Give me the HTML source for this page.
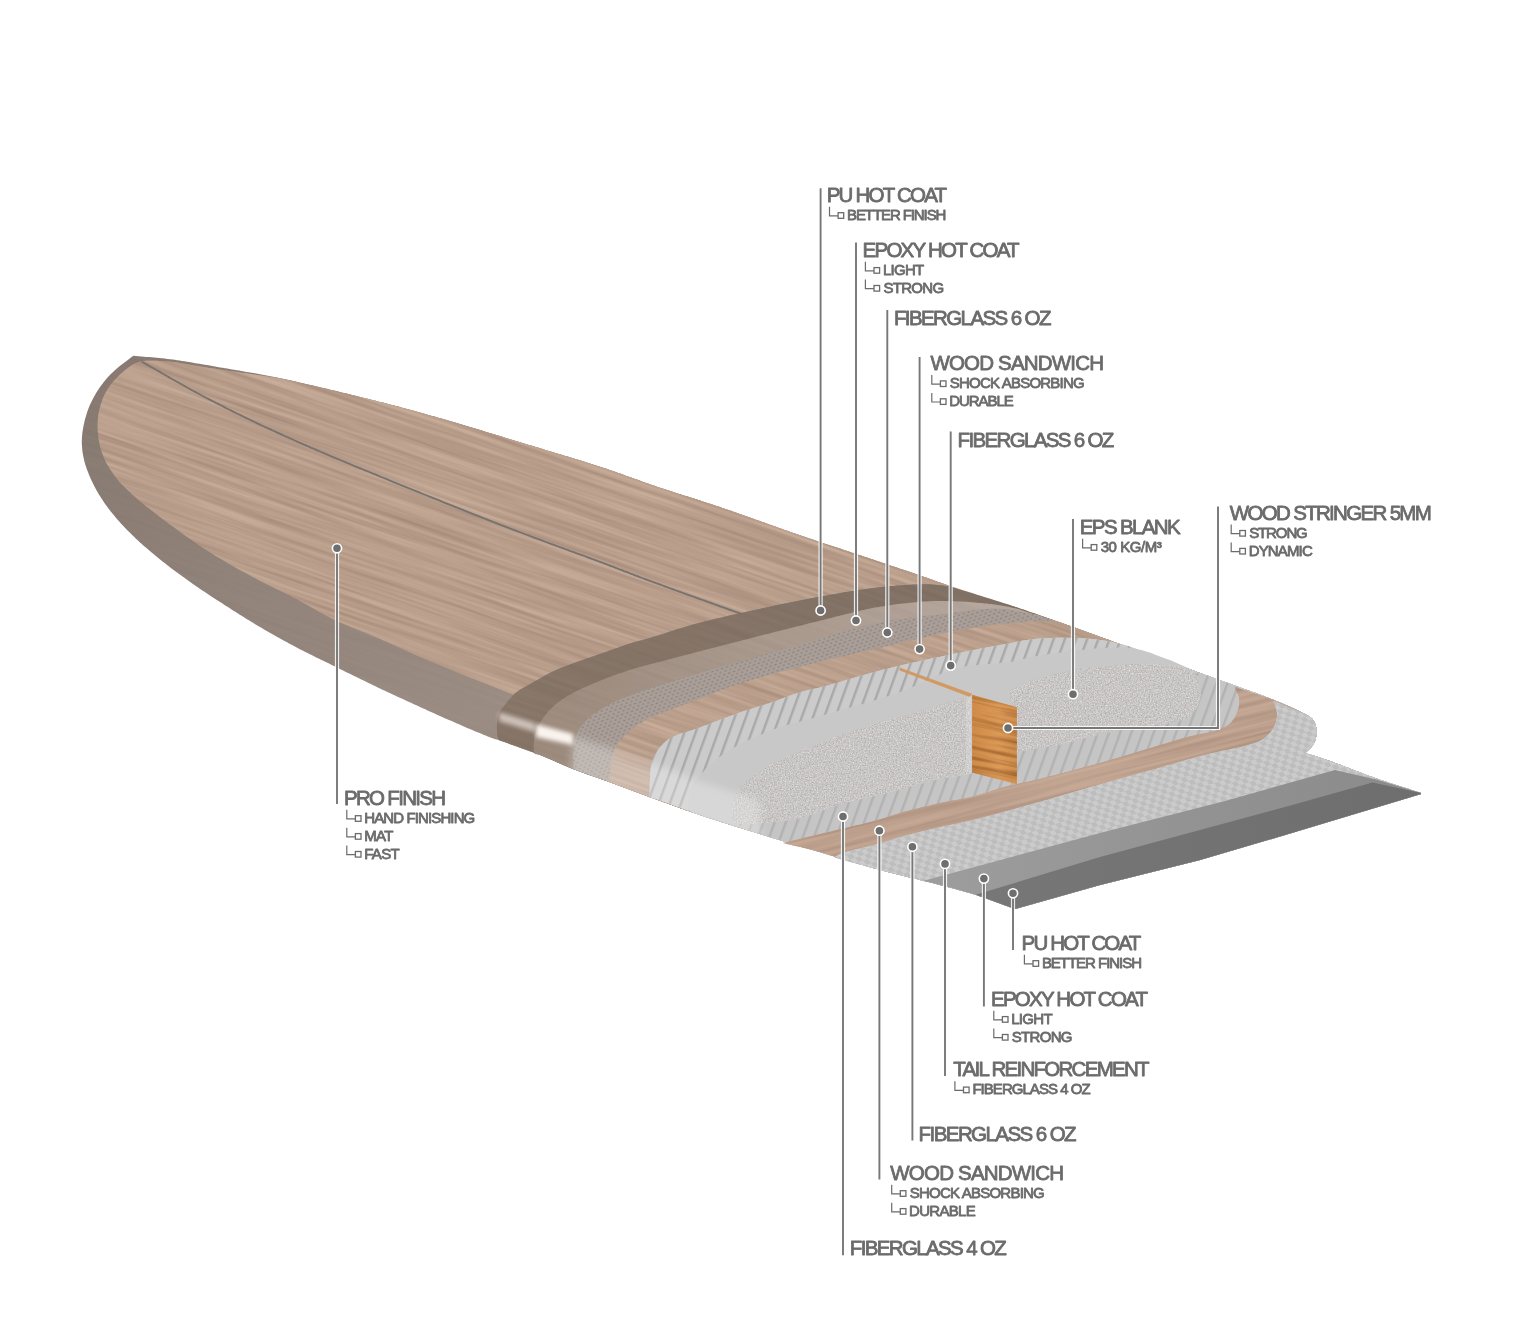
<!DOCTYPE html>
<html><head><meta charset="utf-8">
<style>
html,body{margin:0;padding:0;background:#fff;width:1531px;height:1341px;overflow:hidden}
svg{position:absolute;left:0;top:0;will-change:transform}
text{font-family:"Liberation Sans",sans-serif;fill:#6b6b6b;stroke:#6b6b6b;stroke-width:0.8px;stroke-linejoin:round}
.m{font-size:20.5px;font-weight:400}
.s{font-size:15px;font-weight:400}
.ld line,.ld polyline{stroke:#777777;stroke-width:1.9}
.hl line,.hl polyline{stroke:#ffffff;stroke-width:4.2;opacity:.85}
.dt circle{fill:#6e6e6e;stroke:#fff;stroke-width:1.6}
</style></head><body>
<svg width="1531" height="1341" viewBox="0 0 1531 1341">
<defs>
<clipPath id="c0"><path d="M133.4,355.8 L136.0,356.0 L138.6,356.3 L141.1,356.5 L143.7,356.7 L146.2,356.9 L148.8,357.1 L151.4,357.3 L153.9,357.5 L156.5,357.7 L159.1,358.0 L161.8,358.3 L164.5,358.5 L167.2,358.9 L170.0,359.2 L172.3,359.5 L174.7,359.8 L177.0,360.2 L179.4,360.5 L181.9,360.9 L184.3,361.3 L186.8,361.7 L189.2,362.1 L191.7,362.5 L194.2,362.9 L196.8,363.4 L199.3,363.8 L201.9,364.2 L204.4,364.7 L207.0,365.1 L209.6,365.6 L212.2,366.0 L214.8,366.5 L217.4,366.9 L220.0,367.4 L222.4,367.8 L224.8,368.2 L227.1,368.6 L229.5,369.0 L231.9,369.4 L234.3,369.8 L236.7,370.2 L239.1,370.6 L241.5,371.0 L243.9,371.4 L246.3,371.9 L248.7,372.3 L251.2,372.7 L253.7,373.1 L256.2,373.6 L258.7,374.0 L261.3,374.5 L263.8,375.0 L266.4,375.5 L269.1,376.0 L271.8,376.5 L274.5,377.1 L277.2,377.6 L280.0,378.2 L282.2,378.7 L284.4,379.1 L286.6,379.6 L288.9,380.1 L291.2,380.6 L293.5,381.1 L295.9,381.6 L298.3,382.2 L300.8,382.7 L303.2,383.3 L305.7,383.9 L308.2,384.4 L310.7,385.0 L313.3,385.6 L315.8,386.2 L318.4,386.8 L321.0,387.4 L323.6,388.0 L326.2,388.6 L328.8,389.2 L331.3,389.9 L333.9,390.5 L336.5,391.1 L339.1,391.7 L341.7,392.4 L344.2,393.0 L346.8,393.6 L349.3,394.2 L351.9,394.9 L354.4,395.5 L356.8,396.1 L359.3,396.7 L361.7,397.3 L364.1,397.9 L366.5,398.5 L368.9,399.1 L371.2,399.7 L373.4,400.2 L375.7,400.8 L377.9,401.4 L380.0,401.9 L382.8,402.6 L385.5,403.3 L388.1,404.0 L390.7,404.7 L393.3,405.3 L395.7,406.0 L398.2,406.6 L400.6,407.2 L403.0,407.9 L405.3,408.5 L407.7,409.2 L410.0,409.8 L412.4,410.4 L414.7,411.1 L417.1,411.7 L419.5,412.4 L421.9,413.1 L424.3,413.7 L426.8,414.4 L429.3,415.2 L431.9,415.9 L434.5,416.6 L437.2,417.4 L440.0,418.2 L442.2,418.8 L444.4,419.5 L446.6,420.1 L448.9,420.8 L451.2,421.4 L453.5,422.1 L455.9,422.8 L458.3,423.5 L460.8,424.3 L463.2,425.0 L465.7,425.7 L468.2,426.5 L470.7,427.2 L473.3,428.0 L475.8,428.8 L478.4,429.5 L481.0,430.3 L483.5,431.1 L486.1,431.9 L488.7,432.7 L491.3,433.5 L493.9,434.2 L496.5,435.0 L499.1,435.8 L501.7,436.6 L504.2,437.4 L506.8,438.2 L509.3,438.9 L511.8,439.7 L514.3,440.5 L516.8,441.2 L519.3,442.0 L521.7,442.7 L524.1,443.5 L526.5,444.2 L528.8,444.9 L531.1,445.6 L533.4,446.3 L535.7,447.0 L537.8,447.6 L540.0,448.3 L542.7,449.1 L545.3,449.9 L547.9,450.7 L550.5,451.5 L553.0,452.2 L555.5,453.0 L557.9,453.7 L560.3,454.4 L562.7,455.1 L565.1,455.9 L567.5,456.6 L569.8,457.3 L572.1,458.0 L574.5,458.7 L576.8,459.4 L579.1,460.1 L581.4,460.8 L583.7,461.5 L586.0,462.2 L588.3,462.9 L590.6,463.7 L592.9,464.4 L595.3,465.2 L597.6,465.9 L600.0,466.7 L602.4,467.5 L604.8,468.3 L607.2,469.1 L609.6,469.9 L612.0,470.8 L614.4,471.6 L616.8,472.4 L619.2,473.3 L621.6,474.1 L624.0,475.0 L626.4,475.9 L628.8,476.7 L631.2,477.6 L633.6,478.4 L636.0,479.3 L638.4,480.1 L640.8,481.0 L643.2,481.9 L645.6,482.7 L648.0,483.6 L650.4,484.4 L652.8,485.2 L655.2,486.1 L657.6,486.9 L660.0,487.7 L662.4,488.5 L664.8,489.3 L667.1,490.1 L669.5,490.8 L671.9,491.6 L674.2,492.4 L676.5,493.1 L678.9,493.9 L681.2,494.6 L683.6,495.4 L685.9,496.1 L688.3,496.8 L690.6,497.6 L693.0,498.3 L695.4,499.1 L697.8,499.8 L700.2,500.6 L702.6,501.4 L705.0,502.2 L707.5,503.0 L709.9,503.8 L712.4,504.6 L714.9,505.4 L717.4,506.2 L720.0,507.1 L722.3,507.9 L724.6,508.7 L726.9,509.5 L729.3,510.3 L731.7,511.1 L734.1,511.9 L736.5,512.8 L739.0,513.7 L741.4,514.5 L743.9,515.4 L746.4,516.3 L748.9,517.2 L751.4,518.1 L754.0,519.0 L756.5,519.9 L759.0,520.8 L761.5,521.7 L764.1,522.6 L766.6,523.5 L769.1,524.4 L771.6,525.3 L774.1,526.2 L776.6,527.1 L779.0,527.9 L781.4,528.8 L783.9,529.7 L786.3,530.5 L788.6,531.3 L791.0,532.2 L793.3,533.0 L795.6,533.8 L797.8,534.5 L800.0,535.3 L802.7,536.2 L805.3,537.1 L807.8,538.0 L810.3,538.8 L812.8,539.6 L815.3,540.5 L817.7,541.3 L820.1,542.1 L822.5,542.9 L824.9,543.7 L827.2,544.4 L829.6,545.2 L831.9,546.0 L834.3,546.8 L836.6,547.5 L839.0,548.3 L841.4,549.1 L843.8,549.9 L846.2,550.7 L848.7,551.5 L851.2,552.4 L853.7,553.2 L856.1,554.0 L858.5,554.8 L860.9,555.6 L863.4,556.4 L865.9,557.3 L868.4,558.1 L871.0,559.0 L873.6,559.8 L876.2,560.7 L878.7,561.6 L881.3,562.4 L883.9,563.3 L886.5,564.1 L889.1,565.0 L891.6,565.9 L894.2,566.7 L896.7,567.5 L899.1,568.4 L901.6,569.2 L904.0,570.0 L906.3,570.8 L908.6,571.6 L910.8,572.3 L913.0,573.1 L915.1,573.8 L917.2,574.5 L919.9,575.4 L922.5,576.3 L924.9,577.2 L927.3,578.0 L929.5,578.8 L931.7,579.6 L933.9,580.4 L936.1,581.2 L938.4,582.0 L940.7,582.8 L943.2,583.7 L945.8,584.6 L948.6,585.5 L950.6,586.2 L952.7,586.9 L954.8,587.6 L957.0,588.3 L959.3,589.0 L961.6,589.8 L964.0,590.5 L966.4,591.3 L968.9,592.1 L971.4,592.8 L973.9,593.6 L976.4,594.4 L979.0,595.2 L981.6,596.1 L984.2,596.9 L986.8,597.7 L989.4,598.5 L992.0,599.3 L994.6,600.2 L997.2,601.0 L999.8,601.8 L1002.4,602.7 L1004.9,603.5 L1007.5,604.3 L1010.0,605.1 L1012.4,605.9 L1014.8,606.7 L1017.2,607.5 L1019.8,608.4 L1022.3,609.2 L1024.9,610.1 L1027.5,611.0 L1030.0,611.9 L1032.6,612.7 L1035.1,613.6 L1037.7,614.5 L1040.3,615.4 L1042.8,616.3 L1045.3,617.2 L1047.8,618.1 L1050.3,619.0 L1052.8,619.8 L1055.2,620.7 L1057.7,621.6 L1060.1,622.4 L1062.5,623.3 L1064.8,624.1 L1067.1,624.9 L1069.4,625.7 L1071.6,626.5 L1073.8,627.3 L1076.0,628.1 L1078.6,629.0 L1081.2,630.0 L1083.7,630.8 L1086.1,631.7 L1088.4,632.6 L1090.8,633.4 L1093.1,634.3 L1095.4,635.1 L1097.6,635.9 L1099.9,636.8 L1102.2,637.6 L1104.5,638.4 L1106.8,639.3 L1109.1,640.1 L1111.5,641.0 L1113.9,641.9 L1116.3,642.8 L1118.8,643.7 L1121.3,644.6 L1123.8,645.5 L1126.4,646.4 L1128.9,647.3 L1131.4,648.3 L1133.9,649.2 L1136.4,650.1 L1138.8,650.9 L1141.2,651.8 L1143.5,652.7 L1145.8,653.5 L1147.9,654.3 L1150.0,655.0 L1152.8,656.0 L1155.4,657.0 L1157.9,657.9 L1160.3,658.7 L1162.7,659.6 L1165.0,660.4 L1167.5,661.3 L1170.0,662.2 L1172.5,663.1 L1175.1,664.0 L1177.6,664.9 L1180.2,665.9 L1182.8,666.8 L1185.5,667.7 L1188.1,668.7 L1190.8,669.6 L1193.5,670.6 L1195.9,671.5 L1198.4,672.4 L1201.0,673.3 L1203.5,674.2 L1206.1,675.2 L1208.7,676.1 L1211.2,677.0 L1213.7,677.9 L1216.1,678.8 L1218.4,679.6 L1220.5,680.4 L1223.5,681.5 L1226.1,682.4 L1228.7,683.3 L1231.4,684.3 L1234.6,685.5 L1236.5,686.2 L1238.6,686.9 L1240.8,687.7 L1243.1,688.5 L1245.5,689.4 L1248.0,690.3 L1250.6,691.2 L1253.2,692.2 L1255.8,693.1 L1258.4,694.1 L1261.1,695.0 L1263.7,696.0 L1266.2,697.0 L1268.7,697.9 L1271.1,698.9 L1273.4,699.8 L1276.0,700.9 L1278.6,702.0 L1281.1,703.0 L1283.5,704.1 L1286.0,705.2 L1288.4,706.3 L1290.8,707.4 L1293.2,708.5 L1295.6,709.6 L1298.0,710.7 L1300.4,711.8 L1302.8,712.9 L1302.8,712.9 L1305.3,714.3 L1307.8,715.7 L1310.2,717.1 L1312.2,718.8 L1313.8,720.9 L1315.0,723.3 L1315.8,725.8 L1316.4,728.8 L1316.6,732.0 L1316.4,735.2 L1315.8,738.4 L1314.9,741.6 L1313.4,744.6 L1311.7,746.8 L1309.6,748.9 L1307.4,750.9 L1305.2,752.9 L1305.2,752.9 L1307.6,753.7 L1310.0,754.5 L1312.4,755.2 L1314.8,756.0 L1317.2,756.8 L1319.6,757.6 L1322.0,758.4 L1324.6,759.2 L1327.2,760.1 L1330.0,761.1 L1332.1,761.8 L1334.2,762.6 L1336.4,763.4 L1338.6,764.3 L1340.9,765.1 L1343.2,766.0 L1345.6,766.9 L1348.0,767.8 L1350.4,768.8 L1352.9,769.7 L1355.3,770.7 L1357.8,771.6 L1360.3,772.6 L1362.8,773.5 L1365.2,774.5 L1367.7,775.4 L1370.2,776.3 L1372.6,777.1 L1375.0,778.0 L1377.4,778.8 L1379.8,779.7 L1382.2,780.5 L1384.6,781.3 L1387.0,782.1 L1389.5,782.9 L1391.9,783.7 L1394.3,784.5 L1396.7,785.2 L1399.2,786.0 L1401.6,786.8 L1404.0,787.6 L1406.4,788.3 L1408.9,789.1 L1411.3,789.9 L1413.7,790.7 L1416.2,791.4 L1418.6,792.2 L1421.0,793.0 L1421.0,794.0 L1285.0,835.0 L1200.0,860.0 L1100.0,885.0 L1015.0,909.0 L1015.0,909.0 L975.6,894.8 L936.4,884.0 L877.6,869.3 L818.8,851.7 L760.0,834.0 L700.0,815.0 L652.4,798.0 L609.3,782.0 L573.4,769.2 L540.0,755.0 L498.7,740.0 L498.7,740.0 L494.5,739.0 L493.2,738.6 L491.7,738.0 L489.9,737.3 L487.9,736.5 L485.7,735.6 L483.4,734.7 L480.9,733.6 L478.3,732.6 L475.6,731.4 L472.8,730.3 L470.0,729.1 L467.2,727.9 L464.5,726.7 L461.7,725.5 L459.0,724.3 L456.4,723.2 L453.9,722.1 L451.6,721.1 L449.1,720.0 L446.7,718.9 L444.2,717.9 L441.8,716.8 L439.4,715.7 L437.0,714.7 L434.7,713.6 L432.3,712.5 L429.9,711.5 L427.6,710.4 L425.3,709.3 L422.9,708.2 L420.5,707.2 L418.2,706.1 L415.8,705.0 L413.4,703.9 L411.1,702.8 L408.7,701.8 L406.3,700.7 L404.0,699.6 L401.7,698.6 L399.3,697.5 L397.0,696.4 L394.6,695.3 L392.2,694.2 L389.8,693.1 L387.4,692.0 L385.0,690.8 L382.5,689.7 L380.0,688.5 L377.8,687.4 L375.5,686.3 L373.2,685.2 L370.8,684.1 L368.5,683.0 L366.1,681.8 L363.7,680.6 L361.3,679.5 L358.9,678.3 L356.5,677.1 L354.1,675.9 L351.7,674.7 L349.3,673.6 L346.9,672.4 L344.5,671.2 L342.2,670.0 L339.8,668.9 L337.5,667.7 L335.2,666.6 L332.8,665.4 L330.4,664.3 L328.1,663.1 L325.7,661.9 L323.3,660.8 L321.0,659.7 L318.7,658.5 L316.3,657.4 L314.0,656.2 L311.7,655.1 L309.4,654.0 L307.1,652.8 L304.9,651.7 L302.6,650.5 L300.3,649.4 L298.1,648.2 L295.8,647.0 L293.5,645.8 L291.2,644.6 L289.0,643.4 L286.7,642.1 L284.5,640.9 L282.3,639.7 L280.1,638.5 L277.8,637.3 L275.6,636.0 L273.4,634.8 L271.2,633.5 L269.0,632.2 L266.8,631.0 L264.5,629.7 L262.3,628.3 L260.0,627.0 L257.8,625.7 L255.6,624.4 L253.4,623.0 L251.2,621.7 L248.9,620.3 L246.6,618.9 L244.4,617.5 L242.1,616.1 L239.8,614.7 L237.6,613.2 L235.3,611.8 L233.1,610.4 L230.9,609.0 L228.8,607.6 L226.6,606.3 L224.5,604.9 L222.5,603.6 L220.5,602.3 L218.1,600.7 L215.7,599.2 L213.4,597.7 L211.1,596.2 L208.9,594.7 L206.7,593.3 L204.6,591.8 L202.4,590.4 L200.2,588.9 L198.1,587.4 L195.9,585.9 L193.7,584.4 L191.6,582.9 L189.5,581.5 L187.5,580.0 L185.4,578.5 L183.3,577.0 L181.2,575.5 L179.1,574.0 L177.1,572.5 L175.0,571.0 L173.0,569.4 L170.9,567.9 L168.8,566.3 L166.8,564.7 L164.7,563.1 L162.6,561.4 L160.5,559.7 L158.3,558.0 L156.2,556.3 L154.1,554.6 L152.0,552.8 L149.9,551.1 L147.9,549.3 L145.9,547.6 L143.9,545.9 L141.9,544.1 L140.0,542.4 L138.0,540.6 L136.0,538.7 L134.1,536.8 L132.2,535.0 L130.3,533.1 L128.4,531.3 L126.6,529.4 L124.8,527.6 L123.1,525.7 L121.4,523.9 L119.7,522.0 L117.9,519.9 L116.1,517.9 L114.4,515.8 L112.7,513.8 L111.0,511.7 L109.4,509.7 L107.8,507.6 L106.3,505.5 L104.8,503.4 L103.2,501.1 L101.7,498.8 L100.3,496.6 L98.8,494.3 L97.5,491.9 L96.1,489.6 L94.9,487.2 L93.6,484.7 L92.4,482.3 L91.3,479.9 L90.2,477.4 L89.1,474.9 L88.1,472.3 L87.1,469.8 L86.2,467.3 L85.4,464.8 L84.7,462.4 L84.0,459.8 L83.5,457.3 L83.0,454.7 L82.6,452.3 L82.3,449.8 L82.1,447.4 L81.9,445.0 L81.8,442.1 L81.9,439.3 L82.0,436.5 L82.3,433.7 L82.7,430.8 L83.1,428.2 L83.6,425.6 L84.2,422.9 L84.8,420.1 L85.6,417.4 L86.4,414.7 L87.2,412.1 L88.1,409.6 L89.0,407.2 L90.0,404.8 L91.1,402.5 L92.2,400.2 L93.4,397.9 L94.6,395.7 L96.0,393.3 L97.4,391.0 L98.9,388.8 L100.4,386.6 L102.0,384.4 L103.6,382.3 L105.3,380.2 L107.1,378.1 L109.0,376.1 L110.9,374.1 L112.8,372.2 L114.7,370.4 L116.9,368.4 L119.2,366.5 L121.5,364.7 L123.8,363.0 L125.9,361.4 L128.5,359.4 L131.0,357.6 L133.4,355.8 Z"/></clipPath><clipPath id="c1"><path d="M280.0,378.2 L282.4,378.8 L284.9,379.4 L287.4,379.9 L289.9,380.5 L292.4,381.1 L294.9,381.7 L297.4,382.3 L299.9,382.9 L302.4,383.5 L305.0,384.0 L307.5,384.6 L310.0,385.2 L312.6,385.8 L315.1,386.4 L317.7,387.0 L320.2,387.6 L322.8,388.2 L325.3,388.8 L327.8,389.4 L330.3,389.9 L332.9,390.5 L335.4,391.1 L337.9,391.7 L340.4,392.3 L342.8,392.9 L345.3,393.5 L347.8,394.0 L350.2,394.6 L352.6,395.2 L355.0,395.8 L357.4,396.3 L359.8,396.9 L362.1,397.5 L364.4,398.0 L366.7,398.6 L369.0,399.2 L371.3,399.7 L373.5,400.3 L375.7,400.8 L377.9,401.4 L380.0,401.9 L382.8,402.6 L385.5,403.3 L388.1,404.0 L390.7,404.7 L393.3,405.3 L395.7,406.0 L398.2,406.6 L400.6,407.2 L403.0,407.9 L405.3,408.5 L407.7,409.2 L410.0,409.8 L412.4,410.4 L414.7,411.1 L417.1,411.7 L419.5,412.4 L421.9,413.1 L424.3,413.7 L426.8,414.4 L429.3,415.2 L431.9,415.9 L434.5,416.6 L437.2,417.4 L440.0,418.2 L442.2,418.8 L444.4,419.5 L446.6,420.1 L448.9,420.8 L451.2,421.4 L453.5,422.1 L455.9,422.8 L458.3,423.5 L460.8,424.3 L463.2,425.0 L465.7,425.7 L468.2,426.5 L470.7,427.2 L473.3,428.0 L475.8,428.8 L478.4,429.5 L481.0,430.3 L483.5,431.1 L486.1,431.9 L488.7,432.7 L491.3,433.5 L493.9,434.2 L496.5,435.0 L499.1,435.8 L501.7,436.6 L504.2,437.4 L506.8,438.2 L509.3,438.9 L511.8,439.7 L514.3,440.5 L516.8,441.2 L519.3,442.0 L521.7,442.7 L524.1,443.5 L526.5,444.2 L528.8,444.9 L531.1,445.6 L533.4,446.3 L535.7,447.0 L537.8,447.6 L540.0,448.3 L542.7,449.1 L545.3,449.9 L547.9,450.7 L550.5,451.5 L553.0,452.2 L555.5,453.0 L557.9,453.7 L560.3,454.4 L562.7,455.1 L565.1,455.9 L567.5,456.6 L569.8,457.3 L572.1,458.0 L574.5,458.7 L576.8,459.4 L579.1,460.1 L581.4,460.8 L583.7,461.5 L586.0,462.2 L588.3,462.9 L590.6,463.7 L592.9,464.4 L595.3,465.2 L597.6,465.9 L600.0,466.7 L602.4,467.5 L604.8,468.3 L607.2,469.1 L609.6,469.9 L612.0,470.8 L614.4,471.6 L616.8,472.4 L619.2,473.3 L621.6,474.1 L624.0,475.0 L626.4,475.9 L628.8,476.7 L631.2,477.6 L633.6,478.4 L636.0,479.3 L638.4,480.1 L640.8,481.0 L643.2,481.9 L645.6,482.7 L648.0,483.6 L650.4,484.4 L652.8,485.2 L655.2,486.1 L657.6,486.9 L660.0,487.7 L662.4,488.5 L664.8,489.3 L667.1,490.1 L669.5,490.8 L671.9,491.6 L674.2,492.4 L676.5,493.1 L678.9,493.9 L681.2,494.6 L683.6,495.4 L685.9,496.1 L688.3,496.8 L690.6,497.6 L693.0,498.3 L695.4,499.1 L697.8,499.8 L700.2,500.6 L702.6,501.4 L705.0,502.2 L707.5,503.0 L709.9,503.8 L712.4,504.6 L714.9,505.4 L717.4,506.2 L720.0,507.1 L722.3,507.9 L724.6,508.7 L726.9,509.5 L729.3,510.3 L731.7,511.1 L734.1,511.9 L736.5,512.8 L739.0,513.7 L741.4,514.5 L743.9,515.4 L746.4,516.3 L748.9,517.2 L751.4,518.1 L754.0,519.0 L756.5,519.9 L759.0,520.8 L761.5,521.7 L764.1,522.6 L766.6,523.5 L769.1,524.4 L771.6,525.3 L774.1,526.2 L776.6,527.1 L779.0,527.9 L781.4,528.8 L783.9,529.7 L786.3,530.5 L788.6,531.3 L791.0,532.2 L793.3,533.0 L795.6,533.8 L797.8,534.5 L800.0,535.3 L802.7,536.2 L805.3,537.1 L807.8,538.0 L810.3,538.8 L812.8,539.6 L815.3,540.5 L817.7,541.3 L820.1,542.1 L822.5,542.9 L824.9,543.7 L827.2,544.4 L829.6,545.2 L831.9,546.0 L834.3,546.8 L836.6,547.5 L839.0,548.3 L841.4,549.1 L843.8,549.9 L846.2,550.7 L848.7,551.5 L851.2,552.4 L853.7,553.2 L856.1,554.0 L858.5,554.8 L860.9,555.6 L863.4,556.4 L865.9,557.3 L868.4,558.1 L871.0,559.0 L873.6,559.8 L876.2,560.7 L878.7,561.6 L881.3,562.4 L883.9,563.3 L886.5,564.1 L889.1,565.0 L891.6,565.9 L894.2,566.7 L896.7,567.5 L899.1,568.4 L901.6,569.2 L904.0,570.0 L906.3,570.8 L908.6,571.6 L910.8,572.3 L913.0,573.1 L915.1,573.8 L917.2,574.5 L920.0,575.5 L922.6,576.4 L925.2,577.3 L927.7,578.1 L930.1,579.0 L932.4,579.8 L934.7,580.6 L937.0,581.4 L939.3,582.2 L941.6,583.0 L943.9,583.8 L946.2,584.7 L948.6,585.5 L948.6,586.3 L945.9,586.0 L943.3,585.6 L940.7,585.3 L938.0,584.9 L935.2,584.7 L932.3,584.4 L929.0,584.3 L927.0,584.3 L924.8,584.3 L922.6,584.3 L920.3,584.3 L917.9,584.4 L915.4,584.5 L912.9,584.6 L910.3,584.7 L907.6,584.9 L905.0,585.0 L902.2,585.2 L899.5,585.4 L896.7,585.6 L893.9,585.9 L891.1,586.1 L888.3,586.4 L885.5,586.6 L882.8,586.9 L880.0,587.2 L877.7,587.5 L875.3,587.7 L872.9,588.0 L870.5,588.3 L868.1,588.7 L865.6,589.0 L863.1,589.4 L860.6,589.7 L858.1,590.1 L855.6,590.5 L853.1,590.9 L850.6,591.3 L848.0,591.7 L845.5,592.1 L842.9,592.5 L840.4,593.0 L837.8,593.4 L835.3,593.9 L832.7,594.3 L830.2,594.8 L827.6,595.2 L825.1,595.7 L822.5,596.1 L820.0,596.6 L817.5,597.0 L815.0,597.5 L812.5,598.0 L810.0,598.4 L807.5,598.9 L804.9,599.4 L802.4,599.9 L799.9,600.4 L797.3,600.9 L794.8,601.4 L792.3,601.9 L789.7,602.4 L787.2,603.0 L784.7,603.5 L782.1,604.0 L779.6,604.5 L777.1,605.1 L774.6,605.6 L772.1,606.2 L769.6,606.7 L767.1,607.2 L764.6,607.8 L762.2,608.3 L759.7,608.9 L757.3,609.4 L754.8,609.9 L752.4,610.5 L750.0,611.0 L747.4,611.6 L744.8,612.2 L742.2,612.7 L739.6,613.3 L737.0,613.9 L734.4,614.5 L731.8,615.0 L729.3,615.6 L726.7,616.2 L724.2,616.8 L721.7,617.4 L719.1,618.0 L716.6,618.6 L714.1,619.1 L711.7,619.7 L709.2,620.4 L706.7,621.0 L704.3,621.6 L701.9,622.2 L699.5,622.8 L697.1,623.5 L694.7,624.1 L692.1,624.8 L689.4,625.6 L686.7,626.4 L684.1,627.2 L681.4,628.0 L678.8,628.8 L676.1,629.6 L673.5,630.5 L670.9,631.3 L668.4,632.1 L665.9,632.9 L663.4,633.7 L661.0,634.5 L658.6,635.2 L656.4,636.0 L654.2,636.6 L652.0,637.3 L650.0,637.9 L647.1,638.7 L644.4,639.5 L641.8,640.2 L639.3,640.8 L636.9,641.4 L634.6,642.1 L632.3,642.7 L630.0,643.4 L627.4,644.2 L625.0,645.1 L622.7,645.9 L620.3,646.8 L617.9,647.7 L615.3,648.6 L612.9,649.5 L610.3,650.3 L607.7,651.2 L605.1,652.2 L602.4,653.1 L599.7,654.0 L597.0,655.0 L594.4,655.9 L591.8,656.8 L589.2,657.7 L586.6,658.6 L583.9,659.5 L581.3,660.4 L578.7,661.3 L576.1,662.2 L573.5,663.2 L571.2,664.1 L568.8,664.9 L566.5,665.8 L564.2,666.7 L561.8,667.6 L559.5,668.6 L557.2,669.5 L554.9,670.5 L552.6,671.6 L550.2,672.8 L547.9,674.0 L545.5,675.2 L543.1,676.6 L540.8,677.9 L538.5,679.2 L536.2,680.5 L534.0,681.8 L531.8,683.1 L529.4,684.5 L527.1,685.8 L524.9,687.2 L522.7,688.5 L520.5,689.8 L518.3,691.2 L516.1,692.5 L513.0,694.6 L510.5,693.6 L508.0,692.6 L505.6,691.5 L503.1,690.5 L500.6,689.5 L498.1,688.5 L495.5,687.4 L492.8,686.3 L490.0,685.2 L487.9,684.3 L485.7,683.5 L483.4,682.6 L481.1,681.7 L478.7,680.7 L476.3,679.8 L473.8,678.9 L471.3,677.9 L468.8,676.9 L466.3,676.0 L463.8,675.0 L461.3,674.0 L458.8,673.0 L456.4,672.0 L454.0,671.1 L451.6,670.1 L449.2,669.1 L446.8,668.1 L444.3,667.1 L441.9,666.1 L439.6,665.1 L437.2,664.1 L434.8,663.1 L432.4,662.1 L430.0,661.1 L427.7,660.0 L425.3,659.0 L422.9,658.0 L420.6,657.0 L418.2,655.9 L415.8,654.9 L413.4,653.9 L411.1,652.8 L408.7,651.7 L406.4,650.7 L404.0,649.6 L401.7,648.6 L399.3,647.5 L397.0,646.4 L394.6,645.3 L392.2,644.2 L389.8,643.2 L387.4,642.1 L385.0,641.0 L382.5,639.9 L380.0,638.8 L377.8,637.8 L375.5,636.9 L373.2,635.9 L370.8,635.0 L368.5,634.0 L366.1,633.1 L363.7,632.1 L361.3,631.2 L358.9,630.2 L356.5,629.3 L354.1,628.3 L351.6,627.3 L349.2,626.3 L346.8,625.3 L344.5,624.3 L342.1,623.3 L339.8,622.2 L337.5,621.2 L335.2,620.1 L332.8,618.9 L330.4,617.7 L328.0,616.5 L325.6,615.2 L323.3,613.9 L321.0,612.7 L318.6,611.4 L316.3,610.1 L314.0,608.7 L311.7,607.4 L309.4,606.1 L307.2,604.8 L304.9,603.6 L302.6,602.3 L300.3,601.0 L298.1,599.8 L295.8,598.6 L293.5,597.4 L291.2,596.3 L289.0,595.1 L286.7,594.0 L284.4,592.8 L282.1,591.7 L279.9,590.6 L277.6,589.5 L275.4,588.4 L273.1,587.3 L270.9,586.2 L268.7,585.1 L266.5,584.0 L264.3,582.9 L262.1,581.8 L260.0,580.7 L257.6,579.4 L255.1,578.1 L252.7,576.9 L250.3,575.6 L248.0,574.3 L245.6,573.0 L243.3,571.8 L240.9,570.5 L238.6,569.2 L236.3,567.9 L234.0,566.6 L231.8,565.3 L229.5,564.0 L227.2,562.7 L224.9,561.3 L222.6,560.0 L220.3,558.6 L218.1,557.2 L215.8,555.9 L213.6,554.5 L211.4,553.1 L209.2,551.7 L207.0,550.3 L204.8,548.9 L202.6,547.5 L200.4,546.1 L198.2,544.6 L196.0,543.1 L193.9,541.6 L191.7,540.0 L189.5,538.5 L187.4,537.0 L185.2,535.5 L183.1,533.9 L181.1,532.4 L179.0,531.0 L177.0,529.5 L174.7,527.8 L172.4,526.1 L170.1,524.5 L167.9,522.8 L165.7,521.2 L163.5,519.6 L161.3,517.9 L159.2,516.3 L157.0,514.6 L154.9,513.0 L152.8,511.3 L150.7,509.7 L148.6,508.1 L146.5,506.4 L144.5,504.8 L142.4,503.1 L140.4,501.4 L138.4,499.7 L136.4,498.0 L134.4,496.2 L132.4,494.4 L130.4,492.6 L128.5,490.9 L126.6,489.1 L124.8,487.3 L123.1,485.6 L121.5,484.0 L119.6,481.9 L118.0,479.9 L116.4,478.0 L115.0,476.0 L113.5,474.0 L111.8,471.5 L110.1,469.1 L108.5,466.6 L107.0,464.0 L105.6,461.3 L104.4,458.6 L103.2,455.8 L102.2,453.0 L101.3,450.3 L100.5,447.6 L99.8,444.8 L99.2,442.0 L98.7,439.1 L98.3,436.1 L98.0,433.1 L97.8,430.0 L97.7,427.2 L97.7,424.4 L97.8,421.5 L98.0,418.7 L98.3,415.8 L98.7,413.3 L99.2,410.8 L99.8,408.3 L100.5,405.8 L101.2,403.3 L102.0,401.0 L103.1,398.0 L104.4,395.1 L105.8,392.4 L107.3,389.7 L108.9,387.2 L110.7,384.7 L112.6,382.4 L114.7,380.0 L116.4,378.2 L118.1,376.4 L120.0,374.6 L121.9,372.9 L123.9,371.2 L125.9,369.6 L127.9,368.1 L130.0,366.6 L132.1,365.1 L134.3,363.8 L136.7,362.7 L139.4,361.8 L141.5,361.3 L143.7,361.0 L146.1,360.8 L148.6,360.7 L151.2,360.7 L153.9,360.7 L156.6,360.8 L159.3,361.0 L162.1,361.2 L164.8,361.4 L167.4,361.6 L170.0,361.8 L172.5,362.0 L174.9,362.3 L177.4,362.6 L179.8,363.0 L182.1,363.4 L184.6,363.8 L187.0,364.2 L189.5,364.7 L192.0,365.1 L194.6,365.6 L197.2,366.1 L200.0,366.5 L202.2,366.8 L204.5,367.2 L206.8,367.5 L209.2,367.9 L211.6,368.3 L214.1,368.6 L216.6,369.0 L219.1,369.4 L221.6,369.8 L224.2,370.1 L226.8,370.5 L229.4,370.9 L232.0,371.3 L234.6,371.7 L237.2,372.1 L239.8,372.5 L242.4,372.9 L244.9,373.2 L247.5,373.6 L250.0,374.0 Z"/></clipPath><clipPath id="c2"><path d="M498.7,740.0 L497.3,735.3 L497.1,733.4 L497.0,730.9 L496.9,728.2 L496.9,725.3 L497.1,722.3 L497.3,719.4 L497.8,716.7 L498.4,714.4 L499.5,712.0 L500.8,709.9 L502.4,707.9 L504.0,706.0 L505.7,704.0 L507.2,702.1 L508.8,700.1 L510.5,698.1 L512.3,696.1 L514.1,694.3 L516.1,692.5 L518.1,691.0 L520.2,689.6 L522.4,688.3 L524.7,687.0 L527.0,685.7 L529.4,684.4 L531.8,683.1 L534.0,681.8 L536.2,680.5 L538.5,679.2 L540.8,677.9 L543.1,676.6 L545.5,675.2 L547.9,674.0 L550.2,672.8 L552.6,671.6 L554.9,670.5 L557.2,669.5 L559.5,668.6 L561.8,667.6 L564.2,666.7 L566.5,665.8 L568.8,664.9 L571.2,664.1 L573.5,663.2 L576.1,662.2 L578.7,661.3 L581.3,660.4 L583.9,659.5 L586.6,658.6 L589.2,657.7 L591.8,656.8 L594.4,655.9 L597.0,655.0 L599.7,654.0 L602.4,653.1 L605.1,652.2 L607.7,651.2 L610.3,650.3 L612.9,649.5 L615.3,648.6 L617.9,647.7 L620.3,646.8 L622.7,645.9 L625.0,645.1 L627.4,644.2 L630.0,643.4 L632.3,642.7 L634.6,642.1 L636.9,641.4 L639.3,640.8 L641.8,640.2 L644.4,639.5 L647.1,638.7 L650.0,637.9 L652.0,637.3 L654.2,636.6 L656.4,636.0 L658.6,635.2 L661.0,634.5 L663.4,633.7 L665.9,632.9 L668.4,632.1 L670.9,631.3 L673.5,630.5 L676.1,629.6 L678.8,628.8 L681.4,628.0 L684.1,627.2 L686.7,626.4 L689.4,625.6 L692.1,624.8 L694.7,624.1 L697.1,623.5 L699.5,622.8 L701.9,622.2 L704.3,621.6 L706.7,621.0 L709.2,620.4 L711.7,619.7 L714.1,619.1 L716.6,618.6 L719.1,618.0 L721.7,617.4 L724.2,616.8 L726.7,616.2 L729.3,615.6 L731.8,615.0 L734.4,614.5 L737.0,613.9 L739.6,613.3 L742.2,612.7 L744.8,612.2 L747.4,611.6 L750.0,611.0 L752.4,610.5 L754.8,609.9 L757.3,609.4 L759.7,608.9 L762.2,608.3 L764.6,607.8 L767.1,607.2 L769.6,606.7 L772.1,606.2 L774.6,605.6 L777.1,605.1 L779.6,604.5 L782.1,604.0 L784.7,603.5 L787.2,603.0 L789.7,602.4 L792.3,601.9 L794.8,601.4 L797.3,600.9 L799.9,600.4 L802.4,599.9 L804.9,599.4 L807.5,598.9 L810.0,598.4 L812.5,598.0 L815.0,597.5 L817.5,597.0 L820.0,596.6 L822.5,596.1 L825.1,595.7 L827.6,595.2 L830.2,594.8 L832.7,594.3 L835.3,593.9 L837.8,593.4 L840.4,593.0 L842.9,592.5 L845.5,592.1 L848.0,591.7 L850.6,591.3 L853.1,590.9 L855.6,590.5 L858.1,590.1 L860.6,589.7 L863.1,589.4 L865.6,589.0 L868.1,588.7 L870.5,588.3 L872.9,588.0 L875.3,587.7 L877.7,587.5 L880.0,587.2 L882.8,586.9 L885.5,586.6 L888.3,586.4 L891.1,586.1 L893.9,585.9 L896.7,585.6 L899.5,585.4 L902.2,585.2 L905.0,585.0 L907.6,584.9 L910.3,584.7 L912.9,584.6 L915.4,584.5 L917.9,584.4 L920.3,584.3 L922.6,584.3 L924.8,584.3 L927.0,584.3 L929.0,584.3 L932.3,584.4 L935.2,584.7 L938.0,584.9 L940.7,585.3 L943.3,585.6 L945.9,586.0 L948.6,586.3 L1017.2,607.5 L1019.7,608.4 L1022.1,609.2 L1024.7,610.1 L1027.2,611.0 L1029.7,611.9 L1032.2,612.8 L1034.8,613.6 L1037.3,614.5 L1039.9,615.4 L1042.5,616.3 L1045.0,617.2 L1047.5,618.1 L1050.0,619.0 L1052.6,619.8 L1055.0,620.7 L1057.5,621.6 L1059.9,622.4 L1062.3,623.3 L1064.7,624.1 L1067.1,624.9 L1069.4,625.7 L1071.6,626.5 L1073.8,627.3 L1076.0,628.1 L1078.6,629.0 L1081.2,630.0 L1083.7,630.8 L1086.1,631.7 L1088.4,632.6 L1090.8,633.4 L1093.1,634.3 L1095.4,635.1 L1097.6,635.9 L1099.9,636.8 L1102.2,637.6 L1104.5,638.4 L1106.8,639.3 L1109.1,640.1 L1111.5,641.0 L1113.9,641.9 L1116.3,642.8 L1118.8,643.7 L1121.3,644.6 L1123.8,645.5 L1126.4,646.4 L1128.9,647.3 L1131.4,648.3 L1133.9,649.2 L1136.4,650.1 L1138.8,650.9 L1141.2,651.8 L1143.5,652.7 L1145.8,653.5 L1147.9,654.3 L1150.0,655.0 L1152.8,656.0 L1155.4,657.0 L1157.9,657.9 L1160.3,658.7 L1162.7,659.6 L1165.0,660.4 L1167.5,661.3 L1170.0,662.2 L1172.5,663.1 L1175.1,664.0 L1177.6,664.9 L1180.2,665.9 L1182.8,666.8 L1185.5,667.7 L1188.1,668.7 L1190.8,669.6 L1193.5,670.6 L1195.9,671.5 L1198.4,672.4 L1201.0,673.3 L1203.5,674.2 L1206.1,675.2 L1208.7,676.1 L1211.2,677.0 L1213.7,677.9 L1216.1,678.8 L1218.4,679.6 L1220.5,680.4 L1223.5,681.5 L1226.1,682.4 L1228.7,683.3 L1231.4,684.3 L1234.6,685.5 L1236.5,686.2 L1238.6,686.9 L1240.8,687.7 L1243.1,688.5 L1245.5,689.4 L1248.0,690.3 L1250.6,691.2 L1253.2,692.2 L1255.8,693.1 L1258.4,694.1 L1261.1,695.0 L1263.7,696.0 L1266.2,697.0 L1268.7,697.9 L1271.1,698.9 L1273.4,699.8 L1276.1,700.9 L1278.8,702.0 L1281.5,703.1 L1284.2,704.3 L1286.8,705.4 L1289.4,706.6 L1292.0,707.7 L1294.4,708.8 L1296.7,709.9 L1298.9,710.9 L1301.0,711.9 L1302.8,712.9 L1305.7,714.4 L1308.2,715.8 L1310.4,717.2 L1312.2,718.8 L1313.8,720.9 L1315.0,723.3 L1315.8,725.8 L1316.4,728.8 L1316.6,732.0 L1316.4,735.2 L1315.8,738.4 L1314.9,741.6 L1313.4,744.6 L1311.7,746.8 L1309.6,748.9 L1307.4,750.9 L1305.2,752.9 L1305.2,752.9 L1307.6,753.7 L1310.0,754.5 L1312.4,755.2 L1314.8,756.0 L1317.2,756.8 L1319.6,757.6 L1322.0,758.4 L1324.6,759.2 L1327.2,760.1 L1330.0,761.1 L1332.1,761.8 L1334.2,762.6 L1336.4,763.4 L1338.6,764.3 L1340.9,765.1 L1343.2,766.0 L1345.6,766.9 L1348.0,767.8 L1350.4,768.8 L1352.9,769.7 L1355.3,770.7 L1357.8,771.6 L1360.3,772.6 L1362.8,773.5 L1365.2,774.5 L1367.7,775.4 L1370.2,776.3 L1372.6,777.1 L1375.0,778.0 L1377.4,778.8 L1379.8,779.7 L1382.2,780.5 L1384.6,781.3 L1387.0,782.1 L1389.5,782.9 L1391.9,783.7 L1394.3,784.5 L1396.7,785.2 L1399.2,786.0 L1401.6,786.8 L1404.0,787.6 L1406.4,788.3 L1408.9,789.1 L1411.3,789.9 L1413.7,790.7 L1416.2,791.4 L1418.6,792.2 L1421.0,793.0 L1421.0,794.0 L1285.0,835.0 L1200.0,860.0 L1100.0,885.0 L1015.0,909.0 L1015.0,909.0 L1012.5,908.1 L1010.1,907.2 L1007.6,906.3 L1005.2,905.4 L1002.7,904.5 L1000.2,903.5 L997.8,902.6 L995.3,901.7 L992.9,900.8 L990.4,899.9 L987.9,899.0 L985.5,898.1 L983.0,897.3 L980.5,896.4 L978.1,895.6 L975.6,894.8 L973.2,894.0 L970.8,893.3 L968.4,892.6 L966.0,891.9 L963.6,891.2 L961.3,890.6 L958.9,889.9 L956.5,889.3 L954.1,888.6 L951.7,888.0 L949.3,887.4 L946.8,886.7 L944.3,886.0 L941.7,885.4 L939.1,884.7 L936.4,884.0 L934.2,883.4 L931.9,882.8 L929.6,882.3 L927.3,881.7 L924.9,881.1 L922.5,880.5 L920.1,879.9 L917.7,879.3 L915.2,878.7 L912.7,878.1 L910.2,877.5 L907.7,876.9 L905.2,876.3 L902.7,875.7 L900.2,875.1 L897.6,874.5 L895.1,873.8 L892.6,873.2 L890.0,872.6 L887.5,871.9 L885.0,871.3 L882.5,870.6 L880.1,870.0 L877.6,869.3 L875.1,868.6 L872.7,867.9 L870.2,867.2 L867.8,866.5 L865.3,865.8 L862.9,865.1 L860.4,864.4 L858.0,863.6 L855.5,862.9 L853.1,862.2 L850.6,861.4 L848.2,860.7 L845.7,859.9 L843.3,859.2 L840.8,858.4 L838.4,857.7 L835.9,856.9 L833.5,856.2 L831.0,855.4 L828.6,854.7 L826.1,853.9 L823.7,853.2 L821.2,852.4 L818.8,851.7 L816.4,851.0 L813.9,850.2 L811.5,849.5 L809.0,848.8 L806.6,848.0 L804.1,847.3 L801.7,846.6 L799.2,845.8 L796.8,845.1 L794.3,844.4 L791.9,843.7 L789.4,842.9 L787.0,842.2 L784.5,841.5 L782.1,840.7 L779.6,840.0 L777.2,839.2 L774.7,838.5 L772.3,837.8 L769.8,837.0 L767.4,836.3 L764.9,835.5 L762.5,834.8 L760.0,834.0 L757.6,833.3 L755.2,832.5 L752.8,831.8 L750.3,831.0 L747.9,830.3 L745.5,829.5 L743.0,828.8 L740.6,828.0 L738.1,827.2 L735.7,826.5 L733.2,825.7 L730.8,824.9 L728.4,824.2 L725.9,823.4 L723.5,822.6 L721.1,821.9 L718.7,821.1 L716.3,820.3 L713.9,819.6 L711.5,818.8 L709.2,818.0 L706.9,817.3 L704.6,816.5 L702.3,815.8 L700.0,815.0 L697.5,814.1 L695.0,813.3 L692.5,812.4 L690.1,811.6 L687.6,810.7 L685.2,809.9 L682.8,809.0 L680.4,808.2 L678.0,807.3 L675.7,806.5 L673.3,805.6 L671.0,804.8 L668.6,803.9 L666.3,803.1 L664.0,802.2 L661.7,801.4 L659.4,800.5 L657.0,799.7 L654.7,798.8 L652.4,798.0 L649.9,797.1 L647.5,796.2 L645.0,795.3 L642.6,794.4 L640.2,793.5 L637.7,792.6 L635.3,791.7 L632.9,790.8 L630.5,789.9 L628.1,789.0 L625.7,788.1 L623.3,787.2 L620.9,786.3 L618.6,785.4 L616.2,784.5 L613.9,783.7 L611.6,782.8 L609.3,782.0 L606.8,781.1 L604.3,780.2 L601.9,779.4 L599.5,778.5 L597.0,777.7 L594.6,776.8 L592.2,776.0 L589.9,775.2 L587.5,774.4 L585.1,773.5 L582.8,772.7 L580.4,771.8 L578.1,771.0 L575.7,770.1 L573.4,769.2 L571.0,768.2 L568.6,767.3 L566.2,766.3 L563.9,765.3 L561.5,764.2 L559.2,763.2 L556.8,762.2 L554.5,761.1 L552.2,760.1 L549.8,759.1 L547.4,758.0 L545.0,757.0 L542.5,756.0 L540.0,755.0 L537.7,754.1 L535.4,753.2 L533.0,752.3 L530.6,751.4 L528.2,750.5 L525.8,749.7 L523.3,748.8 L520.9,747.9 L518.4,747.0 L515.9,746.1 L513.5,745.3 L511.0,744.4 L508.5,743.5 L506.0,742.6 L503.6,741.8 L501.1,740.9 L498.7,740.0 Z"/></clipPath><clipPath id="c3"><path d="M534.6,754.0 L533.8,750.0 L533.7,747.7 L533.7,744.8 L533.9,741.6 L534.3,738.4 L534.9,735.3 L535.7,732.6 L536.7,729.9 L537.9,727.3 L539.3,724.6 L540.7,722.0 L542.2,719.6 L543.7,717.3 L545.3,715.2 L547.0,713.1 L548.7,711.0 L550.6,709.0 L552.6,707.1 L554.6,705.3 L556.6,703.6 L558.7,702.0 L561.0,700.3 L563.3,698.7 L565.7,697.2 L568.3,695.6 L570.4,694.4 L572.5,693.2 L574.7,692.0 L577.0,690.9 L579.4,689.7 L581.8,688.6 L584.2,687.5 L586.7,686.4 L589.3,685.3 L591.8,684.2 L594.4,683.1 L596.6,682.2 L598.8,681.3 L601.1,680.3 L603.4,679.4 L605.8,678.5 L608.1,677.6 L610.5,676.7 L613.0,675.8 L615.4,675.0 L617.8,674.1 L620.3,673.2 L622.7,672.4 L625.2,671.6 L627.6,670.8 L630.0,670.0 L632.4,669.2 L634.8,668.5 L637.3,667.8 L639.7,667.1 L642.2,666.4 L644.6,665.8 L647.1,665.1 L649.5,664.5 L652.0,663.8 L654.4,663.2 L656.9,662.6 L659.4,661.9 L661.8,661.3 L664.3,660.7 L666.8,660.0 L669.3,659.3 L671.7,658.7 L674.1,658.1 L676.4,657.4 L678.7,656.8 L681.1,656.2 L683.4,655.6 L685.8,655.0 L688.3,654.3 L690.8,653.7 L693.4,653.0 L696.1,652.3 L698.9,651.6 L701.9,650.8 L705.0,650.0 L706.8,649.5 L708.8,649.0 L710.7,648.5 L712.8,648.0 L714.9,647.4 L717.0,646.9 L719.2,646.3 L721.5,645.7 L723.8,645.1 L726.2,644.5 L728.6,643.9 L731.0,643.3 L733.5,642.7 L736.0,642.0 L738.5,641.4 L741.1,640.7 L743.7,640.0 L746.3,639.4 L748.9,638.7 L751.6,638.0 L754.2,637.3 L756.9,636.6 L759.6,635.9 L762.3,635.3 L764.9,634.6 L767.6,633.9 L770.3,633.2 L773.0,632.5 L775.7,631.8 L778.3,631.2 L781.0,630.5 L783.6,629.8 L786.2,629.2 L788.8,628.5 L791.4,627.9 L793.9,627.2 L796.4,626.6 L798.9,626.0 L801.3,625.4 L803.7,624.8 L806.1,624.2 L808.4,623.6 L810.6,623.1 L812.8,622.5 L815.0,622.0 L817.8,621.3 L820.6,620.6 L823.3,619.9 L826.0,619.3 L828.6,618.6 L831.2,617.9 L833.8,617.3 L836.3,616.6 L838.8,616.0 L841.3,615.3 L843.8,614.7 L846.3,614.1 L848.7,613.5 L851.1,612.9 L853.5,612.3 L856.0,611.7 L858.3,611.2 L860.7,610.6 L863.1,610.1 L865.5,609.6 L867.9,609.1 L870.3,608.6 L872.7,608.1 L875.1,607.6 L877.6,607.2 L880.0,606.8 L882.6,606.4 L885.2,606.0 L887.8,605.6 L890.4,605.2 L892.9,604.8 L895.5,604.5 L898.1,604.1 L900.6,603.8 L903.2,603.5 L905.7,603.2 L908.3,602.9 L910.8,602.7 L913.4,602.4 L915.9,602.2 L918.4,602.0 L921.0,601.8 L923.5,601.6 L926.1,601.5 L928.6,601.3 L931.1,601.2 L933.7,601.1 L936.2,601.1 L938.8,601.0 L941.4,601.0 L944.0,601.0 L946.7,601.0 L949.4,601.1 L952.2,601.1 L954.9,601.2 L957.7,601.4 L960.5,601.5 L963.3,601.7 L966.1,601.8 L968.8,602.0 L971.5,602.2 L974.2,602.4 L976.9,602.7 L979.5,602.9 L982.0,603.1 L984.5,603.4 L986.9,603.6 L989.3,603.9 L991.5,604.1 L993.6,604.4 L995.7,604.7 L997.6,604.9 L1001.0,605.4 L1004.0,605.9 L1006.8,606.5 L1009.4,607.1 L1011.9,607.7 L1014.5,608.2 L1017.2,608.8 L1076.0,628.1 L1078.4,629.0 L1080.7,629.8 L1083.1,630.7 L1085.4,631.5 L1087.8,632.4 L1090.1,633.2 L1092.5,634.1 L1094.8,634.9 L1097.2,635.8 L1099.6,636.7 L1101.9,637.5 L1104.3,638.4 L1106.7,639.3 L1109.1,640.1 L1111.5,641.0 L1113.9,641.9 L1116.3,642.8 L1118.8,643.7 L1121.3,644.6 L1123.8,645.5 L1126.4,646.4 L1128.9,647.3 L1131.4,648.3 L1133.9,649.2 L1136.4,650.1 L1138.8,650.9 L1141.2,651.8 L1143.5,652.7 L1145.8,653.5 L1147.9,654.3 L1150.0,655.0 L1152.8,656.0 L1155.4,657.0 L1157.9,657.9 L1160.3,658.7 L1162.7,659.6 L1165.0,660.4 L1167.5,661.3 L1170.0,662.2 L1172.5,663.1 L1175.1,664.0 L1177.6,664.9 L1180.2,665.9 L1182.8,666.8 L1185.5,667.7 L1188.1,668.7 L1190.8,669.6 L1193.5,670.6 L1195.9,671.5 L1198.4,672.4 L1201.0,673.3 L1203.5,674.2 L1206.1,675.2 L1208.7,676.1 L1211.2,677.0 L1213.7,677.9 L1216.1,678.8 L1218.4,679.6 L1220.5,680.4 L1223.5,681.5 L1226.1,682.4 L1228.7,683.3 L1231.4,684.3 L1234.6,685.5 L1236.5,686.2 L1238.6,686.9 L1240.8,687.7 L1243.1,688.5 L1245.5,689.4 L1248.0,690.3 L1250.6,691.2 L1253.2,692.2 L1255.8,693.1 L1258.4,694.1 L1261.1,695.0 L1263.7,696.0 L1266.2,697.0 L1268.7,697.9 L1271.1,698.9 L1273.4,699.8 L1276.1,700.9 L1278.8,702.0 L1281.5,703.1 L1284.2,704.3 L1286.8,705.4 L1289.4,706.6 L1292.0,707.7 L1294.4,708.8 L1296.7,709.9 L1298.9,710.9 L1301.0,711.9 L1302.8,712.9 L1305.7,714.4 L1308.2,715.8 L1310.4,717.2 L1312.2,718.8 L1313.8,720.9 L1315.0,723.3 L1315.8,725.8 L1316.4,728.8 L1316.6,732.0 L1316.4,735.2 L1315.8,738.4 L1314.9,741.6 L1313.4,744.6 L1311.7,746.8 L1309.6,748.9 L1307.4,750.9 L1305.2,752.9 L1305.2,752.9 L1307.6,753.7 L1310.0,754.5 L1312.4,755.2 L1314.8,756.0 L1317.2,756.8 L1319.6,757.6 L1322.0,758.4 L1324.6,759.2 L1327.2,760.1 L1330.0,761.1 L1332.1,761.8 L1334.2,762.6 L1336.4,763.4 L1338.6,764.3 L1340.9,765.1 L1343.2,766.0 L1345.6,766.9 L1348.0,767.8 L1350.4,768.8 L1352.9,769.7 L1355.3,770.7 L1357.8,771.6 L1360.3,772.6 L1362.8,773.5 L1365.2,774.5 L1367.7,775.4 L1370.2,776.3 L1372.6,777.1 L1375.0,778.0 L1377.4,778.8 L1379.8,779.7 L1382.2,780.5 L1384.6,781.3 L1387.0,782.1 L1389.5,782.9 L1391.9,783.7 L1394.3,784.5 L1396.7,785.2 L1399.2,786.0 L1401.6,786.8 L1404.0,787.6 L1406.4,788.3 L1408.9,789.1 L1411.3,789.9 L1413.7,790.7 L1416.2,791.4 L1418.6,792.2 L1421.0,793.0 L1421.0,794.0 L1285.0,835.0 L1200.0,860.0 L1100.0,885.0 L1015.0,909.0 L1015.0,909.0 L1012.5,908.1 L1010.1,907.2 L1007.6,906.3 L1005.2,905.4 L1002.7,904.5 L1000.2,903.5 L997.8,902.6 L995.3,901.7 L992.9,900.8 L990.4,899.9 L987.9,899.0 L985.5,898.1 L983.0,897.3 L980.5,896.4 L978.1,895.6 L975.6,894.8 L973.2,894.0 L970.8,893.3 L968.4,892.6 L966.0,891.9 L963.6,891.2 L961.3,890.6 L958.9,889.9 L956.5,889.3 L954.1,888.6 L951.7,888.0 L949.3,887.4 L946.8,886.7 L944.3,886.0 L941.7,885.4 L939.1,884.7 L936.4,884.0 L934.2,883.4 L931.9,882.8 L929.6,882.3 L927.3,881.7 L924.9,881.1 L922.5,880.5 L920.1,879.9 L917.7,879.3 L915.2,878.7 L912.7,878.1 L910.2,877.5 L907.7,876.9 L905.2,876.3 L902.7,875.7 L900.2,875.1 L897.6,874.5 L895.1,873.8 L892.6,873.2 L890.0,872.6 L887.5,871.9 L885.0,871.3 L882.5,870.6 L880.1,870.0 L877.6,869.3 L875.1,868.6 L872.7,867.9 L870.2,867.2 L867.8,866.5 L865.3,865.8 L862.9,865.1 L860.4,864.4 L858.0,863.6 L855.5,862.9 L853.1,862.2 L850.6,861.4 L848.2,860.7 L845.7,859.9 L843.3,859.2 L840.8,858.4 L838.4,857.7 L835.9,856.9 L833.5,856.2 L831.0,855.4 L828.6,854.7 L826.1,853.9 L823.7,853.2 L821.2,852.4 L818.8,851.7 L816.4,851.0 L813.9,850.2 L811.5,849.5 L809.0,848.8 L806.6,848.0 L804.1,847.3 L801.7,846.6 L799.2,845.8 L796.8,845.1 L794.3,844.4 L791.9,843.7 L789.4,842.9 L787.0,842.2 L784.5,841.5 L782.1,840.7 L779.6,840.0 L777.2,839.2 L774.7,838.5 L772.3,837.8 L769.8,837.0 L767.4,836.3 L764.9,835.5 L762.5,834.8 L760.0,834.0 L757.6,833.3 L755.2,832.5 L752.8,831.8 L750.3,831.0 L747.9,830.3 L745.5,829.5 L743.0,828.8 L740.6,828.0 L738.1,827.2 L735.7,826.5 L733.2,825.7 L730.8,824.9 L728.4,824.2 L725.9,823.4 L723.5,822.6 L721.1,821.9 L718.7,821.1 L716.3,820.3 L713.9,819.6 L711.5,818.8 L709.2,818.0 L706.9,817.3 L704.6,816.5 L702.3,815.8 L700.0,815.0 L697.5,814.1 L695.0,813.3 L692.5,812.4 L690.1,811.6 L687.6,810.7 L685.2,809.9 L682.8,809.0 L680.4,808.2 L678.0,807.3 L675.7,806.5 L673.3,805.6 L671.0,804.8 L668.6,803.9 L666.3,803.1 L664.0,802.2 L661.7,801.4 L659.4,800.5 L657.0,799.7 L654.7,798.8 L652.4,798.0 L649.9,797.1 L647.5,796.2 L645.0,795.3 L642.6,794.4 L640.2,793.5 L637.7,792.6 L635.3,791.7 L632.9,790.8 L630.5,789.9 L628.1,789.0 L625.7,788.1 L623.3,787.2 L620.9,786.3 L618.6,785.4 L616.2,784.5 L613.9,783.7 L611.6,782.8 L609.3,782.0 L606.8,781.1 L604.3,780.2 L601.9,779.4 L599.5,778.5 L597.0,777.7 L594.6,776.8 L592.2,776.0 L589.9,775.2 L587.5,774.4 L585.1,773.5 L582.8,772.7 L580.4,771.8 L578.1,771.0 L575.7,770.1 L573.4,769.2 L570.9,768.2 L568.3,767.1 L565.6,766.0 L562.9,764.8 L560.2,763.6 L557.5,762.4 L554.8,761.2 L552.3,760.0 L549.8,758.9 L547.4,757.9 L545.3,757.0 L543.3,756.2 L541.5,755.5 L540.0,755.0 L537.0,754.3 L534.6,754.0 Z"/></clipPath><clipPath id="c4"><path d="M573.4,769.2 L573.4,766.4 L573.3,763.6 L573.3,760.8 L573.2,758.0 L573.2,755.3 L573.3,752.6 L573.5,750.0 L573.8,747.4 L574.2,744.9 L574.6,742.4 L575.1,740.0 L575.8,737.6 L576.6,735.3 L577.7,732.6 L578.9,730.1 L580.3,727.6 L582.0,725.1 L584.0,722.7 L585.6,721.1 L587.3,719.4 L589.2,717.8 L591.2,716.2 L593.4,714.5 L595.6,713.0 L597.9,711.4 L600.2,709.9 L602.5,708.5 L604.8,707.1 L606.9,705.9 L609.0,704.7 L611.0,703.7 L613.1,702.6 L615.2,701.7 L617.4,700.7 L619.7,699.7 L622.1,698.7 L624.5,697.7 L627.2,696.7 L630.0,695.6 L631.8,694.9 L633.8,694.2 L635.8,693.4 L637.9,692.7 L640.1,691.9 L642.3,691.1 L644.6,690.4 L646.9,689.6 L649.3,688.8 L651.8,688.0 L654.3,687.1 L656.8,686.3 L659.4,685.5 L662.0,684.7 L664.6,683.9 L667.2,683.0 L669.8,682.2 L672.4,681.4 L675.1,680.6 L677.7,679.8 L680.3,679.0 L682.9,678.2 L685.4,677.4 L688.0,676.6 L690.5,675.9 L692.9,675.1 L695.3,674.4 L697.7,673.7 L700.0,673.0 L702.6,672.2 L705.2,671.4 L707.8,670.7 L710.4,669.9 L712.9,669.2 L715.4,668.5 L717.9,667.8 L720.4,667.1 L722.8,666.4 L725.3,665.7 L727.7,665.1 L730.2,664.4 L732.6,663.7 L735.1,663.1 L737.5,662.4 L740.0,661.7 L742.5,661.0 L744.9,660.3 L747.4,659.6 L749.9,658.9 L752.5,658.2 L755.0,657.5 L757.4,656.8 L759.7,656.1 L762.1,655.5 L764.4,654.8 L766.8,654.1 L769.2,653.4 L771.5,652.7 L773.9,652.0 L776.3,651.3 L778.7,650.6 L781.1,649.9 L783.5,649.1 L785.9,648.4 L788.3,647.7 L790.7,647.0 L793.1,646.3 L795.5,645.6 L797.9,644.9 L800.4,644.2 L802.8,643.5 L805.2,642.8 L807.7,642.1 L810.1,641.4 L812.6,640.7 L815.0,640.0 L817.5,639.3 L819.9,638.6 L822.4,637.9 L824.9,637.2 L827.4,636.5 L829.9,635.7 L832.4,635.0 L834.9,634.3 L837.4,633.5 L839.9,632.8 L842.4,632.1 L845.0,631.3 L847.5,630.6 L850.0,629.9 L852.5,629.2 L855.1,628.5 L857.6,627.8 L860.1,627.2 L862.6,626.5 L865.1,625.9 L867.6,625.3 L870.1,624.7 L872.6,624.1 L875.1,623.5 L877.5,623.0 L880.0,622.5 L882.6,622.0 L885.2,621.5 L887.8,621.1 L890.4,620.6 L892.9,620.2 L895.5,619.8 L898.1,619.4 L900.6,619.1 L903.2,618.8 L905.7,618.4 L908.3,618.1 L910.8,617.8 L913.3,617.5 L915.9,617.2 L918.4,616.9 L921.0,616.7 L923.5,616.4 L926.0,616.1 L928.6,615.8 L931.1,615.6 L933.7,615.3 L936.2,615.0 L938.8,614.7 L941.4,614.4 L944.0,614.1 L946.6,613.7 L949.2,613.4 L951.8,613.0 L954.4,612.7 L957.1,612.3 L959.7,611.9 L962.4,611.6 L965.0,611.2 L967.6,610.9 L970.3,610.6 L972.9,610.3 L975.5,610.0 L978.0,609.7 L980.6,609.5 L983.1,609.3 L985.6,609.1 L988.1,608.9 L990.5,608.8 L992.9,608.8 L995.3,608.8 L997.6,608.8 L1000.4,608.9 L1003.2,609.1 L1006.0,609.4 L1008.6,609.7 L1011.3,610.1 L1013.9,610.5 L1016.4,610.9 L1019.0,611.4 L1021.5,611.9 L1024.0,612.4 L1026.6,612.9 L1029.1,613.4 L1031.6,613.8 L1034.2,614.3 L1036.8,614.7 L1076.0,628.1 L1078.4,629.0 L1080.7,629.8 L1083.1,630.7 L1085.4,631.5 L1087.8,632.4 L1090.1,633.2 L1092.5,634.1 L1094.8,634.9 L1097.2,635.8 L1099.6,636.7 L1101.9,637.5 L1104.3,638.4 L1106.7,639.3 L1109.1,640.1 L1111.5,641.0 L1113.9,641.9 L1116.3,642.8 L1118.8,643.7 L1121.3,644.6 L1123.8,645.5 L1126.4,646.4 L1128.9,647.3 L1131.4,648.3 L1133.9,649.2 L1136.4,650.1 L1138.8,650.9 L1141.2,651.8 L1143.5,652.7 L1145.8,653.5 L1147.9,654.3 L1150.0,655.0 L1152.8,656.0 L1155.4,657.0 L1157.9,657.9 L1160.3,658.7 L1162.7,659.6 L1165.0,660.4 L1167.5,661.3 L1170.0,662.2 L1172.5,663.1 L1175.1,664.0 L1177.6,664.9 L1180.2,665.9 L1182.8,666.8 L1185.5,667.7 L1188.1,668.7 L1190.8,669.6 L1193.5,670.6 L1195.9,671.5 L1198.4,672.4 L1201.0,673.3 L1203.5,674.2 L1206.1,675.2 L1208.7,676.1 L1211.2,677.0 L1213.7,677.9 L1216.1,678.8 L1218.4,679.6 L1220.5,680.4 L1223.5,681.5 L1226.1,682.4 L1228.7,683.3 L1231.4,684.3 L1234.6,685.5 L1236.5,686.2 L1238.6,686.9 L1240.8,687.7 L1243.1,688.5 L1245.5,689.4 L1248.0,690.3 L1250.6,691.2 L1253.2,692.2 L1255.8,693.1 L1258.4,694.1 L1261.1,695.0 L1263.7,696.0 L1266.2,697.0 L1268.7,697.9 L1271.1,698.9 L1273.4,699.8 L1276.1,700.9 L1278.8,702.0 L1281.5,703.1 L1284.2,704.3 L1286.8,705.4 L1289.4,706.6 L1292.0,707.7 L1294.4,708.8 L1296.7,709.9 L1298.9,710.9 L1301.0,711.9 L1302.8,712.9 L1305.7,714.4 L1308.2,715.8 L1310.4,717.2 L1312.2,718.8 L1313.8,720.9 L1315.0,723.3 L1315.8,725.8 L1316.4,728.8 L1316.6,732.0 L1316.4,735.2 L1315.8,738.4 L1314.9,741.6 L1313.4,744.6 L1311.7,746.8 L1309.6,748.9 L1307.4,750.9 L1305.2,752.9 L1305.2,752.9 L1307.6,753.7 L1310.0,754.5 L1312.4,755.2 L1314.8,756.0 L1317.2,756.8 L1319.6,757.6 L1322.0,758.4 L1324.6,759.2 L1327.2,760.1 L1330.0,761.1 L1332.1,761.8 L1334.2,762.6 L1336.4,763.4 L1338.6,764.3 L1340.9,765.1 L1343.2,766.0 L1345.6,766.9 L1348.0,767.8 L1350.4,768.8 L1352.9,769.7 L1355.3,770.7 L1357.8,771.6 L1360.3,772.6 L1362.8,773.5 L1365.2,774.5 L1367.7,775.4 L1370.2,776.3 L1372.6,777.1 L1375.0,778.0 L1377.4,778.8 L1379.8,779.7 L1382.2,780.5 L1384.6,781.3 L1387.0,782.1 L1389.5,782.9 L1391.9,783.7 L1394.3,784.5 L1396.7,785.2 L1399.2,786.0 L1401.6,786.8 L1404.0,787.6 L1406.4,788.3 L1408.9,789.1 L1411.3,789.9 L1413.7,790.7 L1416.2,791.4 L1418.6,792.2 L1421.0,793.0 L1421.0,794.0 L1285.0,835.0 L1200.0,860.0 L1100.0,885.0 L1015.0,909.0 L1015.0,909.0 L1012.5,908.1 L1010.1,907.2 L1007.6,906.3 L1005.2,905.4 L1002.7,904.5 L1000.2,903.5 L997.8,902.6 L995.3,901.7 L992.9,900.8 L990.4,899.9 L987.9,899.0 L985.5,898.1 L983.0,897.3 L980.5,896.4 L978.1,895.6 L975.6,894.8 L973.2,894.0 L970.8,893.3 L968.4,892.6 L966.0,891.9 L963.6,891.2 L961.3,890.6 L958.9,889.9 L956.5,889.3 L954.1,888.6 L951.7,888.0 L949.3,887.4 L946.8,886.7 L944.3,886.0 L941.7,885.4 L939.1,884.7 L936.4,884.0 L934.2,883.4 L931.9,882.8 L929.6,882.3 L927.3,881.7 L924.9,881.1 L922.5,880.5 L920.1,879.9 L917.7,879.3 L915.2,878.7 L912.7,878.1 L910.2,877.5 L907.7,876.9 L905.2,876.3 L902.7,875.7 L900.2,875.1 L897.6,874.5 L895.1,873.8 L892.6,873.2 L890.0,872.6 L887.5,871.9 L885.0,871.3 L882.5,870.6 L880.1,870.0 L877.6,869.3 L875.1,868.6 L872.7,867.9 L870.2,867.2 L867.8,866.5 L865.3,865.8 L862.9,865.1 L860.4,864.4 L858.0,863.6 L855.5,862.9 L853.1,862.2 L850.6,861.4 L848.2,860.7 L845.7,859.9 L843.3,859.2 L840.8,858.4 L838.4,857.7 L835.9,856.9 L833.5,856.2 L831.0,855.4 L828.6,854.7 L826.1,853.9 L823.7,853.2 L821.2,852.4 L818.8,851.7 L816.4,851.0 L813.9,850.2 L811.5,849.5 L809.0,848.8 L806.6,848.0 L804.1,847.3 L801.7,846.6 L799.2,845.8 L796.8,845.1 L794.3,844.4 L791.9,843.7 L789.4,842.9 L787.0,842.2 L784.5,841.5 L782.1,840.7 L779.6,840.0 L777.2,839.2 L774.7,838.5 L772.3,837.8 L769.8,837.0 L767.4,836.3 L764.9,835.5 L762.5,834.8 L760.0,834.0 L757.6,833.3 L755.2,832.5 L752.8,831.8 L750.3,831.0 L747.9,830.3 L745.5,829.5 L743.0,828.8 L740.6,828.0 L738.1,827.2 L735.7,826.5 L733.2,825.7 L730.8,824.9 L728.4,824.2 L725.9,823.4 L723.5,822.6 L721.1,821.9 L718.7,821.1 L716.3,820.3 L713.9,819.6 L711.5,818.8 L709.2,818.0 L706.9,817.3 L704.6,816.5 L702.3,815.8 L700.0,815.0 L697.5,814.1 L695.0,813.3 L692.5,812.4 L690.1,811.6 L687.6,810.7 L685.2,809.9 L682.8,809.0 L680.4,808.2 L678.0,807.3 L675.7,806.5 L673.3,805.6 L671.0,804.8 L668.6,803.9 L666.3,803.1 L664.0,802.2 L661.7,801.4 L659.4,800.5 L657.0,799.7 L654.7,798.8 L652.4,798.0 L649.9,797.1 L647.5,796.2 L645.0,795.3 L642.6,794.4 L640.2,793.5 L637.7,792.6 L635.3,791.7 L632.9,790.8 L630.5,789.9 L628.1,789.0 L625.7,788.1 L623.3,787.2 L620.9,786.3 L618.6,785.4 L616.2,784.5 L613.9,783.7 L611.6,782.8 L609.3,782.0 L606.8,781.1 L604.4,780.2 L601.9,779.3 L599.5,778.5 L597.1,777.6 L594.7,776.8 L592.3,775.9 L590.0,775.1 L587.6,774.2 L585.2,773.4 L582.9,772.6 L580.5,771.7 L578.2,770.9 L575.8,770.0 L573.4,769.2 Z"/></clipPath><clipPath id="c5"><path d="M609.3,782.0 L609.5,779.2 L609.7,776.4 L609.9,773.5 L610.2,770.7 L610.5,767.9 L611.0,765.0 L611.5,762.3 L612.0,759.6 L612.5,756.9 L613.2,754.2 L614.1,751.5 L615.1,748.8 L616.5,746.2 L617.7,744.3 L619.0,742.5 L620.4,740.6 L621.9,738.8 L623.5,736.9 L625.2,735.1 L627.1,733.3 L629.0,731.5 L631.1,729.8 L633.3,728.1 L635.6,726.4 L638.0,724.7 L639.8,723.6 L641.6,722.4 L643.6,721.3 L645.7,720.2 L647.9,719.1 L650.2,718.1 L652.6,717.0 L655.0,715.9 L657.5,714.9 L660.0,713.8 L662.6,712.8 L665.2,711.8 L667.8,710.8 L670.4,709.8 L673.1,708.8 L675.7,707.8 L678.4,706.8 L681.0,705.9 L683.6,705.0 L686.1,704.0 L688.6,703.1 L691.0,702.2 L693.4,701.4 L695.7,700.5 L697.9,699.6 L700.0,698.8 L702.6,697.7 L705.2,696.7 L707.6,695.7 L709.9,694.8 L712.2,693.8 L714.4,692.9 L716.6,692.1 L718.8,691.2 L721.0,690.3 L723.3,689.4 L725.6,688.6 L728.0,687.7 L730.5,686.8 L733.1,685.9 L735.8,685.0 L737.8,684.3 L739.9,683.7 L742.1,683.0 L744.3,682.3 L746.5,681.6 L748.8,680.9 L751.1,680.2 L753.5,679.5 L755.8,678.9 L758.3,678.2 L760.7,677.5 L763.2,676.8 L765.7,676.1 L768.2,675.4 L770.7,674.7 L773.3,674.0 L775.8,673.3 L778.4,672.6 L781.0,671.9 L783.5,671.2 L786.1,670.6 L788.7,669.9 L791.3,669.2 L793.8,668.5 L796.4,667.9 L798.9,667.2 L801.4,666.6 L803.9,665.9 L806.4,665.3 L808.8,664.7 L811.3,664.1 L813.7,663.5 L816.2,662.8 L818.7,662.2 L821.1,661.6 L823.6,661.0 L826.1,660.4 L828.6,659.8 L831.1,659.3 L833.6,658.7 L836.1,658.1 L838.6,657.5 L841.1,656.9 L843.6,656.3 L846.1,655.8 L848.6,655.2 L851.1,654.6 L853.5,654.1 L856.0,653.5 L858.5,653.0 L860.9,652.4 L863.4,651.8 L865.8,651.3 L868.2,650.7 L870.6,650.2 L873.0,649.6 L875.3,649.1 L877.7,648.5 L880.0,648.0 L882.6,647.4 L885.1,646.8 L887.7,646.2 L890.2,645.6 L892.7,645.0 L895.2,644.4 L897.6,643.8 L900.1,643.2 L902.5,642.6 L904.9,642.0 L907.4,641.4 L909.8,640.8 L912.2,640.2 L914.6,639.7 L917.0,639.1 L919.4,638.5 L921.8,638.0 L924.2,637.4 L926.6,636.9 L929.1,636.3 L931.5,635.8 L933.9,635.3 L936.3,634.8 L938.8,634.3 L941.3,633.8 L943.9,633.3 L946.4,632.8 L949.0,632.3 L951.6,631.8 L954.1,631.3 L956.7,630.8 L959.2,630.3 L961.8,629.9 L964.3,629.4 L966.9,629.0 L969.4,628.5 L972.0,628.1 L974.5,627.7 L977.1,627.3 L979.7,626.9 L982.2,626.5 L984.8,626.1 L987.3,625.8 L989.9,625.4 L992.5,625.1 L995.0,624.8 L997.6,624.5 L1000.2,624.2 L1002.9,623.9 L1005.6,623.7 L1008.4,623.4 L1011.3,623.1 L1014.2,622.9 L1017.1,622.6 L1020.0,622.4 L1022.9,622.2 L1025.8,622.0 L1028.7,621.8 L1031.5,621.6 L1034.3,621.4 L1037.0,621.3 L1039.7,621.2 L1042.2,621.1 L1044.6,621.1 L1047.0,621.1 L1049.2,621.1 L1051.2,621.1 L1053.1,621.2 L1054.8,621.3 L1056.4,621.5 L1059.4,622.1 L1061.7,622.8 L1063.8,623.7 L1066.0,624.5 L1076.0,628.1 L1078.4,629.0 L1080.7,629.8 L1083.1,630.7 L1085.4,631.5 L1087.8,632.4 L1090.1,633.2 L1092.5,634.1 L1094.8,634.9 L1097.2,635.8 L1099.6,636.7 L1101.9,637.5 L1104.3,638.4 L1106.7,639.3 L1109.1,640.1 L1111.5,641.0 L1113.9,641.9 L1116.3,642.8 L1118.8,643.7 L1121.3,644.6 L1123.8,645.5 L1126.4,646.4 L1128.9,647.3 L1131.4,648.3 L1133.9,649.2 L1136.4,650.1 L1138.8,650.9 L1141.2,651.8 L1143.5,652.7 L1145.8,653.5 L1147.9,654.3 L1150.0,655.0 L1152.8,656.0 L1155.4,657.0 L1157.9,657.9 L1160.3,658.7 L1162.7,659.6 L1165.0,660.4 L1167.5,661.3 L1170.0,662.2 L1172.5,663.1 L1175.1,664.0 L1177.6,664.9 L1180.2,665.9 L1182.8,666.8 L1185.5,667.7 L1188.1,668.7 L1190.8,669.6 L1193.5,670.6 L1195.9,671.5 L1198.4,672.4 L1201.0,673.3 L1203.5,674.2 L1206.1,675.2 L1208.7,676.1 L1211.2,677.0 L1213.7,677.9 L1216.1,678.8 L1218.4,679.6 L1220.5,680.4 L1223.5,681.5 L1226.1,682.4 L1228.7,683.3 L1231.4,684.3 L1234.6,685.5 L1236.5,686.2 L1238.6,686.9 L1240.8,687.7 L1243.1,688.5 L1245.5,689.4 L1248.0,690.3 L1250.6,691.2 L1253.2,692.2 L1255.8,693.1 L1258.4,694.1 L1261.1,695.0 L1263.7,696.0 L1266.2,697.0 L1268.7,697.9 L1271.1,698.9 L1273.4,699.8 L1276.1,700.9 L1278.8,702.0 L1281.5,703.1 L1284.2,704.3 L1286.8,705.4 L1289.4,706.6 L1292.0,707.7 L1294.4,708.8 L1296.7,709.9 L1298.9,710.9 L1301.0,711.9 L1302.8,712.9 L1305.7,714.4 L1308.2,715.8 L1310.4,717.2 L1312.2,718.8 L1313.8,720.9 L1315.0,723.3 L1315.8,725.8 L1316.4,728.8 L1316.6,732.0 L1316.4,735.2 L1315.8,738.4 L1314.9,741.6 L1313.4,744.6 L1311.7,746.8 L1309.6,748.9 L1307.4,750.9 L1305.2,752.9 L1305.2,752.9 L1307.6,753.7 L1310.0,754.5 L1312.4,755.2 L1314.8,756.0 L1317.2,756.8 L1319.6,757.6 L1322.0,758.4 L1324.6,759.2 L1327.2,760.1 L1330.0,761.1 L1332.1,761.8 L1334.2,762.6 L1336.4,763.4 L1338.6,764.3 L1340.9,765.1 L1343.2,766.0 L1345.6,766.9 L1348.0,767.8 L1350.4,768.8 L1352.9,769.7 L1355.3,770.7 L1357.8,771.6 L1360.3,772.6 L1362.8,773.5 L1365.2,774.5 L1367.7,775.4 L1370.2,776.3 L1372.6,777.1 L1375.0,778.0 L1377.4,778.8 L1379.8,779.7 L1382.2,780.5 L1384.6,781.3 L1387.0,782.1 L1389.5,782.9 L1391.9,783.7 L1394.3,784.5 L1396.7,785.2 L1399.2,786.0 L1401.6,786.8 L1404.0,787.6 L1406.4,788.3 L1408.9,789.1 L1411.3,789.9 L1413.7,790.7 L1416.2,791.4 L1418.6,792.2 L1421.0,793.0 L1421.0,794.0 L1285.0,835.0 L1200.0,860.0 L1100.0,885.0 L1015.0,909.0 L1015.0,909.0 L1012.5,908.1 L1010.1,907.2 L1007.6,906.3 L1005.2,905.4 L1002.7,904.5 L1000.2,903.5 L997.8,902.6 L995.3,901.7 L992.9,900.8 L990.4,899.9 L987.9,899.0 L985.5,898.1 L983.0,897.3 L980.5,896.4 L978.1,895.6 L975.6,894.8 L973.2,894.0 L970.8,893.3 L968.4,892.6 L966.0,891.9 L963.6,891.2 L961.3,890.6 L958.9,889.9 L956.5,889.3 L954.1,888.6 L951.7,888.0 L949.3,887.4 L946.8,886.7 L944.3,886.0 L941.7,885.4 L939.1,884.7 L936.4,884.0 L934.2,883.4 L931.9,882.8 L929.6,882.3 L927.3,881.7 L924.9,881.1 L922.5,880.5 L920.1,879.9 L917.7,879.3 L915.2,878.7 L912.7,878.1 L910.2,877.5 L907.7,876.9 L905.2,876.3 L902.7,875.7 L900.2,875.1 L897.6,874.5 L895.1,873.8 L892.6,873.2 L890.0,872.6 L887.5,871.9 L885.0,871.3 L882.5,870.6 L880.1,870.0 L877.6,869.3 L875.1,868.6 L872.7,867.9 L870.2,867.2 L867.8,866.5 L865.3,865.8 L862.9,865.1 L860.4,864.4 L858.0,863.6 L855.5,862.9 L853.1,862.2 L850.6,861.4 L848.2,860.7 L845.7,859.9 L843.3,859.2 L840.8,858.4 L838.4,857.7 L835.9,856.9 L833.5,856.2 L831.0,855.4 L828.6,854.7 L826.1,853.9 L823.7,853.2 L821.2,852.4 L818.8,851.7 L816.4,851.0 L813.9,850.2 L811.5,849.5 L809.0,848.8 L806.6,848.0 L804.1,847.3 L801.7,846.6 L799.2,845.8 L796.8,845.1 L794.3,844.4 L791.9,843.7 L789.4,842.9 L787.0,842.2 L784.5,841.5 L782.1,840.7 L779.6,840.0 L777.2,839.2 L774.7,838.5 L772.3,837.8 L769.8,837.0 L767.4,836.3 L764.9,835.5 L762.5,834.8 L760.0,834.0 L757.6,833.3 L755.2,832.5 L752.8,831.8 L750.3,831.0 L747.9,830.3 L745.5,829.5 L743.0,828.8 L740.6,828.0 L738.1,827.2 L735.7,826.5 L733.2,825.7 L730.8,824.9 L728.4,824.2 L725.9,823.4 L723.5,822.6 L721.1,821.9 L718.7,821.1 L716.3,820.3 L713.9,819.6 L711.5,818.8 L709.2,818.0 L706.9,817.3 L704.6,816.5 L702.3,815.8 L700.0,815.0 L697.5,814.1 L695.0,813.3 L692.5,812.4 L690.1,811.6 L687.6,810.7 L685.2,809.9 L682.8,809.0 L680.4,808.2 L678.0,807.3 L675.7,806.5 L673.3,805.6 L671.0,804.8 L668.6,803.9 L666.3,803.1 L664.0,802.2 L661.7,801.4 L659.4,800.5 L657.0,799.7 L654.7,798.8 L652.4,798.0 L649.9,797.1 L647.5,796.2 L645.1,795.3 L642.7,794.4 L640.3,793.5 L637.9,792.7 L635.5,791.8 L633.1,790.9 L630.7,790.0 L628.3,789.1 L626.0,788.2 L623.6,787.3 L621.2,786.4 L618.8,785.6 L616.5,784.7 L614.1,783.8 L611.7,782.9 L609.3,782.0 Z"/></clipPath><clipPath id="c6"><path d="M649.6,798.0 L649.6,795.4 L649.7,792.9 L649.7,790.3 L649.7,787.8 L649.7,785.2 L649.8,782.6 L650.0,780.0 L650.2,777.3 L650.3,774.5 L650.4,771.7 L650.6,768.8 L650.9,766.1 L651.5,763.3 L652.4,760.6 L653.4,758.2 L654.5,755.8 L655.8,753.5 L657.3,751.1 L658.9,748.8 L660.6,746.5 L662.6,744.4 L664.6,742.4 L666.8,740.5 L668.6,739.2 L670.6,738.0 L672.7,736.9 L674.9,735.9 L677.2,735.0 L679.6,734.1 L682.1,733.3 L684.6,732.5 L687.2,731.7 L689.8,730.9 L692.4,730.1 L694.9,729.3 L697.5,728.4 L700.0,727.5 L702.3,726.6 L704.6,725.7 L706.9,724.9 L709.2,723.9 L711.6,723.0 L714.0,722.1 L716.4,721.2 L718.9,720.3 L721.3,719.3 L723.7,718.4 L726.1,717.5 L728.5,716.7 L730.8,715.8 L733.2,714.9 L735.5,714.1 L737.8,713.3 L740.0,712.5 L742.5,711.6 L745.0,710.8 L747.4,710.0 L749.8,709.3 L752.2,708.5 L754.6,707.8 L757.0,707.1 L759.3,706.3 L761.7,705.6 L764.0,704.9 L766.3,704.1 L768.7,703.4 L771.0,702.6 L773.5,701.7 L776.0,700.9 L778.4,699.9 L780.9,699.0 L783.4,698.1 L785.9,697.1 L788.3,696.2 L790.7,695.3 L793.1,694.5 L795.5,693.7 L797.8,692.9 L800.0,692.2 L802.6,691.5 L804.9,690.9 L807.2,690.3 L809.4,689.8 L811.7,689.3 L814.2,688.8 L816.9,688.2 L820.0,687.4 L821.7,687.0 L823.5,686.5 L825.4,686.0 L827.4,685.4 L829.4,684.9 L831.5,684.3 L833.7,683.7 L835.9,683.0 L838.2,682.4 L840.6,681.7 L843.0,681.0 L845.4,680.3 L847.9,679.6 L850.5,678.8 L853.1,678.1 L855.7,677.3 L858.3,676.6 L861.0,675.8 L863.7,675.1 L866.4,674.3 L869.1,673.5 L871.8,672.8 L874.6,672.0 L877.3,671.3 L880.1,670.6 L882.8,669.8 L885.6,669.1 L888.3,668.4 L891.0,667.7 L893.7,667.1 L896.4,666.4 L898.7,665.9 L901.0,665.3 L903.4,664.7 L905.8,664.2 L908.3,663.6 L910.8,663.1 L913.3,662.5 L915.8,661.9 L918.4,661.4 L921.0,660.8 L923.6,660.2 L926.2,659.7 L928.8,659.1 L931.5,658.5 L934.2,658.0 L936.8,657.4 L939.5,656.9 L942.2,656.3 L944.9,655.8 L947.5,655.2 L950.2,654.7 L952.8,654.1 L955.5,653.6 L958.1,653.1 L960.7,652.5 L963.3,652.0 L965.9,651.5 L968.4,651.0 L970.9,650.5 L973.4,650.0 L975.9,649.6 L978.3,649.1 L980.7,648.6 L983.0,648.2 L985.3,647.8 L987.6,647.3 L989.8,646.9 L991.9,646.5 L994.0,646.1 L996.1,645.7 L998.1,645.4 L1000.0,645.0 L1003.0,644.4 L1005.8,643.9 L1008.5,643.4 L1011.1,642.9 L1013.6,642.4 L1016.0,641.9 L1018.4,641.4 L1020.7,641.0 L1023.0,640.6 L1025.3,640.2 L1027.6,639.9 L1029.9,639.5 L1032.3,639.2 L1034.8,639.0 L1037.3,638.7 L1040.0,638.5 L1042.4,638.3 L1044.8,638.2 L1047.4,638.1 L1049.9,638.0 L1052.6,637.9 L1055.2,637.8 L1057.9,637.8 L1060.6,637.8 L1063.3,637.8 L1066.1,637.8 L1068.8,637.8 L1071.5,637.9 L1074.3,637.9 L1077.0,638.0 L1079.6,638.1 L1082.3,638.3 L1084.9,638.4 L1087.4,638.6 L1089.9,638.8 L1092.3,639.0 L1094.7,639.2 L1097.0,639.5 L1099.9,639.9 L1102.8,640.3 L1105.7,640.8 L1108.5,641.3 L1111.2,641.8 L1113.9,642.4 L1116.5,643.0 L1119.1,643.6 L1121.6,644.3 L1124.1,644.9 L1126.4,645.6 L1128.8,646.3 L1131.0,647.0 L1133.7,647.9 L1136.2,648.9 L1138.6,649.9 L1140.9,650.9 L1143.1,651.9 L1145.4,653.0 L1147.7,654.0 L1150.0,655.0 L1170.0,662.2 L1172.6,663.1 L1175.2,664.1 L1177.8,665.0 L1180.4,665.9 L1182.9,666.8 L1185.5,667.7 L1188.2,668.7 L1190.8,669.6 L1193.5,670.6 L1195.9,671.5 L1198.4,672.4 L1201.0,673.3 L1203.5,674.2 L1206.1,675.2 L1208.7,676.1 L1211.2,677.0 L1213.7,677.9 L1216.1,678.8 L1218.4,679.6 L1220.5,680.4 L1223.5,681.5 L1226.1,682.4 L1228.7,683.3 L1231.4,684.3 L1234.6,685.5 L1236.5,686.2 L1238.6,686.9 L1240.8,687.7 L1243.1,688.5 L1245.5,689.4 L1248.0,690.3 L1250.6,691.2 L1253.2,692.2 L1255.8,693.1 L1258.4,694.1 L1261.1,695.0 L1263.7,696.0 L1266.2,697.0 L1268.7,697.9 L1271.1,698.9 L1273.4,699.8 L1276.1,700.9 L1278.8,702.0 L1281.5,703.1 L1284.2,704.3 L1286.8,705.4 L1289.4,706.6 L1292.0,707.7 L1294.4,708.8 L1296.7,709.9 L1298.9,710.9 L1301.0,711.9 L1302.8,712.9 L1305.7,714.4 L1308.2,715.8 L1310.4,717.2 L1312.2,718.8 L1313.8,720.9 L1315.0,723.3 L1315.8,725.8 L1316.4,728.8 L1316.6,732.0 L1316.4,735.2 L1315.8,738.4 L1314.9,741.6 L1313.4,744.6 L1311.7,746.8 L1309.6,748.9 L1307.4,750.9 L1305.2,752.9 L1305.2,752.9 L1307.6,753.7 L1310.0,754.5 L1312.4,755.2 L1314.8,756.0 L1317.2,756.8 L1319.6,757.6 L1322.0,758.4 L1324.6,759.2 L1327.2,760.1 L1330.0,761.1 L1332.1,761.8 L1334.2,762.6 L1336.4,763.4 L1338.6,764.3 L1340.9,765.1 L1343.2,766.0 L1345.6,766.9 L1348.0,767.8 L1350.4,768.8 L1352.9,769.7 L1355.3,770.7 L1357.8,771.6 L1360.3,772.6 L1362.8,773.5 L1365.2,774.5 L1367.7,775.4 L1370.2,776.3 L1372.6,777.1 L1375.0,778.0 L1377.4,778.8 L1379.8,779.7 L1382.2,780.5 L1384.6,781.3 L1387.0,782.1 L1389.5,782.9 L1391.9,783.7 L1394.3,784.5 L1396.7,785.2 L1399.2,786.0 L1401.6,786.8 L1404.0,787.6 L1406.4,788.3 L1408.9,789.1 L1411.3,789.9 L1413.7,790.7 L1416.2,791.4 L1418.6,792.2 L1421.0,793.0 L1421.0,794.0 L1285.0,835.0 L1200.0,860.0 L1100.0,885.0 L1015.0,909.0 L1015.0,909.0 L1012.5,908.1 L1010.1,907.2 L1007.6,906.3 L1005.2,905.4 L1002.7,904.5 L1000.2,903.5 L997.8,902.6 L995.3,901.7 L992.9,900.8 L990.4,899.9 L987.9,899.0 L985.5,898.1 L983.0,897.3 L980.5,896.4 L978.1,895.6 L975.6,894.8 L973.2,894.0 L970.8,893.3 L968.4,892.6 L966.0,891.9 L963.6,891.2 L961.3,890.6 L958.9,889.9 L956.5,889.3 L954.1,888.6 L951.7,888.0 L949.3,887.4 L946.8,886.7 L944.3,886.0 L941.7,885.4 L939.1,884.7 L936.4,884.0 L934.2,883.4 L931.9,882.8 L929.6,882.3 L927.3,881.7 L924.9,881.1 L922.5,880.5 L920.1,879.9 L917.7,879.3 L915.2,878.7 L912.7,878.1 L910.2,877.5 L907.7,876.9 L905.2,876.3 L902.7,875.7 L900.2,875.1 L897.6,874.5 L895.1,873.8 L892.6,873.2 L890.0,872.6 L887.5,871.9 L885.0,871.3 L882.5,870.6 L880.1,870.0 L877.6,869.3 L875.1,868.6 L872.7,867.9 L870.2,867.2 L867.8,866.5 L865.3,865.8 L862.9,865.1 L860.4,864.4 L858.0,863.6 L855.5,862.9 L853.1,862.2 L850.6,861.4 L848.2,860.7 L845.7,859.9 L843.3,859.2 L840.8,858.4 L838.4,857.7 L835.9,856.9 L833.5,856.2 L831.0,855.4 L828.6,854.7 L826.1,853.9 L823.7,853.2 L821.2,852.4 L818.8,851.7 L816.4,851.0 L813.9,850.2 L811.5,849.5 L809.0,848.8 L806.6,848.0 L804.1,847.3 L801.7,846.6 L799.2,845.8 L796.8,845.1 L794.3,844.4 L791.9,843.7 L789.4,842.9 L787.0,842.2 L784.5,841.5 L782.1,840.7 L779.6,840.0 L777.2,839.2 L774.7,838.5 L772.3,837.8 L769.8,837.0 L767.4,836.3 L764.9,835.5 L762.5,834.8 L760.0,834.0 L757.6,833.3 L755.2,832.5 L752.8,831.8 L750.3,831.0 L747.9,830.3 L745.5,829.5 L743.0,828.8 L740.6,828.0 L738.1,827.2 L735.7,826.5 L733.2,825.7 L730.8,824.9 L728.4,824.2 L725.9,823.4 L723.5,822.6 L721.1,821.9 L718.7,821.1 L716.3,820.3 L713.9,819.6 L711.5,818.8 L709.2,818.0 L706.9,817.3 L704.6,816.5 L702.3,815.8 L700.0,815.0 L697.4,814.1 L694.7,813.2 L692.0,812.2 L689.2,811.2 L686.3,810.1 L683.5,809.0 L680.6,808.0 L677.8,806.9 L675.0,805.8 L672.2,804.8 L669.6,803.8 L667.0,802.8 L664.6,801.9 L662.2,801.1 L660.1,800.3 L658.1,799.6 L656.4,799.1 L654.8,798.6 L653.5,798.2 L652.4,798.0 L649.6,798.0 Z"/></clipPath><clipPath id="c7"><path d="M731.4,822.0 L734.0,822.4 L736.6,822.9 L739.2,823.4 L742.0,823.8 L745.0,824.0 L747.2,824.0 L749.6,824.0 L752.1,823.9 L754.7,823.8 L757.4,823.6 L760.1,823.4 L762.9,823.1 L765.7,822.9 L768.4,822.6 L771.1,822.3 L773.7,822.0 L776.4,821.7 L779.0,821.4 L781.5,821.1 L784.1,820.8 L786.6,820.5 L789.2,820.1 L791.8,819.7 L794.5,819.2 L797.2,818.7 L800.0,818.0 L802.3,817.4 L804.6,816.7 L806.9,816.0 L809.3,815.2 L811.7,814.4 L814.1,813.5 L816.5,812.6 L819.0,811.7 L821.5,810.8 L824.1,809.8 L826.6,808.9 L829.2,807.9 L831.9,807.0 L834.6,806.1 L837.3,805.2 L840.0,804.4 L842.2,803.8 L844.5,803.1 L846.9,802.5 L849.2,801.9 L851.7,801.2 L854.1,800.6 L856.6,800.0 L859.1,799.4 L861.6,798.8 L864.2,798.2 L866.8,797.6 L869.3,797.0 L871.9,796.4 L874.4,795.8 L877.0,795.2 L879.5,794.6 L882.1,794.0 L884.6,793.5 L887.0,792.9 L889.5,792.3 L891.9,791.7 L894.2,791.1 L896.5,790.6 L898.8,790.0 L901.4,789.3 L904.0,788.6 L906.6,787.9 L909.1,787.2 L911.6,786.5 L914.1,785.9 L916.6,785.2 L919.0,784.5 L921.4,783.8 L923.8,783.1 L926.1,782.5 L928.5,781.9 L930.8,781.2 L933.1,780.6 L935.4,780.1 L937.7,779.5 L940.0,779.0 L942.7,778.4 L945.4,778.0 L948.0,777.6 L950.6,777.2 L953.1,776.9 L955.7,776.6 L958.2,776.2 L960.8,775.8 L963.3,775.3 L966.0,774.8 L968.6,774.1 L971.4,773.3 L973.5,772.6 L975.7,771.7 L977.9,770.8 L980.2,769.8 L982.4,768.7 L984.7,767.6 L987.0,766.4 L989.3,765.2 L991.7,763.9 L994.0,762.6 L996.4,761.4 L998.7,760.1 L1001.1,758.9 L1003.4,757.7 L1005.8,756.6 L1008.1,755.5 L1010.4,754.4 L1012.7,753.5 L1015.0,752.6 L1017.2,751.9 L1019.8,751.2 L1022.3,750.5 L1024.9,750.0 L1027.4,749.5 L1029.9,749.1 L1032.4,748.7 L1034.9,748.4 L1037.4,748.1 L1039.9,747.8 L1042.4,747.5 L1044.8,747.2 L1047.3,746.9 L1049.8,746.5 L1052.2,746.1 L1054.7,745.6 L1057.3,745.0 L1059.9,744.5 L1062.4,743.8 L1065.0,743.2 L1067.5,742.6 L1070.0,741.9 L1072.6,741.2 L1075.1,740.5 L1077.6,739.9 L1080.2,739.2 L1082.7,738.5 L1085.3,737.9 L1087.9,737.2 L1090.5,736.6 L1092.9,736.0 L1095.3,735.5 L1097.8,734.9 L1100.2,734.3 L1102.7,733.7 L1105.2,733.1 L1107.7,732.6 L1110.2,732.0 L1112.7,731.4 L1115.1,730.9 L1117.6,730.4 L1120.1,729.8 L1122.6,729.4 L1125.1,728.9 L1127.5,728.4 L1130.0,728.0 L1132.6,727.6 L1135.2,727.2 L1137.8,726.9 L1140.4,726.6 L1143.1,726.3 L1145.8,726.1 L1148.4,725.8 L1151.0,725.6 L1153.6,725.3 L1156.2,725.1 L1158.6,724.8 L1161.0,724.5 L1163.3,724.2 L1165.5,723.9 L1167.6,723.5 L1170.5,723.0 L1173.3,722.5 L1176.0,722.0 L1178.5,721.4 L1180.8,720.8 L1183.1,719.9 L1185.3,718.8 L1187.6,717.3 L1189.9,715.6 L1192.0,713.7 L1193.9,711.6 L1195.6,709.3 L1197.0,707.0 L1198.1,704.8 L1199.0,702.4 L1199.7,699.8 L1200.2,697.2 L1200.6,694.6 L1200.7,691.9 L1200.6,689.4 L1200.2,686.9 L1199.4,684.3 L1198.3,681.8 L1197.1,679.3 L1195.8,676.8 L1194.6,674.3 L1193.5,671.8 L1220.5,680.4 L1223.2,681.4 L1225.8,682.3 L1228.5,683.3 L1231.3,684.3 L1234.6,685.5 L1236.5,686.2 L1238.6,686.9 L1240.8,687.7 L1243.1,688.5 L1245.5,689.4 L1248.0,690.3 L1250.6,691.2 L1253.2,692.2 L1255.8,693.1 L1258.4,694.1 L1261.1,695.0 L1263.7,696.0 L1266.2,697.0 L1268.7,697.9 L1271.1,698.9 L1273.4,699.8 L1276.1,700.9 L1278.8,702.0 L1281.5,703.1 L1284.2,704.3 L1286.8,705.4 L1289.4,706.6 L1292.0,707.7 L1294.4,708.8 L1296.7,709.9 L1298.9,710.9 L1301.0,711.9 L1302.8,712.9 L1305.7,714.4 L1308.2,715.8 L1310.4,717.2 L1312.2,718.8 L1313.8,720.9 L1315.0,723.3 L1315.8,725.8 L1316.4,728.8 L1316.6,732.0 L1316.4,735.2 L1315.8,738.4 L1314.9,741.6 L1313.4,744.6 L1311.7,746.8 L1309.6,748.9 L1307.4,750.9 L1305.2,752.9 L1305.2,752.9 L1307.6,753.7 L1310.0,754.5 L1312.4,755.2 L1314.8,756.0 L1317.2,756.8 L1319.6,757.6 L1322.0,758.4 L1324.6,759.2 L1327.2,760.1 L1330.0,761.1 L1332.1,761.8 L1334.2,762.6 L1336.4,763.4 L1338.6,764.3 L1340.9,765.1 L1343.2,766.0 L1345.6,766.9 L1348.0,767.8 L1350.4,768.8 L1352.9,769.7 L1355.3,770.7 L1357.8,771.6 L1360.3,772.6 L1362.8,773.5 L1365.2,774.5 L1367.7,775.4 L1370.2,776.3 L1372.6,777.1 L1375.0,778.0 L1377.4,778.8 L1379.8,779.7 L1382.2,780.5 L1384.6,781.3 L1387.0,782.1 L1389.5,782.9 L1391.9,783.7 L1394.3,784.5 L1396.7,785.2 L1399.2,786.0 L1401.6,786.8 L1404.0,787.6 L1406.4,788.3 L1408.9,789.1 L1411.3,789.9 L1413.7,790.7 L1416.2,791.4 L1418.6,792.2 L1421.0,793.0 L1421.0,794.0 L1285.0,835.0 L1200.0,860.0 L1100.0,885.0 L1015.0,909.0 L1015.0,909.0 L1012.5,908.1 L1010.1,907.2 L1007.6,906.3 L1005.2,905.4 L1002.7,904.5 L1000.2,903.5 L997.8,902.6 L995.3,901.7 L992.9,900.8 L990.4,899.9 L987.9,899.0 L985.5,898.1 L983.0,897.3 L980.5,896.4 L978.1,895.6 L975.6,894.8 L973.2,894.0 L970.8,893.3 L968.4,892.6 L966.0,891.9 L963.6,891.2 L961.3,890.6 L958.9,889.9 L956.5,889.3 L954.1,888.6 L951.7,888.0 L949.3,887.4 L946.8,886.7 L944.3,886.0 L941.7,885.4 L939.1,884.7 L936.4,884.0 L934.2,883.4 L931.9,882.8 L929.6,882.3 L927.3,881.7 L924.9,881.1 L922.5,880.5 L920.1,879.9 L917.7,879.3 L915.2,878.7 L912.7,878.1 L910.2,877.5 L907.7,876.9 L905.2,876.3 L902.7,875.7 L900.2,875.1 L897.6,874.5 L895.1,873.8 L892.6,873.2 L890.0,872.6 L887.5,871.9 L885.0,871.3 L882.5,870.6 L880.1,870.0 L877.6,869.3 L875.1,868.6 L872.7,867.9 L870.2,867.2 L867.8,866.5 L865.3,865.8 L862.9,865.1 L860.4,864.4 L858.0,863.6 L855.5,862.9 L853.1,862.2 L850.6,861.4 L848.2,860.7 L845.7,859.9 L843.3,859.2 L840.8,858.4 L838.4,857.7 L835.9,856.9 L833.5,856.2 L831.0,855.4 L828.6,854.7 L826.1,853.9 L823.7,853.2 L821.2,852.4 L818.8,851.7 L816.3,851.0 L813.8,850.2 L811.3,849.5 L808.7,848.7 L806.2,848.0 L803.6,847.3 L801.0,846.5 L798.4,845.8 L795.8,845.0 L793.2,844.3 L790.6,843.5 L788.0,842.8 L785.5,842.1 L783.0,841.3 L780.5,840.6 L778.0,839.8 L775.6,839.1 L773.2,838.4 L770.8,837.6 L768.5,836.9 L766.3,836.2 L764.1,835.4 L762.0,834.7 L760.0,834.0 L757.2,833.0 L754.6,832.0 L752.1,831.0 L749.7,830.0 L747.3,829.0 L745.0,828.0 L742.8,827.0 L740.5,826.0 L738.3,825.0 L736.0,824.0 L733.7,823.0 L731.4,822.0 Z"/></clipPath><clipPath id="c8"><path d="M731.4,822.0 L731.5,819.2 L731.5,816.3 L731.5,813.5 L731.5,810.6 L731.8,807.8 L732.3,805.0 L733.0,802.4 L733.8,799.8 L734.7,797.2 L735.8,794.6 L737.0,792.1 L738.4,789.7 L740.0,787.4 L741.5,785.5 L743.3,783.7 L745.2,781.9 L747.2,780.3 L749.3,778.6 L751.5,777.0 L753.7,775.5 L755.8,774.0 L757.9,772.5 L760.1,771.0 L762.3,769.5 L764.5,768.2 L766.8,766.8 L769.0,765.5 L771.3,764.2 L773.5,763.0 L775.8,761.8 L778.3,760.5 L780.9,759.2 L783.4,758.0 L786.0,756.8 L788.6,755.6 L791.1,754.5 L793.7,753.4 L796.2,752.4 L798.7,751.4 L801.2,750.4 L803.7,749.5 L806.2,748.5 L808.9,747.6 L811.6,746.5 L813.8,745.6 L816.1,744.7 L818.5,743.7 L821.0,742.7 L823.5,741.7 L826.0,740.6 L828.4,739.6 L830.8,738.7 L833.1,737.7 L835.3,736.9 L837.3,736.1 L840.0,735.1 L842.3,734.2 L844.5,733.4 L847.0,732.6 L850.0,731.6 L851.7,731.0 L853.6,730.4 L855.6,729.8 L857.7,729.1 L860.0,728.4 L862.3,727.7 L864.7,727.0 L867.2,726.2 L869.8,725.4 L872.4,724.7 L875.1,723.8 L877.8,723.0 L880.5,722.2 L883.3,721.4 L886.1,720.5 L888.9,719.7 L891.7,718.9 L894.5,718.0 L897.3,717.2 L900.0,716.4 L902.2,715.7 L904.5,715.1 L906.8,714.4 L909.1,713.7 L911.4,713.0 L913.8,712.3 L916.2,711.6 L918.5,710.9 L921.0,710.2 L923.4,709.5 L925.8,708.8 L928.3,708.1 L930.7,707.4 L933.2,706.6 L935.7,705.9 L938.2,705.2 L940.7,704.5 L943.2,703.7 L945.7,703.0 L948.1,702.3 L950.6,701.6 L953.1,700.8 L955.6,700.1 L958.1,699.4 L960.6,698.7 L963.1,697.9 L965.5,697.2 L968.0,696.5 L970.4,695.8 L971.4,773.3 L968.8,773.8 L966.2,774.2 L963.6,774.6 L961.1,775.1 L958.5,775.5 L955.9,775.9 L953.4,776.4 L950.8,776.8 L948.1,777.3 L945.5,777.8 L942.8,778.4 L940.0,779.0 L937.7,779.5 L935.4,780.1 L933.1,780.6 L930.8,781.2 L928.5,781.9 L926.1,782.5 L923.8,783.1 L921.4,783.8 L919.0,784.5 L916.6,785.2 L914.1,785.9 L911.6,786.5 L909.1,787.2 L906.6,787.9 L904.0,788.6 L901.4,789.3 L898.8,790.0 L896.5,790.6 L894.2,791.1 L891.9,791.7 L889.5,792.3 L887.0,792.9 L884.6,793.5 L882.1,794.0 L879.5,794.6 L877.0,795.2 L874.4,795.8 L871.9,796.4 L869.3,797.0 L866.8,797.6 L864.2,798.2 L861.6,798.8 L859.1,799.4 L856.6,800.0 L854.1,800.6 L851.7,801.2 L849.2,801.9 L846.9,802.5 L844.5,803.1 L842.2,803.8 L840.0,804.4 L837.3,805.2 L834.6,806.1 L831.9,807.0 L829.2,807.9 L826.6,808.9 L824.1,809.8 L821.5,810.8 L819.0,811.7 L816.5,812.6 L814.1,813.5 L811.7,814.4 L809.3,815.2 L806.9,816.0 L804.6,816.7 L802.3,817.4 L800.0,818.0 L797.2,818.7 L794.5,819.2 L791.8,819.7 L789.2,820.1 L786.6,820.5 L784.1,820.8 L781.5,821.1 L779.0,821.4 L776.4,821.7 L773.7,822.0 L771.1,822.3 L768.4,822.6 L765.7,822.9 L762.9,823.1 L760.1,823.4 L757.4,823.6 L754.7,823.8 L752.1,823.9 L749.6,824.0 L747.2,824.0 L745.0,824.0 L742.0,823.8 L739.2,823.4 L736.6,822.9 L734.0,822.4 L731.4,822.0 Z"/></clipPath><clipPath id="c9"><path d="M1010.0,690.1 L1012.5,688.9 L1015.0,687.8 L1017.5,686.6 L1019.9,685.5 L1022.5,684.3 L1025.1,683.2 L1027.9,682.1 L1030.1,681.3 L1032.4,680.5 L1034.8,679.7 L1037.2,678.9 L1039.7,678.2 L1042.2,677.4 L1044.7,676.7 L1047.2,676.0 L1049.7,675.3 L1052.2,674.6 L1054.7,674.0 L1057.4,673.3 L1060.1,672.7 L1062.7,672.1 L1065.4,671.5 L1068.1,671.0 L1070.8,670.4 L1073.5,669.9 L1076.2,669.5 L1078.9,669.0 L1081.6,668.6 L1084.3,668.2 L1087.0,667.9 L1089.7,667.6 L1092.4,667.3 L1095.2,667.1 L1097.9,666.9 L1100.6,666.6 L1103.2,666.4 L1105.8,666.2 L1108.4,666.0 L1111.2,665.7 L1113.9,665.5 L1116.5,665.2 L1119.1,665.0 L1121.7,664.7 L1124.4,664.5 L1127.1,664.3 L1130.0,664.2 L1132.3,664.1 L1134.7,664.0 L1137.1,663.8 L1139.6,663.7 L1142.1,663.6 L1144.6,663.5 L1147.2,663.5 L1149.7,663.5 L1152.3,663.5 L1154.9,663.6 L1157.4,663.8 L1160.0,664.0 L1162.6,664.3 L1165.4,664.6 L1168.2,664.9 L1171.1,665.2 L1174.0,665.6 L1176.9,666.0 L1179.8,666.5 L1182.6,667.1 L1185.2,667.8 L1187.6,668.6 L1189.8,669.5 L1191.8,670.6 L1193.5,671.8 L1195.4,673.8 L1197.0,676.1 L1198.2,678.6 L1199.1,681.3 L1199.8,684.0 L1200.3,686.8 L1200.6,689.4 L1200.7,691.9 L1200.6,694.6 L1200.2,697.2 L1199.7,699.8 L1199.0,702.4 L1198.1,704.8 L1197.0,707.0 L1195.6,709.3 L1193.9,711.6 L1192.0,713.7 L1189.9,715.6 L1187.6,717.3 L1185.3,718.8 L1183.1,719.9 L1180.8,720.8 L1178.5,721.4 L1176.0,722.0 L1173.3,722.5 L1170.5,723.0 L1167.6,723.5 L1165.5,723.9 L1163.3,724.2 L1161.0,724.5 L1158.6,724.8 L1156.2,725.1 L1153.6,725.3 L1151.0,725.6 L1148.4,725.8 L1145.8,726.1 L1143.1,726.3 L1140.4,726.6 L1137.8,726.9 L1135.2,727.2 L1132.6,727.6 L1130.0,728.0 L1127.5,728.4 L1125.1,728.9 L1122.6,729.4 L1120.1,729.8 L1117.6,730.4 L1115.1,730.9 L1112.7,731.4 L1110.2,732.0 L1107.7,732.6 L1105.2,733.1 L1102.7,733.7 L1100.2,734.3 L1097.8,734.9 L1095.3,735.5 L1092.9,736.0 L1090.5,736.6 L1087.9,737.2 L1085.3,737.9 L1082.7,738.5 L1080.2,739.2 L1077.6,739.9 L1075.1,740.5 L1072.6,741.2 L1070.0,741.9 L1067.5,742.6 L1065.0,743.2 L1062.4,743.8 L1059.9,744.5 L1057.3,745.0 L1054.7,745.6 L1052.2,746.1 L1049.5,746.6 L1046.8,747.1 L1044.0,747.6 L1041.2,748.1 L1038.4,748.6 L1035.6,749.0 L1032.8,749.5 L1030.1,749.9 L1027.6,750.3 L1025.1,750.7 L1022.8,751.0 L1020.7,751.3 L1018.9,751.6 L1017.2,751.9 L1013.2,752.5 L1010.0,753.0 Z"/></clipPath><clipPath id="c10"><path d="M972.1,694.7 L1016.9,707.3 L1016.9,784.3 L972.1,772.5 Z"/></clipPath><clipPath id="c11"><path d="M783.0,843.0 L785.5,842.4 L788.0,841.8 L790.6,841.2 L793.1,840.6 L795.7,839.9 L798.3,839.3 L800.9,838.7 L803.4,838.0 L806.0,837.4 L808.6,836.8 L811.2,836.2 L813.8,835.5 L816.3,834.9 L818.8,834.3 L821.3,833.7 L823.8,833.1 L826.3,832.5 L828.7,831.9 L831.0,831.4 L833.3,830.8 L835.6,830.3 L837.8,829.7 L840.0,829.2 L842.8,828.5 L845.5,827.9 L848.2,827.3 L850.7,826.7 L853.2,826.1 L855.7,825.6 L858.1,825.0 L860.6,824.4 L863.0,823.9 L865.4,823.3 L867.8,822.7 L870.2,822.1 L872.7,821.4 L875.2,820.7 L877.7,820.0 L880.2,819.2 L882.7,818.5 L885.2,817.7 L887.7,816.9 L890.2,816.1 L892.7,815.4 L895.2,814.6 L897.7,813.8 L900.2,813.0 L902.8,812.3 L905.3,811.6 L907.7,810.9 L910.2,810.3 L912.7,809.6 L915.1,809.0 L917.6,808.4 L920.1,807.8 L922.6,807.1 L925.1,806.5 L927.6,805.9 L930.1,805.4 L932.6,804.8 L935.1,804.2 L937.5,803.6 L940.0,803.1 L942.5,802.6 L945.1,802.0 L947.6,801.6 L950.1,801.1 L952.7,800.6 L955.2,800.2 L957.7,799.7 L960.2,799.3 L962.7,798.8 L965.2,798.3 L967.7,797.8 L970.2,797.2 L972.7,796.6 L975.2,795.9 L977.7,795.3 L980.2,794.5 L982.7,793.8 L985.2,793.0 L987.7,792.2 L990.2,791.4 L992.7,790.6 L995.2,789.8 L997.7,789.0 L1000.2,788.2 L1002.8,787.5 L1005.3,786.8 L1007.7,786.2 L1010.1,785.6 L1012.5,785.0 L1014.8,784.5 L1017.2,784.0 L1019.6,783.5 L1022.0,782.9 L1024.4,782.4 L1026.9,781.9 L1029.4,781.4 L1031.9,780.8 L1034.5,780.2 L1037.2,779.6 L1040.0,778.9 L1042.2,778.4 L1044.5,777.8 L1046.8,777.2 L1049.1,776.6 L1051.5,776.0 L1054.0,775.4 L1056.5,774.7 L1059.0,774.1 L1061.6,773.4 L1064.1,772.7 L1066.7,772.0 L1069.3,771.4 L1072.0,770.7 L1074.6,770.0 L1077.2,769.3 L1079.8,768.5 L1082.4,767.8 L1085.0,767.1 L1087.6,766.4 L1090.1,765.7 L1092.7,765.0 L1095.1,764.4 L1097.6,763.7 L1100.0,763.0 L1102.6,762.3 L1105.2,761.5 L1107.8,760.8 L1110.4,760.0 L1113.0,759.3 L1115.6,758.5 L1118.2,757.7 L1120.8,757.0 L1123.3,756.2 L1125.8,755.5 L1128.4,754.7 L1130.9,754.0 L1133.3,753.2 L1135.8,752.5 L1138.2,751.7 L1140.6,751.0 L1143.0,750.3 L1145.4,749.6 L1147.7,748.9 L1150.0,748.2 L1152.7,747.4 L1155.4,746.6 L1158.0,745.8 L1160.5,745.0 L1163.1,744.2 L1165.6,743.4 L1168.1,742.7 L1170.5,741.9 L1173.0,741.2 L1175.4,740.4 L1177.9,739.7 L1180.3,739.0 L1182.8,738.3 L1185.3,737.6 L1187.8,737.0 L1190.4,736.3 L1193.0,735.7 L1195.7,735.2 L1198.3,734.6 L1201.0,734.1 L1203.6,733.5 L1206.2,733.0 L1208.7,732.4 L1211.1,731.8 L1213.4,731.3 L1215.6,730.7 L1217.6,730.1 L1219.4,729.4 L1222.6,728.1 L1225.4,726.8 L1227.8,725.3 L1230.0,723.5 L1231.7,721.7 L1233.3,719.7 L1234.7,717.5 L1236.0,715.3 L1237.0,712.9 L1237.9,710.2 L1238.7,707.4 L1239.2,704.5 L1239.4,701.6 L1239.3,698.8 L1238.8,696.3 L1237.9,694.0 L1236.8,691.7 L1235.6,689.3 L1234.6,687.0 L1273.4,699.8 L1275.9,700.9 L1278.5,702.0 L1281.1,703.2 L1283.8,704.3 L1286.5,705.5 L1289.2,706.6 L1291.7,707.7 L1294.2,708.8 L1296.6,709.9 L1298.9,710.9 L1300.9,711.9 L1302.8,712.9 L1305.7,714.4 L1308.2,715.8 L1310.4,717.2 L1312.2,718.8 L1313.8,720.9 L1315.0,723.3 L1315.8,725.8 L1316.4,728.8 L1316.6,732.0 L1316.4,735.2 L1315.8,738.4 L1314.9,741.6 L1313.4,744.6 L1311.7,746.8 L1309.6,748.9 L1307.4,750.9 L1305.2,752.9 L1305.2,752.9 L1307.6,753.7 L1310.0,754.5 L1312.4,755.2 L1314.8,756.0 L1317.2,756.8 L1319.6,757.6 L1322.0,758.4 L1324.6,759.2 L1327.2,760.1 L1330.0,761.1 L1332.1,761.8 L1334.2,762.6 L1336.4,763.4 L1338.6,764.3 L1340.9,765.1 L1343.2,766.0 L1345.6,766.9 L1348.0,767.8 L1350.4,768.8 L1352.9,769.7 L1355.3,770.7 L1357.8,771.6 L1360.3,772.6 L1362.8,773.5 L1365.2,774.5 L1367.7,775.4 L1370.2,776.3 L1372.6,777.1 L1375.0,778.0 L1377.4,778.8 L1379.8,779.7 L1382.2,780.5 L1384.6,781.3 L1387.0,782.1 L1389.5,782.9 L1391.9,783.7 L1394.3,784.5 L1396.7,785.2 L1399.2,786.0 L1401.6,786.8 L1404.0,787.6 L1406.4,788.3 L1408.9,789.1 L1411.3,789.9 L1413.7,790.7 L1416.2,791.4 L1418.6,792.2 L1421.0,793.0 L1421.0,794.0 L1285.0,835.0 L1200.0,860.0 L1100.0,885.0 L1015.0,909.0 L1015.0,909.0 L1012.5,908.1 L1010.1,907.2 L1007.6,906.3 L1005.2,905.4 L1002.7,904.5 L1000.2,903.5 L997.8,902.6 L995.3,901.7 L992.9,900.8 L990.4,899.9 L987.9,899.0 L985.5,898.1 L983.0,897.3 L980.5,896.4 L978.1,895.6 L975.6,894.8 L973.2,894.0 L970.8,893.3 L968.4,892.6 L966.0,891.9 L963.6,891.2 L961.3,890.6 L958.9,889.9 L956.5,889.3 L954.1,888.6 L951.7,888.0 L949.3,887.4 L946.8,886.7 L944.3,886.0 L941.7,885.4 L939.1,884.7 L936.4,884.0 L934.2,883.4 L931.9,882.8 L929.6,882.3 L927.3,881.7 L924.9,881.1 L922.5,880.5 L920.1,879.9 L917.7,879.3 L915.2,878.7 L912.7,878.1 L910.2,877.5 L907.7,876.9 L905.2,876.3 L902.7,875.7 L900.2,875.1 L897.6,874.5 L895.1,873.8 L892.6,873.2 L890.0,872.6 L887.5,871.9 L885.0,871.3 L882.5,870.6 L880.1,870.0 L877.6,869.3 L875.1,868.6 L872.6,867.9 L870.1,867.2 L867.6,866.4 L865.1,865.7 L862.5,864.9 L860.0,864.2 L857.4,863.4 L854.9,862.6 L852.4,861.8 L849.8,861.0 L847.3,860.2 L844.8,859.4 L842.3,858.7 L839.8,857.9 L837.3,857.1 L834.9,856.4 L832.5,855.7 L830.1,854.9 L827.8,854.3 L825.5,853.6 L823.2,852.9 L821.0,852.3 L818.8,851.7 L816.0,850.9 L813.2,850.2 L810.6,849.6 L808.0,848.9 L805.4,848.3 L802.9,847.7 L800.4,847.1 L797.9,846.5 L795.4,845.9 L793.0,845.4 L790.5,844.8 L788.0,844.2 L785.5,843.6 L783.0,843.0 Z"/></clipPath><clipPath id="c12"><path d="M834.5,857.6 L836.9,855.8 L840.0,854.0 L841.5,853.4 L843.2,852.8 L845.2,852.2 L847.4,851.5 L849.8,850.9 L852.4,850.2 L855.1,849.5 L857.8,848.9 L860.7,848.2 L863.5,847.5 L866.3,846.9 L869.1,846.2 L871.8,845.5 L874.4,844.9 L876.9,844.2 L879.2,843.6 L882.0,842.8 L884.7,842.0 L887.3,841.2 L889.8,840.4 L892.3,839.6 L894.8,838.8 L897.4,838.0 L899.9,837.2 L902.6,836.5 L905.3,835.7 L907.6,835.1 L910.0,834.4 L912.4,833.8 L914.9,833.2 L917.4,832.6 L919.9,832.0 L922.4,831.3 L924.9,830.7 L927.5,830.1 L930.0,829.5 L932.5,828.9 L935.0,828.3 L937.5,827.8 L940.0,827.2 L942.5,826.6 L945.1,826.1 L947.6,825.5 L950.1,825.0 L952.6,824.5 L955.2,823.9 L957.7,823.4 L960.2,822.9 L962.7,822.3 L965.2,821.8 L967.7,821.3 L970.2,820.7 L972.7,820.1 L975.2,819.5 L977.7,818.9 L980.2,818.3 L982.7,817.6 L985.2,817.0 L987.7,816.3 L990.2,815.7 L992.7,815.0 L995.2,814.3 L997.7,813.7 L1000.2,813.0 L1002.8,812.3 L1005.3,811.6 L1007.7,810.9 L1010.1,810.3 L1012.5,809.6 L1014.9,809.0 L1017.2,808.3 L1019.6,807.6 L1022.0,806.9 L1024.4,806.3 L1026.9,805.6 L1029.4,804.8 L1031.9,804.1 L1034.5,803.4 L1037.2,802.6 L1040.0,801.8 L1042.2,801.2 L1044.4,800.5 L1046.8,799.9 L1049.1,799.2 L1051.5,798.5 L1054.0,797.8 L1056.5,797.1 L1059.0,796.3 L1061.5,795.6 L1064.1,794.8 L1066.7,794.1 L1069.3,793.3 L1071.9,792.6 L1074.6,791.8 L1077.2,791.1 L1079.8,790.3 L1082.4,789.5 L1085.0,788.8 L1087.6,788.1 L1090.1,787.3 L1092.6,786.6 L1095.1,785.9 L1097.6,785.2 L1100.0,784.5 L1102.6,783.8 L1105.2,783.0 L1107.7,782.3 L1110.2,781.6 L1112.7,780.9 L1115.2,780.2 L1117.7,779.5 L1120.1,778.8 L1122.6,778.1 L1125.0,777.5 L1127.5,776.8 L1129.9,776.1 L1132.4,775.4 L1134.8,774.7 L1137.3,774.0 L1139.8,773.3 L1142.3,772.6 L1144.9,771.9 L1147.4,771.2 L1150.0,770.5 L1152.4,769.8 L1154.8,769.2 L1157.2,768.5 L1159.6,767.8 L1162.1,767.1 L1164.6,766.3 L1167.1,765.6 L1169.6,764.9 L1172.1,764.2 L1174.7,763.4 L1177.2,762.7 L1179.7,762.0 L1182.3,761.3 L1184.8,760.5 L1187.3,759.8 L1189.8,759.1 L1192.2,758.4 L1194.7,757.8 L1197.1,757.1 L1199.5,756.4 L1201.9,755.8 L1204.2,755.2 L1206.5,754.6 L1208.8,754.0 L1211.6,753.3 L1214.4,752.7 L1217.3,752.0 L1220.1,751.4 L1222.9,750.8 L1225.7,750.3 L1228.4,749.7 L1231.1,749.2 L1233.8,748.6 L1236.4,748.1 L1238.9,747.6 L1241.3,747.0 L1243.7,746.4 L1245.9,745.8 L1248.0,745.2 L1250.0,744.6 L1253.1,743.5 L1255.9,742.5 L1258.5,741.5 L1260.8,740.4 L1263.1,739.1 L1265.2,737.6 L1267.1,735.9 L1269.0,734.1 L1270.6,732.1 L1272.2,730.1 L1273.5,727.9 L1274.6,725.8 L1275.6,723.3 L1276.3,720.7 L1276.8,718.1 L1277.0,715.5 L1277.0,712.9 L1276.5,709.9 L1275.6,707.0 L1274.4,704.0 L1273.4,701.1 L1302.8,712.9 L1305.3,714.3 L1307.8,715.7 L1310.2,717.1 L1312.2,718.8 L1313.8,720.9 L1315.0,723.3 L1315.8,725.8 L1316.4,728.8 L1316.6,732.0 L1316.4,735.2 L1315.8,738.4 L1314.9,741.6 L1313.4,744.6 L1311.7,746.8 L1309.6,748.9 L1307.4,750.9 L1305.2,752.9 L1305.2,752.9 L1307.6,753.7 L1310.0,754.5 L1312.4,755.2 L1314.8,756.0 L1317.2,756.8 L1319.6,757.6 L1322.0,758.4 L1324.6,759.2 L1327.2,760.1 L1330.0,761.1 L1332.1,761.8 L1334.2,762.6 L1336.4,763.4 L1338.6,764.3 L1340.9,765.1 L1343.2,766.0 L1345.6,766.9 L1348.0,767.8 L1350.4,768.8 L1352.9,769.7 L1355.3,770.7 L1357.8,771.6 L1360.3,772.6 L1362.8,773.5 L1365.2,774.5 L1367.7,775.4 L1370.2,776.3 L1372.6,777.1 L1375.0,778.0 L1377.4,778.8 L1379.8,779.7 L1382.2,780.5 L1384.6,781.3 L1387.0,782.1 L1389.5,782.9 L1391.9,783.7 L1394.3,784.5 L1396.7,785.2 L1399.2,786.0 L1401.6,786.8 L1404.0,787.6 L1406.4,788.3 L1408.9,789.1 L1411.3,789.9 L1413.7,790.7 L1416.2,791.4 L1418.6,792.2 L1421.0,793.0 L1421.0,794.0 L1285.0,835.0 L1200.0,860.0 L1100.0,885.0 L1015.0,909.0 L1015.0,909.0 L1012.5,908.1 L1010.1,907.2 L1007.6,906.3 L1005.2,905.4 L1002.7,904.5 L1000.2,903.5 L997.8,902.6 L995.3,901.7 L992.9,900.8 L990.4,899.9 L987.9,899.0 L985.5,898.1 L983.0,897.3 L980.5,896.4 L978.1,895.6 L975.6,894.8 L973.2,894.0 L970.8,893.3 L968.4,892.6 L966.0,891.9 L963.6,891.2 L961.3,890.6 L958.9,889.9 L956.5,889.3 L954.1,888.6 L951.7,888.0 L949.3,887.4 L946.8,886.7 L944.3,886.0 L941.7,885.4 L939.1,884.7 L936.4,884.0 L934.2,883.4 L931.9,882.8 L929.6,882.2 L927.2,881.6 L924.8,881.0 L922.3,880.4 L919.9,879.8 L917.3,879.2 L914.8,878.6 L912.3,877.9 L909.7,877.3 L907.2,876.7 L904.6,876.1 L902.1,875.4 L899.5,874.8 L897.0,874.2 L894.4,873.6 L891.9,872.9 L889.5,872.3 L887.0,871.7 L884.6,871.1 L882.2,870.5 L879.9,869.9 L877.6,869.3 L874.9,868.6 L872.2,867.9 L869.6,867.2 L867.0,866.5 L864.4,865.8 L861.9,865.1 L859.4,864.4 L856.9,863.7 L854.4,863.1 L851.9,862.4 L849.4,861.7 L847.0,861.0 L844.5,860.3 L842.0,859.7 L839.5,859.0 L837.0,858.3 L834.5,857.6 Z"/></clipPath><clipPath id="c13"><path d="M133.4,355.8 L136.0,356.0 L138.6,356.3 L141.1,356.5 L143.7,356.7 L146.2,356.9 L148.8,357.1 L151.4,357.3 L153.9,357.5 L156.5,357.7 L159.1,358.0 L161.8,358.3 L164.5,358.5 L167.2,358.9 L170.0,359.2 L172.3,359.5 L174.7,359.8 L177.0,360.2 L179.4,360.5 L181.9,360.9 L184.3,361.3 L186.8,361.7 L189.2,362.1 L191.7,362.5 L194.2,362.9 L196.8,363.4 L199.3,363.8 L201.9,364.2 L204.4,364.7 L207.0,365.1 L209.6,365.6 L212.2,366.0 L214.8,366.5 L217.4,366.9 L220.0,367.4 L222.4,367.8 L224.8,368.2 L227.1,368.6 L229.5,369.0 L231.9,369.4 L234.3,369.8 L236.7,370.2 L239.1,370.6 L241.5,371.0 L243.9,371.4 L246.3,371.9 L248.7,372.3 L251.2,372.7 L253.7,373.1 L256.2,373.6 L258.7,374.0 L261.3,374.5 L263.8,375.0 L266.4,375.5 L269.1,376.0 L271.8,376.5 L274.5,377.1 L277.2,377.6 L280.0,378.2 L282.2,378.7 L284.4,379.1 L286.6,379.6 L288.9,380.1 L291.2,380.6 L293.5,381.1 L295.9,381.6 L298.3,382.2 L300.8,382.7 L303.2,383.3 L305.7,383.9 L308.2,384.4 L310.7,385.0 L313.3,385.6 L315.8,386.2 L318.4,386.8 L321.0,387.4 L323.6,388.0 L326.2,388.6 L328.8,389.2 L331.3,389.9 L333.9,390.5 L336.5,391.1 L339.1,391.7 L341.7,392.4 L344.2,393.0 L346.8,393.6 L349.3,394.2 L351.9,394.9 L354.4,395.5 L356.8,396.1 L359.3,396.7 L361.7,397.3 L364.1,397.9 L366.5,398.5 L368.9,399.1 L371.2,399.7 L373.4,400.2 L375.7,400.8 L377.9,401.4 L380.0,401.9 L382.8,402.6 L385.5,403.3 L388.1,404.0 L390.7,404.7 L393.3,405.3 L395.7,406.0 L398.2,406.6 L400.6,407.2 L403.0,407.9 L405.3,408.5 L407.7,409.2 L410.0,409.8 L412.4,410.4 L414.7,411.1 L417.1,411.7 L419.5,412.4 L421.9,413.1 L424.3,413.7 L426.8,414.4 L429.3,415.2 L431.9,415.9 L434.5,416.6 L437.2,417.4 L440.0,418.2 L442.2,418.8 L444.4,419.5 L446.6,420.1 L448.9,420.8 L451.2,421.4 L453.5,422.1 L455.9,422.8 L458.3,423.5 L460.8,424.3 L463.2,425.0 L465.7,425.7 L468.2,426.5 L470.7,427.2 L473.3,428.0 L475.8,428.8 L478.4,429.5 L481.0,430.3 L483.5,431.1 L486.1,431.9 L488.7,432.7 L491.3,433.5 L493.9,434.2 L496.5,435.0 L499.1,435.8 L501.7,436.6 L504.2,437.4 L506.8,438.2 L509.3,438.9 L511.8,439.7 L514.3,440.5 L516.8,441.2 L519.3,442.0 L521.7,442.7 L524.1,443.5 L526.5,444.2 L528.8,444.9 L531.1,445.6 L533.4,446.3 L535.7,447.0 L537.8,447.6 L540.0,448.3 L542.7,449.1 L545.3,449.9 L547.9,450.7 L550.5,451.5 L553.0,452.2 L555.5,453.0 L557.9,453.7 L560.3,454.4 L562.7,455.1 L565.1,455.9 L567.5,456.6 L569.8,457.3 L572.1,458.0 L574.5,458.7 L576.8,459.4 L579.1,460.1 L581.4,460.8 L583.7,461.5 L586.0,462.2 L588.3,462.9 L590.6,463.7 L592.9,464.4 L595.3,465.2 L597.6,465.9 L600.0,466.7 L602.4,467.5 L604.8,468.3 L607.2,469.1 L609.6,469.9 L612.0,470.8 L614.4,471.6 L616.8,472.4 L619.2,473.3 L621.6,474.1 L624.0,475.0 L626.4,475.9 L628.8,476.7 L631.2,477.6 L633.6,478.4 L636.0,479.3 L638.4,480.1 L640.8,481.0 L643.2,481.9 L645.6,482.7 L648.0,483.6 L650.4,484.4 L652.8,485.2 L655.2,486.1 L657.6,486.9 L660.0,487.7 L662.4,488.5 L664.8,489.3 L667.1,490.1 L669.5,490.8 L671.9,491.6 L674.2,492.4 L676.5,493.1 L678.9,493.9 L681.2,494.6 L683.6,495.4 L685.9,496.1 L688.3,496.8 L690.6,497.6 L693.0,498.3 L695.4,499.1 L697.8,499.8 L700.2,500.6 L702.6,501.4 L705.0,502.2 L707.5,503.0 L709.9,503.8 L712.4,504.6 L714.9,505.4 L717.4,506.2 L720.0,507.1 L722.3,507.9 L724.6,508.7 L726.9,509.5 L729.3,510.3 L731.7,511.1 L734.1,511.9 L736.5,512.8 L739.0,513.7 L741.4,514.5 L743.9,515.4 L746.4,516.3 L748.9,517.2 L751.4,518.1 L754.0,519.0 L756.5,519.9 L759.0,520.8 L761.5,521.7 L764.1,522.6 L766.6,523.5 L769.1,524.4 L771.6,525.3 L774.1,526.2 L776.6,527.1 L779.0,527.9 L781.4,528.8 L783.9,529.7 L786.3,530.5 L788.6,531.3 L791.0,532.2 L793.3,533.0 L795.6,533.8 L797.8,534.5 L800.0,535.3 L802.7,536.2 L805.3,537.1 L807.8,538.0 L810.3,538.8 L812.8,539.6 L815.3,540.5 L817.7,541.3 L820.1,542.1 L822.5,542.9 L824.9,543.7 L827.2,544.4 L829.6,545.2 L831.9,546.0 L834.3,546.8 L836.6,547.5 L839.0,548.3 L841.4,549.1 L843.8,549.9 L846.2,550.7 L848.7,551.5 L851.2,552.4 L853.7,553.2 L856.1,554.0 L858.5,554.8 L860.9,555.6 L863.4,556.4 L865.9,557.3 L868.4,558.1 L871.0,559.0 L873.6,559.8 L876.2,560.7 L878.7,561.6 L881.3,562.4 L883.9,563.3 L886.5,564.1 L889.1,565.0 L891.6,565.9 L894.2,566.7 L896.7,567.5 L899.1,568.4 L901.6,569.2 L904.0,570.0 L906.3,570.8 L908.6,571.6 L910.8,572.3 L913.0,573.1 L915.1,573.8 L917.2,574.5 L919.9,575.4 L922.5,576.3 L924.9,577.2 L927.3,578.0 L929.5,578.8 L931.7,579.6 L933.9,580.4 L936.1,581.2 L938.4,582.0 L940.7,582.8 L943.2,583.7 L945.8,584.6 L948.6,585.5 L950.6,586.2 L952.7,586.9 L954.8,587.6 L957.0,588.3 L959.3,589.0 L961.6,589.8 L964.0,590.5 L966.4,591.3 L968.9,592.1 L971.4,592.8 L973.9,593.6 L976.4,594.4 L979.0,595.2 L981.6,596.1 L984.2,596.9 L986.8,597.7 L989.4,598.5 L992.0,599.3 L994.6,600.2 L997.2,601.0 L999.8,601.8 L1002.4,602.7 L1004.9,603.5 L1007.5,604.3 L1010.0,605.1 L1012.4,605.9 L1014.8,606.7 L1017.2,607.5 L1019.8,608.4 L1022.3,609.2 L1024.9,610.1 L1027.5,611.0 L1030.0,611.9 L1032.6,612.7 L1035.1,613.6 L1037.7,614.5 L1040.3,615.4 L1042.8,616.3 L1045.3,617.2 L1047.8,618.1 L1050.3,619.0 L1052.8,619.8 L1055.2,620.7 L1057.7,621.6 L1060.1,622.4 L1062.5,623.3 L1064.8,624.1 L1067.1,624.9 L1069.4,625.7 L1071.6,626.5 L1073.8,627.3 L1076.0,628.1 L1078.6,629.0 L1081.2,630.0 L1083.7,630.8 L1086.1,631.7 L1088.4,632.6 L1090.8,633.4 L1093.1,634.3 L1095.4,635.1 L1097.6,635.9 L1099.9,636.8 L1102.2,637.6 L1104.5,638.4 L1106.8,639.3 L1109.1,640.1 L1111.5,641.0 L1113.9,641.9 L1116.3,642.8 L1118.8,643.7 L1121.3,644.6 L1123.8,645.5 L1126.4,646.4 L1128.9,647.3 L1131.4,648.3 L1133.9,649.2 L1136.4,650.1 L1138.8,650.9 L1141.2,651.8 L1143.5,652.7 L1145.8,653.5 L1147.9,654.3 L1150.0,655.0 L1152.8,656.0 L1155.4,657.0 L1157.9,657.9 L1160.3,658.7 L1162.7,659.6 L1165.0,660.4 L1167.5,661.3 L1170.0,662.2 L1172.5,663.1 L1175.1,664.0 L1177.6,664.9 L1180.2,665.9 L1182.8,666.8 L1185.5,667.7 L1188.1,668.7 L1190.8,669.6 L1193.5,670.6 L1195.9,671.5 L1198.4,672.4 L1201.0,673.3 L1203.5,674.2 L1206.1,675.2 L1208.7,676.1 L1211.2,677.0 L1213.7,677.9 L1216.1,678.8 L1218.4,679.6 L1220.5,680.4 L1223.5,681.5 L1226.1,682.4 L1228.7,683.3 L1231.4,684.3 L1234.6,685.5 L1236.5,686.2 L1238.6,686.9 L1240.8,687.7 L1243.1,688.5 L1245.5,689.4 L1248.0,690.3 L1250.6,691.2 L1253.2,692.2 L1255.8,693.1 L1258.4,694.1 L1261.1,695.0 L1263.7,696.0 L1266.2,697.0 L1268.7,697.9 L1271.1,698.9 L1273.4,699.8 L1276.0,700.9 L1278.6,702.0 L1281.1,703.0 L1283.5,704.1 L1286.0,705.2 L1288.4,706.3 L1290.8,707.4 L1293.2,708.5 L1295.6,709.6 L1298.0,710.7 L1300.4,711.8 L1302.8,712.9 L1302.8,712.9 L1305.3,714.3 L1307.8,715.7 L1310.2,717.1 L1312.2,718.8 L1313.8,720.9 L1315.0,723.3 L1315.8,725.8 L1316.4,728.8 L1316.6,732.0 L1316.4,735.2 L1315.8,738.4 L1314.9,741.6 L1313.4,744.6 L1311.7,746.8 L1309.6,748.9 L1307.4,750.9 L1305.2,752.9 L1305.2,752.9 L1307.6,753.7 L1310.0,754.5 L1312.4,755.2 L1314.8,756.0 L1317.2,756.8 L1319.6,757.6 L1322.0,758.4 L1324.6,759.2 L1327.2,760.1 L1330.0,761.1 L1332.1,761.8 L1334.2,762.6 L1336.4,763.4 L1338.6,764.3 L1340.9,765.1 L1343.2,766.0 L1345.6,766.9 L1348.0,767.8 L1350.4,768.8 L1352.9,769.7 L1355.3,770.7 L1357.8,771.6 L1360.3,772.6 L1362.8,773.5 L1365.2,774.5 L1367.7,775.4 L1370.2,776.3 L1372.6,777.1 L1375.0,778.0 L1377.4,778.8 L1379.8,779.7 L1382.2,780.5 L1384.6,781.3 L1387.0,782.1 L1389.5,782.9 L1391.9,783.7 L1394.3,784.5 L1396.7,785.2 L1399.2,786.0 L1401.6,786.8 L1404.0,787.6 L1406.4,788.3 L1408.9,789.1 L1411.3,789.9 L1413.7,790.7 L1416.2,791.4 L1418.6,792.2 L1421.0,793.0 L1421.0,794.0 L1285.0,835.0 L1200.0,860.0 L1100.0,885.0 L1015.0,909.0 L1015.0,909.0 L975.6,894.8 L936.4,884.0 L877.6,869.3 L818.8,851.7 L760.0,834.0 L700.0,815.0 L652.4,798.0 L609.3,782.0 L573.4,769.2 L540.0,755.0 L498.7,740.0 L498.7,740.0 L494.5,739.0 L493.2,738.6 L491.7,738.0 L489.9,737.3 L487.9,736.5 L485.7,735.6 L483.4,734.7 L480.9,733.6 L478.3,732.6 L475.6,731.4 L472.8,730.3 L470.0,729.1 L467.2,727.9 L464.5,726.7 L461.7,725.5 L459.0,724.3 L456.4,723.2 L453.9,722.1 L451.6,721.1 L449.1,720.0 L446.7,718.9 L444.2,717.9 L441.8,716.8 L439.4,715.7 L437.0,714.7 L434.7,713.6 L432.3,712.5 L429.9,711.5 L427.6,710.4 L425.3,709.3 L422.9,708.2 L420.5,707.2 L418.2,706.1 L415.8,705.0 L413.4,703.9 L411.1,702.8 L408.7,701.8 L406.3,700.7 L404.0,699.6 L401.7,698.6 L399.3,697.5 L397.0,696.4 L394.6,695.3 L392.2,694.2 L389.8,693.1 L387.4,692.0 L385.0,690.8 L382.5,689.7 L380.0,688.5 L377.8,687.4 L375.5,686.3 L373.2,685.2 L370.8,684.1 L368.5,683.0 L366.1,681.8 L363.7,680.6 L361.3,679.5 L358.9,678.3 L356.5,677.1 L354.1,675.9 L351.7,674.7 L349.3,673.6 L346.9,672.4 L344.5,671.2 L342.2,670.0 L339.8,668.9 L337.5,667.7 L335.2,666.6 L332.8,665.4 L330.4,664.3 L328.1,663.1 L325.7,661.9 L323.3,660.8 L321.0,659.7 L318.7,658.5 L316.3,657.4 L314.0,656.2 L311.7,655.1 L309.4,654.0 L307.1,652.8 L304.9,651.7 L302.6,650.5 L300.3,649.4 L298.1,648.2 L295.8,647.0 L293.5,645.8 L291.2,644.6 L289.0,643.4 L286.7,642.1 L284.5,640.9 L282.3,639.7 L280.1,638.5 L277.8,637.3 L275.6,636.0 L273.4,634.8 L271.2,633.5 L269.0,632.2 L266.8,631.0 L264.5,629.7 L262.3,628.3 L260.0,627.0 L257.8,625.7 L255.6,624.4 L253.4,623.0 L251.2,621.7 L248.9,620.3 L246.6,618.9 L244.4,617.5 L242.1,616.1 L239.8,614.7 L237.6,613.2 L235.3,611.8 L233.1,610.4 L230.9,609.0 L228.8,607.6 L226.6,606.3 L224.5,604.9 L222.5,603.6 L220.5,602.3 L218.1,600.7 L215.7,599.2 L213.4,597.7 L211.1,596.2 L208.9,594.7 L206.7,593.3 L204.6,591.8 L202.4,590.4 L200.2,588.9 L198.1,587.4 L195.9,585.9 L193.7,584.4 L191.6,582.9 L189.5,581.5 L187.5,580.0 L185.4,578.5 L183.3,577.0 L181.2,575.5 L179.1,574.0 L177.1,572.5 L175.0,571.0 L173.0,569.4 L170.9,567.9 L168.8,566.3 L166.8,564.7 L164.7,563.1 L162.6,561.4 L160.5,559.7 L158.3,558.0 L156.2,556.3 L154.1,554.6 L152.0,552.8 L149.9,551.1 L147.9,549.3 L145.9,547.6 L143.9,545.9 L141.9,544.1 L140.0,542.4 L138.0,540.6 L136.0,538.7 L134.1,536.8 L132.2,535.0 L130.3,533.1 L128.4,531.3 L126.6,529.4 L124.8,527.6 L123.1,525.7 L121.4,523.9 L119.7,522.0 L117.9,519.9 L116.1,517.9 L114.4,515.8 L112.7,513.8 L111.0,511.7 L109.4,509.7 L107.8,507.6 L106.3,505.5 L104.8,503.4 L103.2,501.1 L101.7,498.8 L100.3,496.6 L98.8,494.3 L97.5,491.9 L96.1,489.6 L94.9,487.2 L93.6,484.7 L92.4,482.3 L91.3,479.9 L90.2,477.4 L89.1,474.9 L88.1,472.3 L87.1,469.8 L86.2,467.3 L85.4,464.8 L84.7,462.4 L84.0,459.8 L83.5,457.3 L83.0,454.7 L82.6,452.3 L82.3,449.8 L82.1,447.4 L81.9,445.0 L81.8,442.1 L81.9,439.3 L82.0,436.5 L82.3,433.7 L82.7,430.8 L83.1,428.2 L83.6,425.6 L84.2,422.9 L84.8,420.1 L85.6,417.4 L86.4,414.7 L87.2,412.1 L88.1,409.6 L89.0,407.2 L90.0,404.8 L91.1,402.5 L92.2,400.2 L93.4,397.9 L94.6,395.7 L96.0,393.3 L97.4,391.0 L98.9,388.8 L100.4,386.6 L102.0,384.4 L103.6,382.3 L105.3,380.2 L107.1,378.1 L109.0,376.1 L110.9,374.1 L112.8,372.2 L114.7,370.4 L116.9,368.4 L119.2,366.5 L121.5,364.7 L123.8,363.0 L125.9,361.4 L128.5,359.4 L131.0,357.6 L133.4,355.8 Z"/></clipPath>
<linearGradient id="railg" gradientUnits="userSpaceOnUse" x1="90" y1="380" x2="480" y2="720">
<stop offset="0" stop-color="#7f746d"/><stop offset="1" stop-color="#968a82"/>
</linearGradient>
<linearGradient id="strg" x1="0" y1="0" x2="1" y2="0">
<stop offset="0" stop-color="#cf8a47"/><stop offset="0.6" stop-color="#dc9a57"/><stop offset="1" stop-color="#d18e4c"/>
</linearGradient>
<linearGradient id="pug1" gradientUnits="userSpaceOnUse" x1="520" y1="0" x2="960" y2="0">
<stop offset="0" stop-color="#796a5e"/><stop offset="1" stop-color="#716459"/>
</linearGradient>
<linearGradient id="epg1" gradientUnits="userSpaceOnUse" x1="540" y1="0" x2="1000" y2="0">
<stop offset="0" stop-color="#958679"/><stop offset="0.6" stop-color="#a89a90"/><stop offset="1" stop-color="#b5aaa3"/>
</linearGradient>
<linearGradient id="epg" x1="0" y1="0" x2="1" y2="0">
<stop offset="0" stop-color="#9d9d9d"/><stop offset="1" stop-color="#8a8a8a"/>
</linearGradient>
<linearGradient id="pug" x1="0" y1="0" x2="1" y2="0">
<stop offset="0" stop-color="#777777"/><stop offset="1" stop-color="#6e6e6e"/>
</linearGradient>
<filter id="fwood" x="0" y="0" width="1" height="1" color-interpolation-filters="sRGB">
<feTurbulence type="fractalNoise" baseFrequency="0.006 0.25" numOctaves="3" seed="7"/>
<feColorMatrix type="matrix" values="0.21 0 0 0 0.62  0.21 0 0 0 0.515  0.2 0 0 0 0.45  0 0 0 0 1"/>
</filter>
<filter id="fgrain" x="0" y="0" width="1" height="1" color-interpolation-filters="sRGB">
<feTurbulence type="fractalNoise" baseFrequency="0.01 0.22" numOctaves="3" seed="5"/>
<feColorMatrix type="matrix" values="0 0 0 0 0.45  0 0 0 0 0.25  0 0 0 0 0.08  1.4 0 0 0 -0.58"/>
</filter>
<filter id="blur2"><feGaussianBlur stdDeviation="2.2"/></filter><filter id="blur4" x="-20%" y="-50%" width="140%" height="200%"><feGaussianBlur stdDeviation="4"/></filter>
<filter id="ffoam" x="0" y="0" width="1" height="1" color-interpolation-filters="sRGB">
<feTurbulence type="fractalNoise" baseFrequency="0.75" numOctaves="2" seed="3"/>
<feColorMatrix type="matrix" values="0.3 0 0 0 0.635  0.3 0 0 0 0.625  0.3 0 0 0 0.62  0 0 0 0 1"/>
</filter>
<pattern id="phatch" patternUnits="userSpaceOnUse" width="5.2" height="6.4" patternTransform="rotate(-18)">
<rect width="5.2" height="6.4" fill="#a99f98"/><rect x="0.6" y="0.8" width="2.4" height="1.2" fill="#8c827b"/><rect x="3.2" y="4" width="2.4" height="1.2" fill="#8c827b"/>
</pattern>
<pattern id="pstripe" patternUnits="userSpaceOnUse" width="10.5" height="10" patternTransform="rotate(20)">
<rect width="10.5" height="10" fill="#cbcbcb"/><rect width="2.4" height="10" fill="#a9a9a9"/>
</pattern>
<pattern id="pstripe2" patternUnits="userSpaceOnUse" width="10.5" height="10" patternTransform="rotate(20)">
<rect width="10.5" height="10" fill="#c5c5c5"/><rect width="2.4" height="10" fill="#b2b2b2"/>
</pattern>
<pattern id="pcheck" patternUnits="userSpaceOnUse" width="10" height="10" patternTransform="rotate(-18) skewX(20)">
<rect width="10" height="10" fill="#bdbdbd"/><rect width="5" height="5" fill="#cbcbcb"/><rect x="5" y="5" width="5" height="5" fill="#cbcbcb"/>
</pattern>
</defs>
<path d="M133.4,355.8 L136.0,356.0 L138.6,356.3 L141.1,356.5 L143.7,356.7 L146.2,356.9 L148.8,357.1 L151.4,357.3 L153.9,357.5 L156.5,357.7 L159.1,358.0 L161.8,358.3 L164.5,358.5 L167.2,358.9 L170.0,359.2 L172.3,359.5 L174.7,359.8 L177.0,360.2 L179.4,360.5 L181.9,360.9 L184.3,361.3 L186.8,361.7 L189.2,362.1 L191.7,362.5 L194.2,362.9 L196.8,363.4 L199.3,363.8 L201.9,364.2 L204.4,364.7 L207.0,365.1 L209.6,365.6 L212.2,366.0 L214.8,366.5 L217.4,366.9 L220.0,367.4 L222.4,367.8 L224.8,368.2 L227.1,368.6 L229.5,369.0 L231.9,369.4 L234.3,369.8 L236.7,370.2 L239.1,370.6 L241.5,371.0 L243.9,371.4 L246.3,371.9 L248.7,372.3 L251.2,372.7 L253.7,373.1 L256.2,373.6 L258.7,374.0 L261.3,374.5 L263.8,375.0 L266.4,375.5 L269.1,376.0 L271.8,376.5 L274.5,377.1 L277.2,377.6 L280.0,378.2 L282.2,378.7 L284.4,379.1 L286.6,379.6 L288.9,380.1 L291.2,380.6 L293.5,381.1 L295.9,381.6 L298.3,382.2 L300.8,382.7 L303.2,383.3 L305.7,383.9 L308.2,384.4 L310.7,385.0 L313.3,385.6 L315.8,386.2 L318.4,386.8 L321.0,387.4 L323.6,388.0 L326.2,388.6 L328.8,389.2 L331.3,389.9 L333.9,390.5 L336.5,391.1 L339.1,391.7 L341.7,392.4 L344.2,393.0 L346.8,393.6 L349.3,394.2 L351.9,394.9 L354.4,395.5 L356.8,396.1 L359.3,396.7 L361.7,397.3 L364.1,397.9 L366.5,398.5 L368.9,399.1 L371.2,399.7 L373.4,400.2 L375.7,400.8 L377.9,401.4 L380.0,401.9 L382.8,402.6 L385.5,403.3 L388.1,404.0 L390.7,404.7 L393.3,405.3 L395.7,406.0 L398.2,406.6 L400.6,407.2 L403.0,407.9 L405.3,408.5 L407.7,409.2 L410.0,409.8 L412.4,410.4 L414.7,411.1 L417.1,411.7 L419.5,412.4 L421.9,413.1 L424.3,413.7 L426.8,414.4 L429.3,415.2 L431.9,415.9 L434.5,416.6 L437.2,417.4 L440.0,418.2 L442.2,418.8 L444.4,419.5 L446.6,420.1 L448.9,420.8 L451.2,421.4 L453.5,422.1 L455.9,422.8 L458.3,423.5 L460.8,424.3 L463.2,425.0 L465.7,425.7 L468.2,426.5 L470.7,427.2 L473.3,428.0 L475.8,428.8 L478.4,429.5 L481.0,430.3 L483.5,431.1 L486.1,431.9 L488.7,432.7 L491.3,433.5 L493.9,434.2 L496.5,435.0 L499.1,435.8 L501.7,436.6 L504.2,437.4 L506.8,438.2 L509.3,438.9 L511.8,439.7 L514.3,440.5 L516.8,441.2 L519.3,442.0 L521.7,442.7 L524.1,443.5 L526.5,444.2 L528.8,444.9 L531.1,445.6 L533.4,446.3 L535.7,447.0 L537.8,447.6 L540.0,448.3 L542.7,449.1 L545.3,449.9 L547.9,450.7 L550.5,451.5 L553.0,452.2 L555.5,453.0 L557.9,453.7 L560.3,454.4 L562.7,455.1 L565.1,455.9 L567.5,456.6 L569.8,457.3 L572.1,458.0 L574.5,458.7 L576.8,459.4 L579.1,460.1 L581.4,460.8 L583.7,461.5 L586.0,462.2 L588.3,462.9 L590.6,463.7 L592.9,464.4 L595.3,465.2 L597.6,465.9 L600.0,466.7 L602.4,467.5 L604.8,468.3 L607.2,469.1 L609.6,469.9 L612.0,470.8 L614.4,471.6 L616.8,472.4 L619.2,473.3 L621.6,474.1 L624.0,475.0 L626.4,475.9 L628.8,476.7 L631.2,477.6 L633.6,478.4 L636.0,479.3 L638.4,480.1 L640.8,481.0 L643.2,481.9 L645.6,482.7 L648.0,483.6 L650.4,484.4 L652.8,485.2 L655.2,486.1 L657.6,486.9 L660.0,487.7 L662.4,488.5 L664.8,489.3 L667.1,490.1 L669.5,490.8 L671.9,491.6 L674.2,492.4 L676.5,493.1 L678.9,493.9 L681.2,494.6 L683.6,495.4 L685.9,496.1 L688.3,496.8 L690.6,497.6 L693.0,498.3 L695.4,499.1 L697.8,499.8 L700.2,500.6 L702.6,501.4 L705.0,502.2 L707.5,503.0 L709.9,503.8 L712.4,504.6 L714.9,505.4 L717.4,506.2 L720.0,507.1 L722.3,507.9 L724.6,508.7 L726.9,509.5 L729.3,510.3 L731.7,511.1 L734.1,511.9 L736.5,512.8 L739.0,513.7 L741.4,514.5 L743.9,515.4 L746.4,516.3 L748.9,517.2 L751.4,518.1 L754.0,519.0 L756.5,519.9 L759.0,520.8 L761.5,521.7 L764.1,522.6 L766.6,523.5 L769.1,524.4 L771.6,525.3 L774.1,526.2 L776.6,527.1 L779.0,527.9 L781.4,528.8 L783.9,529.7 L786.3,530.5 L788.6,531.3 L791.0,532.2 L793.3,533.0 L795.6,533.8 L797.8,534.5 L800.0,535.3 L802.7,536.2 L805.3,537.1 L807.8,538.0 L810.3,538.8 L812.8,539.6 L815.3,540.5 L817.7,541.3 L820.1,542.1 L822.5,542.9 L824.9,543.7 L827.2,544.4 L829.6,545.2 L831.9,546.0 L834.3,546.8 L836.6,547.5 L839.0,548.3 L841.4,549.1 L843.8,549.9 L846.2,550.7 L848.7,551.5 L851.2,552.4 L853.7,553.2 L856.1,554.0 L858.5,554.8 L860.9,555.6 L863.4,556.4 L865.9,557.3 L868.4,558.1 L871.0,559.0 L873.6,559.8 L876.2,560.7 L878.7,561.6 L881.3,562.4 L883.9,563.3 L886.5,564.1 L889.1,565.0 L891.6,565.9 L894.2,566.7 L896.7,567.5 L899.1,568.4 L901.6,569.2 L904.0,570.0 L906.3,570.8 L908.6,571.6 L910.8,572.3 L913.0,573.1 L915.1,573.8 L917.2,574.5 L919.9,575.4 L922.5,576.3 L924.9,577.2 L927.3,578.0 L929.5,578.8 L931.7,579.6 L933.9,580.4 L936.1,581.2 L938.4,582.0 L940.7,582.8 L943.2,583.7 L945.8,584.6 L948.6,585.5 L950.6,586.2 L952.7,586.9 L954.8,587.6 L957.0,588.3 L959.3,589.0 L961.6,589.8 L964.0,590.5 L966.4,591.3 L968.9,592.1 L971.4,592.8 L973.9,593.6 L976.4,594.4 L979.0,595.2 L981.6,596.1 L984.2,596.9 L986.8,597.7 L989.4,598.5 L992.0,599.3 L994.6,600.2 L997.2,601.0 L999.8,601.8 L1002.4,602.7 L1004.9,603.5 L1007.5,604.3 L1010.0,605.1 L1012.4,605.9 L1014.8,606.7 L1017.2,607.5 L1019.8,608.4 L1022.3,609.2 L1024.9,610.1 L1027.5,611.0 L1030.0,611.9 L1032.6,612.7 L1035.1,613.6 L1037.7,614.5 L1040.3,615.4 L1042.8,616.3 L1045.3,617.2 L1047.8,618.1 L1050.3,619.0 L1052.8,619.8 L1055.2,620.7 L1057.7,621.6 L1060.1,622.4 L1062.5,623.3 L1064.8,624.1 L1067.1,624.9 L1069.4,625.7 L1071.6,626.5 L1073.8,627.3 L1076.0,628.1 L1078.6,629.0 L1081.2,630.0 L1083.7,630.8 L1086.1,631.7 L1088.4,632.6 L1090.8,633.4 L1093.1,634.3 L1095.4,635.1 L1097.6,635.9 L1099.9,636.8 L1102.2,637.6 L1104.5,638.4 L1106.8,639.3 L1109.1,640.1 L1111.5,641.0 L1113.9,641.9 L1116.3,642.8 L1118.8,643.7 L1121.3,644.6 L1123.8,645.5 L1126.4,646.4 L1128.9,647.3 L1131.4,648.3 L1133.9,649.2 L1136.4,650.1 L1138.8,650.9 L1141.2,651.8 L1143.5,652.7 L1145.8,653.5 L1147.9,654.3 L1150.0,655.0 L1152.8,656.0 L1155.4,657.0 L1157.9,657.9 L1160.3,658.7 L1162.7,659.6 L1165.0,660.4 L1167.5,661.3 L1170.0,662.2 L1172.5,663.1 L1175.1,664.0 L1177.6,664.9 L1180.2,665.9 L1182.8,666.8 L1185.5,667.7 L1188.1,668.7 L1190.8,669.6 L1193.5,670.6 L1195.9,671.5 L1198.4,672.4 L1201.0,673.3 L1203.5,674.2 L1206.1,675.2 L1208.7,676.1 L1211.2,677.0 L1213.7,677.9 L1216.1,678.8 L1218.4,679.6 L1220.5,680.4 L1223.5,681.5 L1226.1,682.4 L1228.7,683.3 L1231.4,684.3 L1234.6,685.5 L1236.5,686.2 L1238.6,686.9 L1240.8,687.7 L1243.1,688.5 L1245.5,689.4 L1248.0,690.3 L1250.6,691.2 L1253.2,692.2 L1255.8,693.1 L1258.4,694.1 L1261.1,695.0 L1263.7,696.0 L1266.2,697.0 L1268.7,697.9 L1271.1,698.9 L1273.4,699.8 L1276.0,700.9 L1278.6,702.0 L1281.1,703.0 L1283.5,704.1 L1286.0,705.2 L1288.4,706.3 L1290.8,707.4 L1293.2,708.5 L1295.6,709.6 L1298.0,710.7 L1300.4,711.8 L1302.8,712.9 L1302.8,712.9 L1305.3,714.3 L1307.8,715.7 L1310.2,717.1 L1312.2,718.8 L1313.8,720.9 L1315.0,723.3 L1315.8,725.8 L1316.4,728.8 L1316.6,732.0 L1316.4,735.2 L1315.8,738.4 L1314.9,741.6 L1313.4,744.6 L1311.7,746.8 L1309.6,748.9 L1307.4,750.9 L1305.2,752.9 L1305.2,752.9 L1307.6,753.7 L1310.0,754.5 L1312.4,755.2 L1314.8,756.0 L1317.2,756.8 L1319.6,757.6 L1322.0,758.4 L1324.6,759.2 L1327.2,760.1 L1330.0,761.1 L1332.1,761.8 L1334.2,762.6 L1336.4,763.4 L1338.6,764.3 L1340.9,765.1 L1343.2,766.0 L1345.6,766.9 L1348.0,767.8 L1350.4,768.8 L1352.9,769.7 L1355.3,770.7 L1357.8,771.6 L1360.3,772.6 L1362.8,773.5 L1365.2,774.5 L1367.7,775.4 L1370.2,776.3 L1372.6,777.1 L1375.0,778.0 L1377.4,778.8 L1379.8,779.7 L1382.2,780.5 L1384.6,781.3 L1387.0,782.1 L1389.5,782.9 L1391.9,783.7 L1394.3,784.5 L1396.7,785.2 L1399.2,786.0 L1401.6,786.8 L1404.0,787.6 L1406.4,788.3 L1408.9,789.1 L1411.3,789.9 L1413.7,790.7 L1416.2,791.4 L1418.6,792.2 L1421.0,793.0 L1421.0,794.0 L1285.0,835.0 L1200.0,860.0 L1100.0,885.0 L1015.0,909.0 L1015.0,909.0 L975.6,894.8 L936.4,884.0 L877.6,869.3 L818.8,851.7 L760.0,834.0 L700.0,815.0 L652.4,798.0 L609.3,782.0 L573.4,769.2 L540.0,755.0 L498.7,740.0 L498.7,740.0 L494.5,739.0 L493.2,738.6 L491.7,738.0 L489.9,737.3 L487.9,736.5 L485.7,735.6 L483.4,734.7 L480.9,733.6 L478.3,732.6 L475.6,731.4 L472.8,730.3 L470.0,729.1 L467.2,727.9 L464.5,726.7 L461.7,725.5 L459.0,724.3 L456.4,723.2 L453.9,722.1 L451.6,721.1 L449.1,720.0 L446.7,718.9 L444.2,717.9 L441.8,716.8 L439.4,715.7 L437.0,714.7 L434.7,713.6 L432.3,712.5 L429.9,711.5 L427.6,710.4 L425.3,709.3 L422.9,708.2 L420.5,707.2 L418.2,706.1 L415.8,705.0 L413.4,703.9 L411.1,702.8 L408.7,701.8 L406.3,700.7 L404.0,699.6 L401.7,698.6 L399.3,697.5 L397.0,696.4 L394.6,695.3 L392.2,694.2 L389.8,693.1 L387.4,692.0 L385.0,690.8 L382.5,689.7 L380.0,688.5 L377.8,687.4 L375.5,686.3 L373.2,685.2 L370.8,684.1 L368.5,683.0 L366.1,681.8 L363.7,680.6 L361.3,679.5 L358.9,678.3 L356.5,677.1 L354.1,675.9 L351.7,674.7 L349.3,673.6 L346.9,672.4 L344.5,671.2 L342.2,670.0 L339.8,668.9 L337.5,667.7 L335.2,666.6 L332.8,665.4 L330.4,664.3 L328.1,663.1 L325.7,661.9 L323.3,660.8 L321.0,659.7 L318.7,658.5 L316.3,657.4 L314.0,656.2 L311.7,655.1 L309.4,654.0 L307.1,652.8 L304.9,651.7 L302.6,650.5 L300.3,649.4 L298.1,648.2 L295.8,647.0 L293.5,645.8 L291.2,644.6 L289.0,643.4 L286.7,642.1 L284.5,640.9 L282.3,639.7 L280.1,638.5 L277.8,637.3 L275.6,636.0 L273.4,634.8 L271.2,633.5 L269.0,632.2 L266.8,631.0 L264.5,629.7 L262.3,628.3 L260.0,627.0 L257.8,625.7 L255.6,624.4 L253.4,623.0 L251.2,621.7 L248.9,620.3 L246.6,618.9 L244.4,617.5 L242.1,616.1 L239.8,614.7 L237.6,613.2 L235.3,611.8 L233.1,610.4 L230.9,609.0 L228.8,607.6 L226.6,606.3 L224.5,604.9 L222.5,603.6 L220.5,602.3 L218.1,600.7 L215.7,599.2 L213.4,597.7 L211.1,596.2 L208.9,594.7 L206.7,593.3 L204.6,591.8 L202.4,590.4 L200.2,588.9 L198.1,587.4 L195.9,585.9 L193.7,584.4 L191.6,582.9 L189.5,581.5 L187.5,580.0 L185.4,578.5 L183.3,577.0 L181.2,575.5 L179.1,574.0 L177.1,572.5 L175.0,571.0 L173.0,569.4 L170.9,567.9 L168.8,566.3 L166.8,564.7 L164.7,563.1 L162.6,561.4 L160.5,559.7 L158.3,558.0 L156.2,556.3 L154.1,554.6 L152.0,552.8 L149.9,551.1 L147.9,549.3 L145.9,547.6 L143.9,545.9 L141.9,544.1 L140.0,542.4 L138.0,540.6 L136.0,538.7 L134.1,536.8 L132.2,535.0 L130.3,533.1 L128.4,531.3 L126.6,529.4 L124.8,527.6 L123.1,525.7 L121.4,523.9 L119.7,522.0 L117.9,519.9 L116.1,517.9 L114.4,515.8 L112.7,513.8 L111.0,511.7 L109.4,509.7 L107.8,507.6 L106.3,505.5 L104.8,503.4 L103.2,501.1 L101.7,498.8 L100.3,496.6 L98.8,494.3 L97.5,491.9 L96.1,489.6 L94.9,487.2 L93.6,484.7 L92.4,482.3 L91.3,479.9 L90.2,477.4 L89.1,474.9 L88.1,472.3 L87.1,469.8 L86.2,467.3 L85.4,464.8 L84.7,462.4 L84.0,459.8 L83.5,457.3 L83.0,454.7 L82.6,452.3 L82.3,449.8 L82.1,447.4 L81.9,445.0 L81.8,442.1 L81.9,439.3 L82.0,436.5 L82.3,433.7 L82.7,430.8 L83.1,428.2 L83.6,425.6 L84.2,422.9 L84.8,420.1 L85.6,417.4 L86.4,414.7 L87.2,412.1 L88.1,409.6 L89.0,407.2 L90.0,404.8 L91.1,402.5 L92.2,400.2 L93.4,397.9 L94.6,395.7 L96.0,393.3 L97.4,391.0 L98.9,388.8 L100.4,386.6 L102.0,384.4 L103.6,382.3 L105.3,380.2 L107.1,378.1 L109.0,376.1 L110.9,374.1 L112.8,372.2 L114.7,370.4 L116.9,368.4 L119.2,366.5 L121.5,364.7 L123.8,363.0 L125.9,361.4 L128.5,359.4 L131.0,357.6 L133.4,355.8 Z" fill="url(#railg)"/>
<g clip-path="url(#c0)" opacity="0.14"><g transform="rotate(19 700 600)"><rect x="-200" y="100" width="1900" height="1000" filter="url(#fwood)"/></g></g>
<path d="M280.0,378.2 L282.4,378.8 L284.9,379.4 L287.4,379.9 L289.9,380.5 L292.4,381.1 L294.9,381.7 L297.4,382.3 L299.9,382.9 L302.4,383.5 L305.0,384.0 L307.5,384.6 L310.0,385.2 L312.6,385.8 L315.1,386.4 L317.7,387.0 L320.2,387.6 L322.8,388.2 L325.3,388.8 L327.8,389.4 L330.3,389.9 L332.9,390.5 L335.4,391.1 L337.9,391.7 L340.4,392.3 L342.8,392.9 L345.3,393.5 L347.8,394.0 L350.2,394.6 L352.6,395.2 L355.0,395.8 L357.4,396.3 L359.8,396.9 L362.1,397.5 L364.4,398.0 L366.7,398.6 L369.0,399.2 L371.3,399.7 L373.5,400.3 L375.7,400.8 L377.9,401.4 L380.0,401.9 L382.8,402.6 L385.5,403.3 L388.1,404.0 L390.7,404.7 L393.3,405.3 L395.7,406.0 L398.2,406.6 L400.6,407.2 L403.0,407.9 L405.3,408.5 L407.7,409.2 L410.0,409.8 L412.4,410.4 L414.7,411.1 L417.1,411.7 L419.5,412.4 L421.9,413.1 L424.3,413.7 L426.8,414.4 L429.3,415.2 L431.9,415.9 L434.5,416.6 L437.2,417.4 L440.0,418.2 L442.2,418.8 L444.4,419.5 L446.6,420.1 L448.9,420.8 L451.2,421.4 L453.5,422.1 L455.9,422.8 L458.3,423.5 L460.8,424.3 L463.2,425.0 L465.7,425.7 L468.2,426.5 L470.7,427.2 L473.3,428.0 L475.8,428.8 L478.4,429.5 L481.0,430.3 L483.5,431.1 L486.1,431.9 L488.7,432.7 L491.3,433.5 L493.9,434.2 L496.5,435.0 L499.1,435.8 L501.7,436.6 L504.2,437.4 L506.8,438.2 L509.3,438.9 L511.8,439.7 L514.3,440.5 L516.8,441.2 L519.3,442.0 L521.7,442.7 L524.1,443.5 L526.5,444.2 L528.8,444.9 L531.1,445.6 L533.4,446.3 L535.7,447.0 L537.8,447.6 L540.0,448.3 L542.7,449.1 L545.3,449.9 L547.9,450.7 L550.5,451.5 L553.0,452.2 L555.5,453.0 L557.9,453.7 L560.3,454.4 L562.7,455.1 L565.1,455.9 L567.5,456.6 L569.8,457.3 L572.1,458.0 L574.5,458.7 L576.8,459.4 L579.1,460.1 L581.4,460.8 L583.7,461.5 L586.0,462.2 L588.3,462.9 L590.6,463.7 L592.9,464.4 L595.3,465.2 L597.6,465.9 L600.0,466.7 L602.4,467.5 L604.8,468.3 L607.2,469.1 L609.6,469.9 L612.0,470.8 L614.4,471.6 L616.8,472.4 L619.2,473.3 L621.6,474.1 L624.0,475.0 L626.4,475.9 L628.8,476.7 L631.2,477.6 L633.6,478.4 L636.0,479.3 L638.4,480.1 L640.8,481.0 L643.2,481.9 L645.6,482.7 L648.0,483.6 L650.4,484.4 L652.8,485.2 L655.2,486.1 L657.6,486.9 L660.0,487.7 L662.4,488.5 L664.8,489.3 L667.1,490.1 L669.5,490.8 L671.9,491.6 L674.2,492.4 L676.5,493.1 L678.9,493.9 L681.2,494.6 L683.6,495.4 L685.9,496.1 L688.3,496.8 L690.6,497.6 L693.0,498.3 L695.4,499.1 L697.8,499.8 L700.2,500.6 L702.6,501.4 L705.0,502.2 L707.5,503.0 L709.9,503.8 L712.4,504.6 L714.9,505.4 L717.4,506.2 L720.0,507.1 L722.3,507.9 L724.6,508.7 L726.9,509.5 L729.3,510.3 L731.7,511.1 L734.1,511.9 L736.5,512.8 L739.0,513.7 L741.4,514.5 L743.9,515.4 L746.4,516.3 L748.9,517.2 L751.4,518.1 L754.0,519.0 L756.5,519.9 L759.0,520.8 L761.5,521.7 L764.1,522.6 L766.6,523.5 L769.1,524.4 L771.6,525.3 L774.1,526.2 L776.6,527.1 L779.0,527.9 L781.4,528.8 L783.9,529.7 L786.3,530.5 L788.6,531.3 L791.0,532.2 L793.3,533.0 L795.6,533.8 L797.8,534.5 L800.0,535.3 L802.7,536.2 L805.3,537.1 L807.8,538.0 L810.3,538.8 L812.8,539.6 L815.3,540.5 L817.7,541.3 L820.1,542.1 L822.5,542.9 L824.9,543.7 L827.2,544.4 L829.6,545.2 L831.9,546.0 L834.3,546.8 L836.6,547.5 L839.0,548.3 L841.4,549.1 L843.8,549.9 L846.2,550.7 L848.7,551.5 L851.2,552.4 L853.7,553.2 L856.1,554.0 L858.5,554.8 L860.9,555.6 L863.4,556.4 L865.9,557.3 L868.4,558.1 L871.0,559.0 L873.6,559.8 L876.2,560.7 L878.7,561.6 L881.3,562.4 L883.9,563.3 L886.5,564.1 L889.1,565.0 L891.6,565.9 L894.2,566.7 L896.7,567.5 L899.1,568.4 L901.6,569.2 L904.0,570.0 L906.3,570.8 L908.6,571.6 L910.8,572.3 L913.0,573.1 L915.1,573.8 L917.2,574.5 L920.0,575.5 L922.6,576.4 L925.2,577.3 L927.7,578.1 L930.1,579.0 L932.4,579.8 L934.7,580.6 L937.0,581.4 L939.3,582.2 L941.6,583.0 L943.9,583.8 L946.2,584.7 L948.6,585.5 L948.6,586.3 L945.9,586.0 L943.3,585.6 L940.7,585.3 L938.0,584.9 L935.2,584.7 L932.3,584.4 L929.0,584.3 L927.0,584.3 L924.8,584.3 L922.6,584.3 L920.3,584.3 L917.9,584.4 L915.4,584.5 L912.9,584.6 L910.3,584.7 L907.6,584.9 L905.0,585.0 L902.2,585.2 L899.5,585.4 L896.7,585.6 L893.9,585.9 L891.1,586.1 L888.3,586.4 L885.5,586.6 L882.8,586.9 L880.0,587.2 L877.7,587.5 L875.3,587.7 L872.9,588.0 L870.5,588.3 L868.1,588.7 L865.6,589.0 L863.1,589.4 L860.6,589.7 L858.1,590.1 L855.6,590.5 L853.1,590.9 L850.6,591.3 L848.0,591.7 L845.5,592.1 L842.9,592.5 L840.4,593.0 L837.8,593.4 L835.3,593.9 L832.7,594.3 L830.2,594.8 L827.6,595.2 L825.1,595.7 L822.5,596.1 L820.0,596.6 L817.5,597.0 L815.0,597.5 L812.5,598.0 L810.0,598.4 L807.5,598.9 L804.9,599.4 L802.4,599.9 L799.9,600.4 L797.3,600.9 L794.8,601.4 L792.3,601.9 L789.7,602.4 L787.2,603.0 L784.7,603.5 L782.1,604.0 L779.6,604.5 L777.1,605.1 L774.6,605.6 L772.1,606.2 L769.6,606.7 L767.1,607.2 L764.6,607.8 L762.2,608.3 L759.7,608.9 L757.3,609.4 L754.8,609.9 L752.4,610.5 L750.0,611.0 L747.4,611.6 L744.8,612.2 L742.2,612.7 L739.6,613.3 L737.0,613.9 L734.4,614.5 L731.8,615.0 L729.3,615.6 L726.7,616.2 L724.2,616.8 L721.7,617.4 L719.1,618.0 L716.6,618.6 L714.1,619.1 L711.7,619.7 L709.2,620.4 L706.7,621.0 L704.3,621.6 L701.9,622.2 L699.5,622.8 L697.1,623.5 L694.7,624.1 L692.1,624.8 L689.4,625.6 L686.7,626.4 L684.1,627.2 L681.4,628.0 L678.8,628.8 L676.1,629.6 L673.5,630.5 L670.9,631.3 L668.4,632.1 L665.9,632.9 L663.4,633.7 L661.0,634.5 L658.6,635.2 L656.4,636.0 L654.2,636.6 L652.0,637.3 L650.0,637.9 L647.1,638.7 L644.4,639.5 L641.8,640.2 L639.3,640.8 L636.9,641.4 L634.6,642.1 L632.3,642.7 L630.0,643.4 L627.4,644.2 L625.0,645.1 L622.7,645.9 L620.3,646.8 L617.9,647.7 L615.3,648.6 L612.9,649.5 L610.3,650.3 L607.7,651.2 L605.1,652.2 L602.4,653.1 L599.7,654.0 L597.0,655.0 L594.4,655.9 L591.8,656.8 L589.2,657.7 L586.6,658.6 L583.9,659.5 L581.3,660.4 L578.7,661.3 L576.1,662.2 L573.5,663.2 L571.2,664.1 L568.8,664.9 L566.5,665.8 L564.2,666.7 L561.8,667.6 L559.5,668.6 L557.2,669.5 L554.9,670.5 L552.6,671.6 L550.2,672.8 L547.9,674.0 L545.5,675.2 L543.1,676.6 L540.8,677.9 L538.5,679.2 L536.2,680.5 L534.0,681.8 L531.8,683.1 L529.4,684.5 L527.1,685.8 L524.9,687.2 L522.7,688.5 L520.5,689.8 L518.3,691.2 L516.1,692.5 L513.0,694.6 L510.5,693.6 L508.0,692.6 L505.6,691.5 L503.1,690.5 L500.6,689.5 L498.1,688.5 L495.5,687.4 L492.8,686.3 L490.0,685.2 L487.9,684.3 L485.7,683.5 L483.4,682.6 L481.1,681.7 L478.7,680.7 L476.3,679.8 L473.8,678.9 L471.3,677.9 L468.8,676.9 L466.3,676.0 L463.8,675.0 L461.3,674.0 L458.8,673.0 L456.4,672.0 L454.0,671.1 L451.6,670.1 L449.2,669.1 L446.8,668.1 L444.3,667.1 L441.9,666.1 L439.6,665.1 L437.2,664.1 L434.8,663.1 L432.4,662.1 L430.0,661.1 L427.7,660.0 L425.3,659.0 L422.9,658.0 L420.6,657.0 L418.2,655.9 L415.8,654.9 L413.4,653.9 L411.1,652.8 L408.7,651.7 L406.4,650.7 L404.0,649.6 L401.7,648.6 L399.3,647.5 L397.0,646.4 L394.6,645.3 L392.2,644.2 L389.8,643.2 L387.4,642.1 L385.0,641.0 L382.5,639.9 L380.0,638.8 L377.8,637.8 L375.5,636.9 L373.2,635.9 L370.8,635.0 L368.5,634.0 L366.1,633.1 L363.7,632.1 L361.3,631.2 L358.9,630.2 L356.5,629.3 L354.1,628.3 L351.6,627.3 L349.2,626.3 L346.8,625.3 L344.5,624.3 L342.1,623.3 L339.8,622.2 L337.5,621.2 L335.2,620.1 L332.8,618.9 L330.4,617.7 L328.0,616.5 L325.6,615.2 L323.3,613.9 L321.0,612.7 L318.6,611.4 L316.3,610.1 L314.0,608.7 L311.7,607.4 L309.4,606.1 L307.2,604.8 L304.9,603.6 L302.6,602.3 L300.3,601.0 L298.1,599.8 L295.8,598.6 L293.5,597.4 L291.2,596.3 L289.0,595.1 L286.7,594.0 L284.4,592.8 L282.1,591.7 L279.9,590.6 L277.6,589.5 L275.4,588.4 L273.1,587.3 L270.9,586.2 L268.7,585.1 L266.5,584.0 L264.3,582.9 L262.1,581.8 L260.0,580.7 L257.6,579.4 L255.1,578.1 L252.7,576.9 L250.3,575.6 L248.0,574.3 L245.6,573.0 L243.3,571.8 L240.9,570.5 L238.6,569.2 L236.3,567.9 L234.0,566.6 L231.8,565.3 L229.5,564.0 L227.2,562.7 L224.9,561.3 L222.6,560.0 L220.3,558.6 L218.1,557.2 L215.8,555.9 L213.6,554.5 L211.4,553.1 L209.2,551.7 L207.0,550.3 L204.8,548.9 L202.6,547.5 L200.4,546.1 L198.2,544.6 L196.0,543.1 L193.9,541.6 L191.7,540.0 L189.5,538.5 L187.4,537.0 L185.2,535.5 L183.1,533.9 L181.1,532.4 L179.0,531.0 L177.0,529.5 L174.7,527.8 L172.4,526.1 L170.1,524.5 L167.9,522.8 L165.7,521.2 L163.5,519.6 L161.3,517.9 L159.2,516.3 L157.0,514.6 L154.9,513.0 L152.8,511.3 L150.7,509.7 L148.6,508.1 L146.5,506.4 L144.5,504.8 L142.4,503.1 L140.4,501.4 L138.4,499.7 L136.4,498.0 L134.4,496.2 L132.4,494.4 L130.4,492.6 L128.5,490.9 L126.6,489.1 L124.8,487.3 L123.1,485.6 L121.5,484.0 L119.6,481.9 L118.0,479.9 L116.4,478.0 L115.0,476.0 L113.5,474.0 L111.8,471.5 L110.1,469.1 L108.5,466.6 L107.0,464.0 L105.6,461.3 L104.4,458.6 L103.2,455.8 L102.2,453.0 L101.3,450.3 L100.5,447.6 L99.8,444.8 L99.2,442.0 L98.7,439.1 L98.3,436.1 L98.0,433.1 L97.8,430.0 L97.7,427.2 L97.7,424.4 L97.8,421.5 L98.0,418.7 L98.3,415.8 L98.7,413.3 L99.2,410.8 L99.8,408.3 L100.5,405.8 L101.2,403.3 L102.0,401.0 L103.1,398.0 L104.4,395.1 L105.8,392.4 L107.3,389.7 L108.9,387.2 L110.7,384.7 L112.6,382.4 L114.7,380.0 L116.4,378.2 L118.1,376.4 L120.0,374.6 L121.9,372.9 L123.9,371.2 L125.9,369.6 L127.9,368.1 L130.0,366.6 L132.1,365.1 L134.3,363.8 L136.7,362.7 L139.4,361.8 L141.5,361.3 L143.7,361.0 L146.1,360.8 L148.6,360.7 L151.2,360.7 L153.9,360.7 L156.6,360.8 L159.3,361.0 L162.1,361.2 L164.8,361.4 L167.4,361.6 L170.0,361.8 L172.5,362.0 L174.9,362.3 L177.4,362.6 L179.8,363.0 L182.1,363.4 L184.6,363.8 L187.0,364.2 L189.5,364.7 L192.0,365.1 L194.6,365.6 L197.2,366.1 L200.0,366.5 L202.2,366.8 L204.5,367.2 L206.8,367.5 L209.2,367.9 L211.6,368.3 L214.1,368.6 L216.6,369.0 L219.1,369.4 L221.6,369.8 L224.2,370.1 L226.8,370.5 L229.4,370.9 L232.0,371.3 L234.6,371.7 L237.2,372.1 L239.8,372.5 L242.4,372.9 L244.9,373.2 L247.5,373.6 L250.0,374.0 Z" fill="#b59c89"/>
<g clip-path="url(#c1)" opacity="0.9"><g transform="rotate(19 700 600)"><rect x="-200" y="100" width="1900" height="1000" filter="url(#fwood)"/></g></g>
<path d="M498.7,740.0 L497.3,735.3 L497.1,733.4 L497.0,730.9 L496.9,728.2 L496.9,725.3 L497.1,722.3 L497.3,719.4 L497.8,716.7 L498.4,714.4 L499.5,712.0 L500.8,709.9 L502.4,707.9 L504.0,706.0 L505.7,704.0 L507.2,702.1 L508.8,700.1 L510.5,698.1 L512.3,696.1 L514.1,694.3 L516.1,692.5 L518.1,691.0 L520.2,689.6 L522.4,688.3 L524.7,687.0 L527.0,685.7 L529.4,684.4 L531.8,683.1 L534.0,681.8 L536.2,680.5 L538.5,679.2 L540.8,677.9 L543.1,676.6 L545.5,675.2 L547.9,674.0 L550.2,672.8 L552.6,671.6 L554.9,670.5 L557.2,669.5 L559.5,668.6 L561.8,667.6 L564.2,666.7 L566.5,665.8 L568.8,664.9 L571.2,664.1 L573.5,663.2 L576.1,662.2 L578.7,661.3 L581.3,660.4 L583.9,659.5 L586.6,658.6 L589.2,657.7 L591.8,656.8 L594.4,655.9 L597.0,655.0 L599.7,654.0 L602.4,653.1 L605.1,652.2 L607.7,651.2 L610.3,650.3 L612.9,649.5 L615.3,648.6 L617.9,647.7 L620.3,646.8 L622.7,645.9 L625.0,645.1 L627.4,644.2 L630.0,643.4 L632.3,642.7 L634.6,642.1 L636.9,641.4 L639.3,640.8 L641.8,640.2 L644.4,639.5 L647.1,638.7 L650.0,637.9 L652.0,637.3 L654.2,636.6 L656.4,636.0 L658.6,635.2 L661.0,634.5 L663.4,633.7 L665.9,632.9 L668.4,632.1 L670.9,631.3 L673.5,630.5 L676.1,629.6 L678.8,628.8 L681.4,628.0 L684.1,627.2 L686.7,626.4 L689.4,625.6 L692.1,624.8 L694.7,624.1 L697.1,623.5 L699.5,622.8 L701.9,622.2 L704.3,621.6 L706.7,621.0 L709.2,620.4 L711.7,619.7 L714.1,619.1 L716.6,618.6 L719.1,618.0 L721.7,617.4 L724.2,616.8 L726.7,616.2 L729.3,615.6 L731.8,615.0 L734.4,614.5 L737.0,613.9 L739.6,613.3 L742.2,612.7 L744.8,612.2 L747.4,611.6 L750.0,611.0 L752.4,610.5 L754.8,609.9 L757.3,609.4 L759.7,608.9 L762.2,608.3 L764.6,607.8 L767.1,607.2 L769.6,606.7 L772.1,606.2 L774.6,605.6 L777.1,605.1 L779.6,604.5 L782.1,604.0 L784.7,603.5 L787.2,603.0 L789.7,602.4 L792.3,601.9 L794.8,601.4 L797.3,600.9 L799.9,600.4 L802.4,599.9 L804.9,599.4 L807.5,598.9 L810.0,598.4 L812.5,598.0 L815.0,597.5 L817.5,597.0 L820.0,596.6 L822.5,596.1 L825.1,595.7 L827.6,595.2 L830.2,594.8 L832.7,594.3 L835.3,593.9 L837.8,593.4 L840.4,593.0 L842.9,592.5 L845.5,592.1 L848.0,591.7 L850.6,591.3 L853.1,590.9 L855.6,590.5 L858.1,590.1 L860.6,589.7 L863.1,589.4 L865.6,589.0 L868.1,588.7 L870.5,588.3 L872.9,588.0 L875.3,587.7 L877.7,587.5 L880.0,587.2 L882.8,586.9 L885.5,586.6 L888.3,586.4 L891.1,586.1 L893.9,585.9 L896.7,585.6 L899.5,585.4 L902.2,585.2 L905.0,585.0 L907.6,584.9 L910.3,584.7 L912.9,584.6 L915.4,584.5 L917.9,584.4 L920.3,584.3 L922.6,584.3 L924.8,584.3 L927.0,584.3 L929.0,584.3 L932.3,584.4 L935.2,584.7 L938.0,584.9 L940.7,585.3 L943.3,585.6 L945.9,586.0 L948.6,586.3 L1017.2,607.5 L1019.7,608.4 L1022.1,609.2 L1024.7,610.1 L1027.2,611.0 L1029.7,611.9 L1032.2,612.8 L1034.8,613.6 L1037.3,614.5 L1039.9,615.4 L1042.5,616.3 L1045.0,617.2 L1047.5,618.1 L1050.0,619.0 L1052.6,619.8 L1055.0,620.7 L1057.5,621.6 L1059.9,622.4 L1062.3,623.3 L1064.7,624.1 L1067.1,624.9 L1069.4,625.7 L1071.6,626.5 L1073.8,627.3 L1076.0,628.1 L1078.6,629.0 L1081.2,630.0 L1083.7,630.8 L1086.1,631.7 L1088.4,632.6 L1090.8,633.4 L1093.1,634.3 L1095.4,635.1 L1097.6,635.9 L1099.9,636.8 L1102.2,637.6 L1104.5,638.4 L1106.8,639.3 L1109.1,640.1 L1111.5,641.0 L1113.9,641.9 L1116.3,642.8 L1118.8,643.7 L1121.3,644.6 L1123.8,645.5 L1126.4,646.4 L1128.9,647.3 L1131.4,648.3 L1133.9,649.2 L1136.4,650.1 L1138.8,650.9 L1141.2,651.8 L1143.5,652.7 L1145.8,653.5 L1147.9,654.3 L1150.0,655.0 L1152.8,656.0 L1155.4,657.0 L1157.9,657.9 L1160.3,658.7 L1162.7,659.6 L1165.0,660.4 L1167.5,661.3 L1170.0,662.2 L1172.5,663.1 L1175.1,664.0 L1177.6,664.9 L1180.2,665.9 L1182.8,666.8 L1185.5,667.7 L1188.1,668.7 L1190.8,669.6 L1193.5,670.6 L1195.9,671.5 L1198.4,672.4 L1201.0,673.3 L1203.5,674.2 L1206.1,675.2 L1208.7,676.1 L1211.2,677.0 L1213.7,677.9 L1216.1,678.8 L1218.4,679.6 L1220.5,680.4 L1223.5,681.5 L1226.1,682.4 L1228.7,683.3 L1231.4,684.3 L1234.6,685.5 L1236.5,686.2 L1238.6,686.9 L1240.8,687.7 L1243.1,688.5 L1245.5,689.4 L1248.0,690.3 L1250.6,691.2 L1253.2,692.2 L1255.8,693.1 L1258.4,694.1 L1261.1,695.0 L1263.7,696.0 L1266.2,697.0 L1268.7,697.9 L1271.1,698.9 L1273.4,699.8 L1276.1,700.9 L1278.8,702.0 L1281.5,703.1 L1284.2,704.3 L1286.8,705.4 L1289.4,706.6 L1292.0,707.7 L1294.4,708.8 L1296.7,709.9 L1298.9,710.9 L1301.0,711.9 L1302.8,712.9 L1305.7,714.4 L1308.2,715.8 L1310.4,717.2 L1312.2,718.8 L1313.8,720.9 L1315.0,723.3 L1315.8,725.8 L1316.4,728.8 L1316.6,732.0 L1316.4,735.2 L1315.8,738.4 L1314.9,741.6 L1313.4,744.6 L1311.7,746.8 L1309.6,748.9 L1307.4,750.9 L1305.2,752.9 L1305.2,752.9 L1307.6,753.7 L1310.0,754.5 L1312.4,755.2 L1314.8,756.0 L1317.2,756.8 L1319.6,757.6 L1322.0,758.4 L1324.6,759.2 L1327.2,760.1 L1330.0,761.1 L1332.1,761.8 L1334.2,762.6 L1336.4,763.4 L1338.6,764.3 L1340.9,765.1 L1343.2,766.0 L1345.6,766.9 L1348.0,767.8 L1350.4,768.8 L1352.9,769.7 L1355.3,770.7 L1357.8,771.6 L1360.3,772.6 L1362.8,773.5 L1365.2,774.5 L1367.7,775.4 L1370.2,776.3 L1372.6,777.1 L1375.0,778.0 L1377.4,778.8 L1379.8,779.7 L1382.2,780.5 L1384.6,781.3 L1387.0,782.1 L1389.5,782.9 L1391.9,783.7 L1394.3,784.5 L1396.7,785.2 L1399.2,786.0 L1401.6,786.8 L1404.0,787.6 L1406.4,788.3 L1408.9,789.1 L1411.3,789.9 L1413.7,790.7 L1416.2,791.4 L1418.6,792.2 L1421.0,793.0 L1421.0,794.0 L1285.0,835.0 L1200.0,860.0 L1100.0,885.0 L1015.0,909.0 L1015.0,909.0 L1012.5,908.1 L1010.1,907.2 L1007.6,906.3 L1005.2,905.4 L1002.7,904.5 L1000.2,903.5 L997.8,902.6 L995.3,901.7 L992.9,900.8 L990.4,899.9 L987.9,899.0 L985.5,898.1 L983.0,897.3 L980.5,896.4 L978.1,895.6 L975.6,894.8 L973.2,894.0 L970.8,893.3 L968.4,892.6 L966.0,891.9 L963.6,891.2 L961.3,890.6 L958.9,889.9 L956.5,889.3 L954.1,888.6 L951.7,888.0 L949.3,887.4 L946.8,886.7 L944.3,886.0 L941.7,885.4 L939.1,884.7 L936.4,884.0 L934.2,883.4 L931.9,882.8 L929.6,882.3 L927.3,881.7 L924.9,881.1 L922.5,880.5 L920.1,879.9 L917.7,879.3 L915.2,878.7 L912.7,878.1 L910.2,877.5 L907.7,876.9 L905.2,876.3 L902.7,875.7 L900.2,875.1 L897.6,874.5 L895.1,873.8 L892.6,873.2 L890.0,872.6 L887.5,871.9 L885.0,871.3 L882.5,870.6 L880.1,870.0 L877.6,869.3 L875.1,868.6 L872.7,867.9 L870.2,867.2 L867.8,866.5 L865.3,865.8 L862.9,865.1 L860.4,864.4 L858.0,863.6 L855.5,862.9 L853.1,862.2 L850.6,861.4 L848.2,860.7 L845.7,859.9 L843.3,859.2 L840.8,858.4 L838.4,857.7 L835.9,856.9 L833.5,856.2 L831.0,855.4 L828.6,854.7 L826.1,853.9 L823.7,853.2 L821.2,852.4 L818.8,851.7 L816.4,851.0 L813.9,850.2 L811.5,849.5 L809.0,848.8 L806.6,848.0 L804.1,847.3 L801.7,846.6 L799.2,845.8 L796.8,845.1 L794.3,844.4 L791.9,843.7 L789.4,842.9 L787.0,842.2 L784.5,841.5 L782.1,840.7 L779.6,840.0 L777.2,839.2 L774.7,838.5 L772.3,837.8 L769.8,837.0 L767.4,836.3 L764.9,835.5 L762.5,834.8 L760.0,834.0 L757.6,833.3 L755.2,832.5 L752.8,831.8 L750.3,831.0 L747.9,830.3 L745.5,829.5 L743.0,828.8 L740.6,828.0 L738.1,827.2 L735.7,826.5 L733.2,825.7 L730.8,824.9 L728.4,824.2 L725.9,823.4 L723.5,822.6 L721.1,821.9 L718.7,821.1 L716.3,820.3 L713.9,819.6 L711.5,818.8 L709.2,818.0 L706.9,817.3 L704.6,816.5 L702.3,815.8 L700.0,815.0 L697.5,814.1 L695.0,813.3 L692.5,812.4 L690.1,811.6 L687.6,810.7 L685.2,809.9 L682.8,809.0 L680.4,808.2 L678.0,807.3 L675.7,806.5 L673.3,805.6 L671.0,804.8 L668.6,803.9 L666.3,803.1 L664.0,802.2 L661.7,801.4 L659.4,800.5 L657.0,799.7 L654.7,798.8 L652.4,798.0 L649.9,797.1 L647.5,796.2 L645.0,795.3 L642.6,794.4 L640.2,793.5 L637.7,792.6 L635.3,791.7 L632.9,790.8 L630.5,789.9 L628.1,789.0 L625.7,788.1 L623.3,787.2 L620.9,786.3 L618.6,785.4 L616.2,784.5 L613.9,783.7 L611.6,782.8 L609.3,782.0 L606.8,781.1 L604.3,780.2 L601.9,779.4 L599.5,778.5 L597.0,777.7 L594.6,776.8 L592.2,776.0 L589.9,775.2 L587.5,774.4 L585.1,773.5 L582.8,772.7 L580.4,771.8 L578.1,771.0 L575.7,770.1 L573.4,769.2 L571.0,768.2 L568.6,767.3 L566.2,766.3 L563.9,765.3 L561.5,764.2 L559.2,763.2 L556.8,762.2 L554.5,761.1 L552.2,760.1 L549.8,759.1 L547.4,758.0 L545.0,757.0 L542.5,756.0 L540.0,755.0 L537.7,754.1 L535.4,753.2 L533.0,752.3 L530.6,751.4 L528.2,750.5 L525.8,749.7 L523.3,748.8 L520.9,747.9 L518.4,747.0 L515.9,746.1 L513.5,745.3 L511.0,744.4 L508.5,743.5 L506.0,742.6 L503.6,741.8 L501.1,740.9 L498.7,740.0 Z" fill="url(#pug1)"/>
<g clip-path="url(#c2)" opacity="0.22"><g transform="rotate(19 700 600)"><rect x="-200" y="100" width="1900" height="1000" filter="url(#fwood)"/></g></g>
<path d="M534.6,754.0 L533.8,750.0 L533.7,747.7 L533.7,744.8 L533.9,741.6 L534.3,738.4 L534.9,735.3 L535.7,732.6 L536.7,729.9 L537.9,727.3 L539.3,724.6 L540.7,722.0 L542.2,719.6 L543.7,717.3 L545.3,715.2 L547.0,713.1 L548.7,711.0 L550.6,709.0 L552.6,707.1 L554.6,705.3 L556.6,703.6 L558.7,702.0 L561.0,700.3 L563.3,698.7 L565.7,697.2 L568.3,695.6 L570.4,694.4 L572.5,693.2 L574.7,692.0 L577.0,690.9 L579.4,689.7 L581.8,688.6 L584.2,687.5 L586.7,686.4 L589.3,685.3 L591.8,684.2 L594.4,683.1 L596.6,682.2 L598.8,681.3 L601.1,680.3 L603.4,679.4 L605.8,678.5 L608.1,677.6 L610.5,676.7 L613.0,675.8 L615.4,675.0 L617.8,674.1 L620.3,673.2 L622.7,672.4 L625.2,671.6 L627.6,670.8 L630.0,670.0 L632.4,669.2 L634.8,668.5 L637.3,667.8 L639.7,667.1 L642.2,666.4 L644.6,665.8 L647.1,665.1 L649.5,664.5 L652.0,663.8 L654.4,663.2 L656.9,662.6 L659.4,661.9 L661.8,661.3 L664.3,660.7 L666.8,660.0 L669.3,659.3 L671.7,658.7 L674.1,658.1 L676.4,657.4 L678.7,656.8 L681.1,656.2 L683.4,655.6 L685.8,655.0 L688.3,654.3 L690.8,653.7 L693.4,653.0 L696.1,652.3 L698.9,651.6 L701.9,650.8 L705.0,650.0 L706.8,649.5 L708.8,649.0 L710.7,648.5 L712.8,648.0 L714.9,647.4 L717.0,646.9 L719.2,646.3 L721.5,645.7 L723.8,645.1 L726.2,644.5 L728.6,643.9 L731.0,643.3 L733.5,642.7 L736.0,642.0 L738.5,641.4 L741.1,640.7 L743.7,640.0 L746.3,639.4 L748.9,638.7 L751.6,638.0 L754.2,637.3 L756.9,636.6 L759.6,635.9 L762.3,635.3 L764.9,634.6 L767.6,633.9 L770.3,633.2 L773.0,632.5 L775.7,631.8 L778.3,631.2 L781.0,630.5 L783.6,629.8 L786.2,629.2 L788.8,628.5 L791.4,627.9 L793.9,627.2 L796.4,626.6 L798.9,626.0 L801.3,625.4 L803.7,624.8 L806.1,624.2 L808.4,623.6 L810.6,623.1 L812.8,622.5 L815.0,622.0 L817.8,621.3 L820.6,620.6 L823.3,619.9 L826.0,619.3 L828.6,618.6 L831.2,617.9 L833.8,617.3 L836.3,616.6 L838.8,616.0 L841.3,615.3 L843.8,614.7 L846.3,614.1 L848.7,613.5 L851.1,612.9 L853.5,612.3 L856.0,611.7 L858.3,611.2 L860.7,610.6 L863.1,610.1 L865.5,609.6 L867.9,609.1 L870.3,608.6 L872.7,608.1 L875.1,607.6 L877.6,607.2 L880.0,606.8 L882.6,606.4 L885.2,606.0 L887.8,605.6 L890.4,605.2 L892.9,604.8 L895.5,604.5 L898.1,604.1 L900.6,603.8 L903.2,603.5 L905.7,603.2 L908.3,602.9 L910.8,602.7 L913.4,602.4 L915.9,602.2 L918.4,602.0 L921.0,601.8 L923.5,601.6 L926.1,601.5 L928.6,601.3 L931.1,601.2 L933.7,601.1 L936.2,601.1 L938.8,601.0 L941.4,601.0 L944.0,601.0 L946.7,601.0 L949.4,601.1 L952.2,601.1 L954.9,601.2 L957.7,601.4 L960.5,601.5 L963.3,601.7 L966.1,601.8 L968.8,602.0 L971.5,602.2 L974.2,602.4 L976.9,602.7 L979.5,602.9 L982.0,603.1 L984.5,603.4 L986.9,603.6 L989.3,603.9 L991.5,604.1 L993.6,604.4 L995.7,604.7 L997.6,604.9 L1001.0,605.4 L1004.0,605.9 L1006.8,606.5 L1009.4,607.1 L1011.9,607.7 L1014.5,608.2 L1017.2,608.8 L1076.0,628.1 L1078.4,629.0 L1080.7,629.8 L1083.1,630.7 L1085.4,631.5 L1087.8,632.4 L1090.1,633.2 L1092.5,634.1 L1094.8,634.9 L1097.2,635.8 L1099.6,636.7 L1101.9,637.5 L1104.3,638.4 L1106.7,639.3 L1109.1,640.1 L1111.5,641.0 L1113.9,641.9 L1116.3,642.8 L1118.8,643.7 L1121.3,644.6 L1123.8,645.5 L1126.4,646.4 L1128.9,647.3 L1131.4,648.3 L1133.9,649.2 L1136.4,650.1 L1138.8,650.9 L1141.2,651.8 L1143.5,652.7 L1145.8,653.5 L1147.9,654.3 L1150.0,655.0 L1152.8,656.0 L1155.4,657.0 L1157.9,657.9 L1160.3,658.7 L1162.7,659.6 L1165.0,660.4 L1167.5,661.3 L1170.0,662.2 L1172.5,663.1 L1175.1,664.0 L1177.6,664.9 L1180.2,665.9 L1182.8,666.8 L1185.5,667.7 L1188.1,668.7 L1190.8,669.6 L1193.5,670.6 L1195.9,671.5 L1198.4,672.4 L1201.0,673.3 L1203.5,674.2 L1206.1,675.2 L1208.7,676.1 L1211.2,677.0 L1213.7,677.9 L1216.1,678.8 L1218.4,679.6 L1220.5,680.4 L1223.5,681.5 L1226.1,682.4 L1228.7,683.3 L1231.4,684.3 L1234.6,685.5 L1236.5,686.2 L1238.6,686.9 L1240.8,687.7 L1243.1,688.5 L1245.5,689.4 L1248.0,690.3 L1250.6,691.2 L1253.2,692.2 L1255.8,693.1 L1258.4,694.1 L1261.1,695.0 L1263.7,696.0 L1266.2,697.0 L1268.7,697.9 L1271.1,698.9 L1273.4,699.8 L1276.1,700.9 L1278.8,702.0 L1281.5,703.1 L1284.2,704.3 L1286.8,705.4 L1289.4,706.6 L1292.0,707.7 L1294.4,708.8 L1296.7,709.9 L1298.9,710.9 L1301.0,711.9 L1302.8,712.9 L1305.7,714.4 L1308.2,715.8 L1310.4,717.2 L1312.2,718.8 L1313.8,720.9 L1315.0,723.3 L1315.8,725.8 L1316.4,728.8 L1316.6,732.0 L1316.4,735.2 L1315.8,738.4 L1314.9,741.6 L1313.4,744.6 L1311.7,746.8 L1309.6,748.9 L1307.4,750.9 L1305.2,752.9 L1305.2,752.9 L1307.6,753.7 L1310.0,754.5 L1312.4,755.2 L1314.8,756.0 L1317.2,756.8 L1319.6,757.6 L1322.0,758.4 L1324.6,759.2 L1327.2,760.1 L1330.0,761.1 L1332.1,761.8 L1334.2,762.6 L1336.4,763.4 L1338.6,764.3 L1340.9,765.1 L1343.2,766.0 L1345.6,766.9 L1348.0,767.8 L1350.4,768.8 L1352.9,769.7 L1355.3,770.7 L1357.8,771.6 L1360.3,772.6 L1362.8,773.5 L1365.2,774.5 L1367.7,775.4 L1370.2,776.3 L1372.6,777.1 L1375.0,778.0 L1377.4,778.8 L1379.8,779.7 L1382.2,780.5 L1384.6,781.3 L1387.0,782.1 L1389.5,782.9 L1391.9,783.7 L1394.3,784.5 L1396.7,785.2 L1399.2,786.0 L1401.6,786.8 L1404.0,787.6 L1406.4,788.3 L1408.9,789.1 L1411.3,789.9 L1413.7,790.7 L1416.2,791.4 L1418.6,792.2 L1421.0,793.0 L1421.0,794.0 L1285.0,835.0 L1200.0,860.0 L1100.0,885.0 L1015.0,909.0 L1015.0,909.0 L1012.5,908.1 L1010.1,907.2 L1007.6,906.3 L1005.2,905.4 L1002.7,904.5 L1000.2,903.5 L997.8,902.6 L995.3,901.7 L992.9,900.8 L990.4,899.9 L987.9,899.0 L985.5,898.1 L983.0,897.3 L980.5,896.4 L978.1,895.6 L975.6,894.8 L973.2,894.0 L970.8,893.3 L968.4,892.6 L966.0,891.9 L963.6,891.2 L961.3,890.6 L958.9,889.9 L956.5,889.3 L954.1,888.6 L951.7,888.0 L949.3,887.4 L946.8,886.7 L944.3,886.0 L941.7,885.4 L939.1,884.7 L936.4,884.0 L934.2,883.4 L931.9,882.8 L929.6,882.3 L927.3,881.7 L924.9,881.1 L922.5,880.5 L920.1,879.9 L917.7,879.3 L915.2,878.7 L912.7,878.1 L910.2,877.5 L907.7,876.9 L905.2,876.3 L902.7,875.7 L900.2,875.1 L897.6,874.5 L895.1,873.8 L892.6,873.2 L890.0,872.6 L887.5,871.9 L885.0,871.3 L882.5,870.6 L880.1,870.0 L877.6,869.3 L875.1,868.6 L872.7,867.9 L870.2,867.2 L867.8,866.5 L865.3,865.8 L862.9,865.1 L860.4,864.4 L858.0,863.6 L855.5,862.9 L853.1,862.2 L850.6,861.4 L848.2,860.7 L845.7,859.9 L843.3,859.2 L840.8,858.4 L838.4,857.7 L835.9,856.9 L833.5,856.2 L831.0,855.4 L828.6,854.7 L826.1,853.9 L823.7,853.2 L821.2,852.4 L818.8,851.7 L816.4,851.0 L813.9,850.2 L811.5,849.5 L809.0,848.8 L806.6,848.0 L804.1,847.3 L801.7,846.6 L799.2,845.8 L796.8,845.1 L794.3,844.4 L791.9,843.7 L789.4,842.9 L787.0,842.2 L784.5,841.5 L782.1,840.7 L779.6,840.0 L777.2,839.2 L774.7,838.5 L772.3,837.8 L769.8,837.0 L767.4,836.3 L764.9,835.5 L762.5,834.8 L760.0,834.0 L757.6,833.3 L755.2,832.5 L752.8,831.8 L750.3,831.0 L747.9,830.3 L745.5,829.5 L743.0,828.8 L740.6,828.0 L738.1,827.2 L735.7,826.5 L733.2,825.7 L730.8,824.9 L728.4,824.2 L725.9,823.4 L723.5,822.6 L721.1,821.9 L718.7,821.1 L716.3,820.3 L713.9,819.6 L711.5,818.8 L709.2,818.0 L706.9,817.3 L704.6,816.5 L702.3,815.8 L700.0,815.0 L697.5,814.1 L695.0,813.3 L692.5,812.4 L690.1,811.6 L687.6,810.7 L685.2,809.9 L682.8,809.0 L680.4,808.2 L678.0,807.3 L675.7,806.5 L673.3,805.6 L671.0,804.8 L668.6,803.9 L666.3,803.1 L664.0,802.2 L661.7,801.4 L659.4,800.5 L657.0,799.7 L654.7,798.8 L652.4,798.0 L649.9,797.1 L647.5,796.2 L645.0,795.3 L642.6,794.4 L640.2,793.5 L637.7,792.6 L635.3,791.7 L632.9,790.8 L630.5,789.9 L628.1,789.0 L625.7,788.1 L623.3,787.2 L620.9,786.3 L618.6,785.4 L616.2,784.5 L613.9,783.7 L611.6,782.8 L609.3,782.0 L606.8,781.1 L604.3,780.2 L601.9,779.4 L599.5,778.5 L597.0,777.7 L594.6,776.8 L592.2,776.0 L589.9,775.2 L587.5,774.4 L585.1,773.5 L582.8,772.7 L580.4,771.8 L578.1,771.0 L575.7,770.1 L573.4,769.2 L570.9,768.2 L568.3,767.1 L565.6,766.0 L562.9,764.8 L560.2,763.6 L557.5,762.4 L554.8,761.2 L552.3,760.0 L549.8,758.9 L547.4,757.9 L545.3,757.0 L543.3,756.2 L541.5,755.5 L540.0,755.0 L537.0,754.3 L534.6,754.0 Z" fill="url(#epg1)"/>
<g clip-path="url(#c3)" opacity="0.2"><g transform="rotate(19 700 600)"><rect x="-200" y="100" width="1900" height="1000" filter="url(#fwood)"/></g></g>
<path d="M573.4,769.2 L573.4,766.4 L573.3,763.6 L573.3,760.8 L573.2,758.0 L573.2,755.3 L573.3,752.6 L573.5,750.0 L573.8,747.4 L574.2,744.9 L574.6,742.4 L575.1,740.0 L575.8,737.6 L576.6,735.3 L577.7,732.6 L578.9,730.1 L580.3,727.6 L582.0,725.1 L584.0,722.7 L585.6,721.1 L587.3,719.4 L589.2,717.8 L591.2,716.2 L593.4,714.5 L595.6,713.0 L597.9,711.4 L600.2,709.9 L602.5,708.5 L604.8,707.1 L606.9,705.9 L609.0,704.7 L611.0,703.7 L613.1,702.6 L615.2,701.7 L617.4,700.7 L619.7,699.7 L622.1,698.7 L624.5,697.7 L627.2,696.7 L630.0,695.6 L631.8,694.9 L633.8,694.2 L635.8,693.4 L637.9,692.7 L640.1,691.9 L642.3,691.1 L644.6,690.4 L646.9,689.6 L649.3,688.8 L651.8,688.0 L654.3,687.1 L656.8,686.3 L659.4,685.5 L662.0,684.7 L664.6,683.9 L667.2,683.0 L669.8,682.2 L672.4,681.4 L675.1,680.6 L677.7,679.8 L680.3,679.0 L682.9,678.2 L685.4,677.4 L688.0,676.6 L690.5,675.9 L692.9,675.1 L695.3,674.4 L697.7,673.7 L700.0,673.0 L702.6,672.2 L705.2,671.4 L707.8,670.7 L710.4,669.9 L712.9,669.2 L715.4,668.5 L717.9,667.8 L720.4,667.1 L722.8,666.4 L725.3,665.7 L727.7,665.1 L730.2,664.4 L732.6,663.7 L735.1,663.1 L737.5,662.4 L740.0,661.7 L742.5,661.0 L744.9,660.3 L747.4,659.6 L749.9,658.9 L752.5,658.2 L755.0,657.5 L757.4,656.8 L759.7,656.1 L762.1,655.5 L764.4,654.8 L766.8,654.1 L769.2,653.4 L771.5,652.7 L773.9,652.0 L776.3,651.3 L778.7,650.6 L781.1,649.9 L783.5,649.1 L785.9,648.4 L788.3,647.7 L790.7,647.0 L793.1,646.3 L795.5,645.6 L797.9,644.9 L800.4,644.2 L802.8,643.5 L805.2,642.8 L807.7,642.1 L810.1,641.4 L812.6,640.7 L815.0,640.0 L817.5,639.3 L819.9,638.6 L822.4,637.9 L824.9,637.2 L827.4,636.5 L829.9,635.7 L832.4,635.0 L834.9,634.3 L837.4,633.5 L839.9,632.8 L842.4,632.1 L845.0,631.3 L847.5,630.6 L850.0,629.9 L852.5,629.2 L855.1,628.5 L857.6,627.8 L860.1,627.2 L862.6,626.5 L865.1,625.9 L867.6,625.3 L870.1,624.7 L872.6,624.1 L875.1,623.5 L877.5,623.0 L880.0,622.5 L882.6,622.0 L885.2,621.5 L887.8,621.1 L890.4,620.6 L892.9,620.2 L895.5,619.8 L898.1,619.4 L900.6,619.1 L903.2,618.8 L905.7,618.4 L908.3,618.1 L910.8,617.8 L913.3,617.5 L915.9,617.2 L918.4,616.9 L921.0,616.7 L923.5,616.4 L926.0,616.1 L928.6,615.8 L931.1,615.6 L933.7,615.3 L936.2,615.0 L938.8,614.7 L941.4,614.4 L944.0,614.1 L946.6,613.7 L949.2,613.4 L951.8,613.0 L954.4,612.7 L957.1,612.3 L959.7,611.9 L962.4,611.6 L965.0,611.2 L967.6,610.9 L970.3,610.6 L972.9,610.3 L975.5,610.0 L978.0,609.7 L980.6,609.5 L983.1,609.3 L985.6,609.1 L988.1,608.9 L990.5,608.8 L992.9,608.8 L995.3,608.8 L997.6,608.8 L1000.4,608.9 L1003.2,609.1 L1006.0,609.4 L1008.6,609.7 L1011.3,610.1 L1013.9,610.5 L1016.4,610.9 L1019.0,611.4 L1021.5,611.9 L1024.0,612.4 L1026.6,612.9 L1029.1,613.4 L1031.6,613.8 L1034.2,614.3 L1036.8,614.7 L1076.0,628.1 L1078.4,629.0 L1080.7,629.8 L1083.1,630.7 L1085.4,631.5 L1087.8,632.4 L1090.1,633.2 L1092.5,634.1 L1094.8,634.9 L1097.2,635.8 L1099.6,636.7 L1101.9,637.5 L1104.3,638.4 L1106.7,639.3 L1109.1,640.1 L1111.5,641.0 L1113.9,641.9 L1116.3,642.8 L1118.8,643.7 L1121.3,644.6 L1123.8,645.5 L1126.4,646.4 L1128.9,647.3 L1131.4,648.3 L1133.9,649.2 L1136.4,650.1 L1138.8,650.9 L1141.2,651.8 L1143.5,652.7 L1145.8,653.5 L1147.9,654.3 L1150.0,655.0 L1152.8,656.0 L1155.4,657.0 L1157.9,657.9 L1160.3,658.7 L1162.7,659.6 L1165.0,660.4 L1167.5,661.3 L1170.0,662.2 L1172.5,663.1 L1175.1,664.0 L1177.6,664.9 L1180.2,665.9 L1182.8,666.8 L1185.5,667.7 L1188.1,668.7 L1190.8,669.6 L1193.5,670.6 L1195.9,671.5 L1198.4,672.4 L1201.0,673.3 L1203.5,674.2 L1206.1,675.2 L1208.7,676.1 L1211.2,677.0 L1213.7,677.9 L1216.1,678.8 L1218.4,679.6 L1220.5,680.4 L1223.5,681.5 L1226.1,682.4 L1228.7,683.3 L1231.4,684.3 L1234.6,685.5 L1236.5,686.2 L1238.6,686.9 L1240.8,687.7 L1243.1,688.5 L1245.5,689.4 L1248.0,690.3 L1250.6,691.2 L1253.2,692.2 L1255.8,693.1 L1258.4,694.1 L1261.1,695.0 L1263.7,696.0 L1266.2,697.0 L1268.7,697.9 L1271.1,698.9 L1273.4,699.8 L1276.1,700.9 L1278.8,702.0 L1281.5,703.1 L1284.2,704.3 L1286.8,705.4 L1289.4,706.6 L1292.0,707.7 L1294.4,708.8 L1296.7,709.9 L1298.9,710.9 L1301.0,711.9 L1302.8,712.9 L1305.7,714.4 L1308.2,715.8 L1310.4,717.2 L1312.2,718.8 L1313.8,720.9 L1315.0,723.3 L1315.8,725.8 L1316.4,728.8 L1316.6,732.0 L1316.4,735.2 L1315.8,738.4 L1314.9,741.6 L1313.4,744.6 L1311.7,746.8 L1309.6,748.9 L1307.4,750.9 L1305.2,752.9 L1305.2,752.9 L1307.6,753.7 L1310.0,754.5 L1312.4,755.2 L1314.8,756.0 L1317.2,756.8 L1319.6,757.6 L1322.0,758.4 L1324.6,759.2 L1327.2,760.1 L1330.0,761.1 L1332.1,761.8 L1334.2,762.6 L1336.4,763.4 L1338.6,764.3 L1340.9,765.1 L1343.2,766.0 L1345.6,766.9 L1348.0,767.8 L1350.4,768.8 L1352.9,769.7 L1355.3,770.7 L1357.8,771.6 L1360.3,772.6 L1362.8,773.5 L1365.2,774.5 L1367.7,775.4 L1370.2,776.3 L1372.6,777.1 L1375.0,778.0 L1377.4,778.8 L1379.8,779.7 L1382.2,780.5 L1384.6,781.3 L1387.0,782.1 L1389.5,782.9 L1391.9,783.7 L1394.3,784.5 L1396.7,785.2 L1399.2,786.0 L1401.6,786.8 L1404.0,787.6 L1406.4,788.3 L1408.9,789.1 L1411.3,789.9 L1413.7,790.7 L1416.2,791.4 L1418.6,792.2 L1421.0,793.0 L1421.0,794.0 L1285.0,835.0 L1200.0,860.0 L1100.0,885.0 L1015.0,909.0 L1015.0,909.0 L1012.5,908.1 L1010.1,907.2 L1007.6,906.3 L1005.2,905.4 L1002.7,904.5 L1000.2,903.5 L997.8,902.6 L995.3,901.7 L992.9,900.8 L990.4,899.9 L987.9,899.0 L985.5,898.1 L983.0,897.3 L980.5,896.4 L978.1,895.6 L975.6,894.8 L973.2,894.0 L970.8,893.3 L968.4,892.6 L966.0,891.9 L963.6,891.2 L961.3,890.6 L958.9,889.9 L956.5,889.3 L954.1,888.6 L951.7,888.0 L949.3,887.4 L946.8,886.7 L944.3,886.0 L941.7,885.4 L939.1,884.7 L936.4,884.0 L934.2,883.4 L931.9,882.8 L929.6,882.3 L927.3,881.7 L924.9,881.1 L922.5,880.5 L920.1,879.9 L917.7,879.3 L915.2,878.7 L912.7,878.1 L910.2,877.5 L907.7,876.9 L905.2,876.3 L902.7,875.7 L900.2,875.1 L897.6,874.5 L895.1,873.8 L892.6,873.2 L890.0,872.6 L887.5,871.9 L885.0,871.3 L882.5,870.6 L880.1,870.0 L877.6,869.3 L875.1,868.6 L872.7,867.9 L870.2,867.2 L867.8,866.5 L865.3,865.8 L862.9,865.1 L860.4,864.4 L858.0,863.6 L855.5,862.9 L853.1,862.2 L850.6,861.4 L848.2,860.7 L845.7,859.9 L843.3,859.2 L840.8,858.4 L838.4,857.7 L835.9,856.9 L833.5,856.2 L831.0,855.4 L828.6,854.7 L826.1,853.9 L823.7,853.2 L821.2,852.4 L818.8,851.7 L816.4,851.0 L813.9,850.2 L811.5,849.5 L809.0,848.8 L806.6,848.0 L804.1,847.3 L801.7,846.6 L799.2,845.8 L796.8,845.1 L794.3,844.4 L791.9,843.7 L789.4,842.9 L787.0,842.2 L784.5,841.5 L782.1,840.7 L779.6,840.0 L777.2,839.2 L774.7,838.5 L772.3,837.8 L769.8,837.0 L767.4,836.3 L764.9,835.5 L762.5,834.8 L760.0,834.0 L757.6,833.3 L755.2,832.5 L752.8,831.8 L750.3,831.0 L747.9,830.3 L745.5,829.5 L743.0,828.8 L740.6,828.0 L738.1,827.2 L735.7,826.5 L733.2,825.7 L730.8,824.9 L728.4,824.2 L725.9,823.4 L723.5,822.6 L721.1,821.9 L718.7,821.1 L716.3,820.3 L713.9,819.6 L711.5,818.8 L709.2,818.0 L706.9,817.3 L704.6,816.5 L702.3,815.8 L700.0,815.0 L697.5,814.1 L695.0,813.3 L692.5,812.4 L690.1,811.6 L687.6,810.7 L685.2,809.9 L682.8,809.0 L680.4,808.2 L678.0,807.3 L675.7,806.5 L673.3,805.6 L671.0,804.8 L668.6,803.9 L666.3,803.1 L664.0,802.2 L661.7,801.4 L659.4,800.5 L657.0,799.7 L654.7,798.8 L652.4,798.0 L649.9,797.1 L647.5,796.2 L645.0,795.3 L642.6,794.4 L640.2,793.5 L637.7,792.6 L635.3,791.7 L632.9,790.8 L630.5,789.9 L628.1,789.0 L625.7,788.1 L623.3,787.2 L620.9,786.3 L618.6,785.4 L616.2,784.5 L613.9,783.7 L611.6,782.8 L609.3,782.0 L606.8,781.1 L604.4,780.2 L601.9,779.3 L599.5,778.5 L597.1,777.6 L594.7,776.8 L592.3,775.9 L590.0,775.1 L587.6,774.2 L585.2,773.4 L582.9,772.6 L580.5,771.7 L578.2,770.9 L575.8,770.0 L573.4,769.2 Z" fill="#a59a93"/>
<g clip-path="url(#c4)" opacity="1.0"><rect x="500" y="550" width="700" height="300" fill="url(#phatch)"/></g>
<path d="M609.3,782.0 L609.5,779.2 L609.7,776.4 L609.9,773.5 L610.2,770.7 L610.5,767.9 L611.0,765.0 L611.5,762.3 L612.0,759.6 L612.5,756.9 L613.2,754.2 L614.1,751.5 L615.1,748.8 L616.5,746.2 L617.7,744.3 L619.0,742.5 L620.4,740.6 L621.9,738.8 L623.5,736.9 L625.2,735.1 L627.1,733.3 L629.0,731.5 L631.1,729.8 L633.3,728.1 L635.6,726.4 L638.0,724.7 L639.8,723.6 L641.6,722.4 L643.6,721.3 L645.7,720.2 L647.9,719.1 L650.2,718.1 L652.6,717.0 L655.0,715.9 L657.5,714.9 L660.0,713.8 L662.6,712.8 L665.2,711.8 L667.8,710.8 L670.4,709.8 L673.1,708.8 L675.7,707.8 L678.4,706.8 L681.0,705.9 L683.6,705.0 L686.1,704.0 L688.6,703.1 L691.0,702.2 L693.4,701.4 L695.7,700.5 L697.9,699.6 L700.0,698.8 L702.6,697.7 L705.2,696.7 L707.6,695.7 L709.9,694.8 L712.2,693.8 L714.4,692.9 L716.6,692.1 L718.8,691.2 L721.0,690.3 L723.3,689.4 L725.6,688.6 L728.0,687.7 L730.5,686.8 L733.1,685.9 L735.8,685.0 L737.8,684.3 L739.9,683.7 L742.1,683.0 L744.3,682.3 L746.5,681.6 L748.8,680.9 L751.1,680.2 L753.5,679.5 L755.8,678.9 L758.3,678.2 L760.7,677.5 L763.2,676.8 L765.7,676.1 L768.2,675.4 L770.7,674.7 L773.3,674.0 L775.8,673.3 L778.4,672.6 L781.0,671.9 L783.5,671.2 L786.1,670.6 L788.7,669.9 L791.3,669.2 L793.8,668.5 L796.4,667.9 L798.9,667.2 L801.4,666.6 L803.9,665.9 L806.4,665.3 L808.8,664.7 L811.3,664.1 L813.7,663.5 L816.2,662.8 L818.7,662.2 L821.1,661.6 L823.6,661.0 L826.1,660.4 L828.6,659.8 L831.1,659.3 L833.6,658.7 L836.1,658.1 L838.6,657.5 L841.1,656.9 L843.6,656.3 L846.1,655.8 L848.6,655.2 L851.1,654.6 L853.5,654.1 L856.0,653.5 L858.5,653.0 L860.9,652.4 L863.4,651.8 L865.8,651.3 L868.2,650.7 L870.6,650.2 L873.0,649.6 L875.3,649.1 L877.7,648.5 L880.0,648.0 L882.6,647.4 L885.1,646.8 L887.7,646.2 L890.2,645.6 L892.7,645.0 L895.2,644.4 L897.6,643.8 L900.1,643.2 L902.5,642.6 L904.9,642.0 L907.4,641.4 L909.8,640.8 L912.2,640.2 L914.6,639.7 L917.0,639.1 L919.4,638.5 L921.8,638.0 L924.2,637.4 L926.6,636.9 L929.1,636.3 L931.5,635.8 L933.9,635.3 L936.3,634.8 L938.8,634.3 L941.3,633.8 L943.9,633.3 L946.4,632.8 L949.0,632.3 L951.6,631.8 L954.1,631.3 L956.7,630.8 L959.2,630.3 L961.8,629.9 L964.3,629.4 L966.9,629.0 L969.4,628.5 L972.0,628.1 L974.5,627.7 L977.1,627.3 L979.7,626.9 L982.2,626.5 L984.8,626.1 L987.3,625.8 L989.9,625.4 L992.5,625.1 L995.0,624.8 L997.6,624.5 L1000.2,624.2 L1002.9,623.9 L1005.6,623.7 L1008.4,623.4 L1011.3,623.1 L1014.2,622.9 L1017.1,622.6 L1020.0,622.4 L1022.9,622.2 L1025.8,622.0 L1028.7,621.8 L1031.5,621.6 L1034.3,621.4 L1037.0,621.3 L1039.7,621.2 L1042.2,621.1 L1044.6,621.1 L1047.0,621.1 L1049.2,621.1 L1051.2,621.1 L1053.1,621.2 L1054.8,621.3 L1056.4,621.5 L1059.4,622.1 L1061.7,622.8 L1063.8,623.7 L1066.0,624.5 L1076.0,628.1 L1078.4,629.0 L1080.7,629.8 L1083.1,630.7 L1085.4,631.5 L1087.8,632.4 L1090.1,633.2 L1092.5,634.1 L1094.8,634.9 L1097.2,635.8 L1099.6,636.7 L1101.9,637.5 L1104.3,638.4 L1106.7,639.3 L1109.1,640.1 L1111.5,641.0 L1113.9,641.9 L1116.3,642.8 L1118.8,643.7 L1121.3,644.6 L1123.8,645.5 L1126.4,646.4 L1128.9,647.3 L1131.4,648.3 L1133.9,649.2 L1136.4,650.1 L1138.8,650.9 L1141.2,651.8 L1143.5,652.7 L1145.8,653.5 L1147.9,654.3 L1150.0,655.0 L1152.8,656.0 L1155.4,657.0 L1157.9,657.9 L1160.3,658.7 L1162.7,659.6 L1165.0,660.4 L1167.5,661.3 L1170.0,662.2 L1172.5,663.1 L1175.1,664.0 L1177.6,664.9 L1180.2,665.9 L1182.8,666.8 L1185.5,667.7 L1188.1,668.7 L1190.8,669.6 L1193.5,670.6 L1195.9,671.5 L1198.4,672.4 L1201.0,673.3 L1203.5,674.2 L1206.1,675.2 L1208.7,676.1 L1211.2,677.0 L1213.7,677.9 L1216.1,678.8 L1218.4,679.6 L1220.5,680.4 L1223.5,681.5 L1226.1,682.4 L1228.7,683.3 L1231.4,684.3 L1234.6,685.5 L1236.5,686.2 L1238.6,686.9 L1240.8,687.7 L1243.1,688.5 L1245.5,689.4 L1248.0,690.3 L1250.6,691.2 L1253.2,692.2 L1255.8,693.1 L1258.4,694.1 L1261.1,695.0 L1263.7,696.0 L1266.2,697.0 L1268.7,697.9 L1271.1,698.9 L1273.4,699.8 L1276.1,700.9 L1278.8,702.0 L1281.5,703.1 L1284.2,704.3 L1286.8,705.4 L1289.4,706.6 L1292.0,707.7 L1294.4,708.8 L1296.7,709.9 L1298.9,710.9 L1301.0,711.9 L1302.8,712.9 L1305.7,714.4 L1308.2,715.8 L1310.4,717.2 L1312.2,718.8 L1313.8,720.9 L1315.0,723.3 L1315.8,725.8 L1316.4,728.8 L1316.6,732.0 L1316.4,735.2 L1315.8,738.4 L1314.9,741.6 L1313.4,744.6 L1311.7,746.8 L1309.6,748.9 L1307.4,750.9 L1305.2,752.9 L1305.2,752.9 L1307.6,753.7 L1310.0,754.5 L1312.4,755.2 L1314.8,756.0 L1317.2,756.8 L1319.6,757.6 L1322.0,758.4 L1324.6,759.2 L1327.2,760.1 L1330.0,761.1 L1332.1,761.8 L1334.2,762.6 L1336.4,763.4 L1338.6,764.3 L1340.9,765.1 L1343.2,766.0 L1345.6,766.9 L1348.0,767.8 L1350.4,768.8 L1352.9,769.7 L1355.3,770.7 L1357.8,771.6 L1360.3,772.6 L1362.8,773.5 L1365.2,774.5 L1367.7,775.4 L1370.2,776.3 L1372.6,777.1 L1375.0,778.0 L1377.4,778.8 L1379.8,779.7 L1382.2,780.5 L1384.6,781.3 L1387.0,782.1 L1389.5,782.9 L1391.9,783.7 L1394.3,784.5 L1396.7,785.2 L1399.2,786.0 L1401.6,786.8 L1404.0,787.6 L1406.4,788.3 L1408.9,789.1 L1411.3,789.9 L1413.7,790.7 L1416.2,791.4 L1418.6,792.2 L1421.0,793.0 L1421.0,794.0 L1285.0,835.0 L1200.0,860.0 L1100.0,885.0 L1015.0,909.0 L1015.0,909.0 L1012.5,908.1 L1010.1,907.2 L1007.6,906.3 L1005.2,905.4 L1002.7,904.5 L1000.2,903.5 L997.8,902.6 L995.3,901.7 L992.9,900.8 L990.4,899.9 L987.9,899.0 L985.5,898.1 L983.0,897.3 L980.5,896.4 L978.1,895.6 L975.6,894.8 L973.2,894.0 L970.8,893.3 L968.4,892.6 L966.0,891.9 L963.6,891.2 L961.3,890.6 L958.9,889.9 L956.5,889.3 L954.1,888.6 L951.7,888.0 L949.3,887.4 L946.8,886.7 L944.3,886.0 L941.7,885.4 L939.1,884.7 L936.4,884.0 L934.2,883.4 L931.9,882.8 L929.6,882.3 L927.3,881.7 L924.9,881.1 L922.5,880.5 L920.1,879.9 L917.7,879.3 L915.2,878.7 L912.7,878.1 L910.2,877.5 L907.7,876.9 L905.2,876.3 L902.7,875.7 L900.2,875.1 L897.6,874.5 L895.1,873.8 L892.6,873.2 L890.0,872.6 L887.5,871.9 L885.0,871.3 L882.5,870.6 L880.1,870.0 L877.6,869.3 L875.1,868.6 L872.7,867.9 L870.2,867.2 L867.8,866.5 L865.3,865.8 L862.9,865.1 L860.4,864.4 L858.0,863.6 L855.5,862.9 L853.1,862.2 L850.6,861.4 L848.2,860.7 L845.7,859.9 L843.3,859.2 L840.8,858.4 L838.4,857.7 L835.9,856.9 L833.5,856.2 L831.0,855.4 L828.6,854.7 L826.1,853.9 L823.7,853.2 L821.2,852.4 L818.8,851.7 L816.4,851.0 L813.9,850.2 L811.5,849.5 L809.0,848.8 L806.6,848.0 L804.1,847.3 L801.7,846.6 L799.2,845.8 L796.8,845.1 L794.3,844.4 L791.9,843.7 L789.4,842.9 L787.0,842.2 L784.5,841.5 L782.1,840.7 L779.6,840.0 L777.2,839.2 L774.7,838.5 L772.3,837.8 L769.8,837.0 L767.4,836.3 L764.9,835.5 L762.5,834.8 L760.0,834.0 L757.6,833.3 L755.2,832.5 L752.8,831.8 L750.3,831.0 L747.9,830.3 L745.5,829.5 L743.0,828.8 L740.6,828.0 L738.1,827.2 L735.7,826.5 L733.2,825.7 L730.8,824.9 L728.4,824.2 L725.9,823.4 L723.5,822.6 L721.1,821.9 L718.7,821.1 L716.3,820.3 L713.9,819.6 L711.5,818.8 L709.2,818.0 L706.9,817.3 L704.6,816.5 L702.3,815.8 L700.0,815.0 L697.5,814.1 L695.0,813.3 L692.5,812.4 L690.1,811.6 L687.6,810.7 L685.2,809.9 L682.8,809.0 L680.4,808.2 L678.0,807.3 L675.7,806.5 L673.3,805.6 L671.0,804.8 L668.6,803.9 L666.3,803.1 L664.0,802.2 L661.7,801.4 L659.4,800.5 L657.0,799.7 L654.7,798.8 L652.4,798.0 L649.9,797.1 L647.5,796.2 L645.1,795.3 L642.7,794.4 L640.3,793.5 L637.9,792.7 L635.5,791.8 L633.1,790.9 L630.7,790.0 L628.3,789.1 L626.0,788.2 L623.6,787.3 L621.2,786.4 L618.8,785.6 L616.5,784.7 L614.1,783.8 L611.7,782.9 L609.3,782.0 Z" fill="#c2a48e"/>
<g clip-path="url(#c5)" opacity="0.8"><g transform="rotate(19 700 600)"><rect x="-200" y="100" width="1900" height="1000" filter="url(#fwood)"/></g></g>
<path d="M649.6,798.0 L649.6,795.4 L649.7,792.9 L649.7,790.3 L649.7,787.8 L649.7,785.2 L649.8,782.6 L650.0,780.0 L650.2,777.3 L650.3,774.5 L650.4,771.7 L650.6,768.8 L650.9,766.1 L651.5,763.3 L652.4,760.6 L653.4,758.2 L654.5,755.8 L655.8,753.5 L657.3,751.1 L658.9,748.8 L660.6,746.5 L662.6,744.4 L664.6,742.4 L666.8,740.5 L668.6,739.2 L670.6,738.0 L672.7,736.9 L674.9,735.9 L677.2,735.0 L679.6,734.1 L682.1,733.3 L684.6,732.5 L687.2,731.7 L689.8,730.9 L692.4,730.1 L694.9,729.3 L697.5,728.4 L700.0,727.5 L702.3,726.6 L704.6,725.7 L706.9,724.9 L709.2,723.9 L711.6,723.0 L714.0,722.1 L716.4,721.2 L718.9,720.3 L721.3,719.3 L723.7,718.4 L726.1,717.5 L728.5,716.7 L730.8,715.8 L733.2,714.9 L735.5,714.1 L737.8,713.3 L740.0,712.5 L742.5,711.6 L745.0,710.8 L747.4,710.0 L749.8,709.3 L752.2,708.5 L754.6,707.8 L757.0,707.1 L759.3,706.3 L761.7,705.6 L764.0,704.9 L766.3,704.1 L768.7,703.4 L771.0,702.6 L773.5,701.7 L776.0,700.9 L778.4,699.9 L780.9,699.0 L783.4,698.1 L785.9,697.1 L788.3,696.2 L790.7,695.3 L793.1,694.5 L795.5,693.7 L797.8,692.9 L800.0,692.2 L802.6,691.5 L804.9,690.9 L807.2,690.3 L809.4,689.8 L811.7,689.3 L814.2,688.8 L816.9,688.2 L820.0,687.4 L821.7,687.0 L823.5,686.5 L825.4,686.0 L827.4,685.4 L829.4,684.9 L831.5,684.3 L833.7,683.7 L835.9,683.0 L838.2,682.4 L840.6,681.7 L843.0,681.0 L845.4,680.3 L847.9,679.6 L850.5,678.8 L853.1,678.1 L855.7,677.3 L858.3,676.6 L861.0,675.8 L863.7,675.1 L866.4,674.3 L869.1,673.5 L871.8,672.8 L874.6,672.0 L877.3,671.3 L880.1,670.6 L882.8,669.8 L885.6,669.1 L888.3,668.4 L891.0,667.7 L893.7,667.1 L896.4,666.4 L898.7,665.9 L901.0,665.3 L903.4,664.7 L905.8,664.2 L908.3,663.6 L910.8,663.1 L913.3,662.5 L915.8,661.9 L918.4,661.4 L921.0,660.8 L923.6,660.2 L926.2,659.7 L928.8,659.1 L931.5,658.5 L934.2,658.0 L936.8,657.4 L939.5,656.9 L942.2,656.3 L944.9,655.8 L947.5,655.2 L950.2,654.7 L952.8,654.1 L955.5,653.6 L958.1,653.1 L960.7,652.5 L963.3,652.0 L965.9,651.5 L968.4,651.0 L970.9,650.5 L973.4,650.0 L975.9,649.6 L978.3,649.1 L980.7,648.6 L983.0,648.2 L985.3,647.8 L987.6,647.3 L989.8,646.9 L991.9,646.5 L994.0,646.1 L996.1,645.7 L998.1,645.4 L1000.0,645.0 L1003.0,644.4 L1005.8,643.9 L1008.5,643.4 L1011.1,642.9 L1013.6,642.4 L1016.0,641.9 L1018.4,641.4 L1020.7,641.0 L1023.0,640.6 L1025.3,640.2 L1027.6,639.9 L1029.9,639.5 L1032.3,639.2 L1034.8,639.0 L1037.3,638.7 L1040.0,638.5 L1042.4,638.3 L1044.8,638.2 L1047.4,638.1 L1049.9,638.0 L1052.6,637.9 L1055.2,637.8 L1057.9,637.8 L1060.6,637.8 L1063.3,637.8 L1066.1,637.8 L1068.8,637.8 L1071.5,637.9 L1074.3,637.9 L1077.0,638.0 L1079.6,638.1 L1082.3,638.3 L1084.9,638.4 L1087.4,638.6 L1089.9,638.8 L1092.3,639.0 L1094.7,639.2 L1097.0,639.5 L1099.9,639.9 L1102.8,640.3 L1105.7,640.8 L1108.5,641.3 L1111.2,641.8 L1113.9,642.4 L1116.5,643.0 L1119.1,643.6 L1121.6,644.3 L1124.1,644.9 L1126.4,645.6 L1128.8,646.3 L1131.0,647.0 L1133.7,647.9 L1136.2,648.9 L1138.6,649.9 L1140.9,650.9 L1143.1,651.9 L1145.4,653.0 L1147.7,654.0 L1150.0,655.0 L1170.0,662.2 L1172.6,663.1 L1175.2,664.1 L1177.8,665.0 L1180.4,665.9 L1182.9,666.8 L1185.5,667.7 L1188.2,668.7 L1190.8,669.6 L1193.5,670.6 L1195.9,671.5 L1198.4,672.4 L1201.0,673.3 L1203.5,674.2 L1206.1,675.2 L1208.7,676.1 L1211.2,677.0 L1213.7,677.9 L1216.1,678.8 L1218.4,679.6 L1220.5,680.4 L1223.5,681.5 L1226.1,682.4 L1228.7,683.3 L1231.4,684.3 L1234.6,685.5 L1236.5,686.2 L1238.6,686.9 L1240.8,687.7 L1243.1,688.5 L1245.5,689.4 L1248.0,690.3 L1250.6,691.2 L1253.2,692.2 L1255.8,693.1 L1258.4,694.1 L1261.1,695.0 L1263.7,696.0 L1266.2,697.0 L1268.7,697.9 L1271.1,698.9 L1273.4,699.8 L1276.1,700.9 L1278.8,702.0 L1281.5,703.1 L1284.2,704.3 L1286.8,705.4 L1289.4,706.6 L1292.0,707.7 L1294.4,708.8 L1296.7,709.9 L1298.9,710.9 L1301.0,711.9 L1302.8,712.9 L1305.7,714.4 L1308.2,715.8 L1310.4,717.2 L1312.2,718.8 L1313.8,720.9 L1315.0,723.3 L1315.8,725.8 L1316.4,728.8 L1316.6,732.0 L1316.4,735.2 L1315.8,738.4 L1314.9,741.6 L1313.4,744.6 L1311.7,746.8 L1309.6,748.9 L1307.4,750.9 L1305.2,752.9 L1305.2,752.9 L1307.6,753.7 L1310.0,754.5 L1312.4,755.2 L1314.8,756.0 L1317.2,756.8 L1319.6,757.6 L1322.0,758.4 L1324.6,759.2 L1327.2,760.1 L1330.0,761.1 L1332.1,761.8 L1334.2,762.6 L1336.4,763.4 L1338.6,764.3 L1340.9,765.1 L1343.2,766.0 L1345.6,766.9 L1348.0,767.8 L1350.4,768.8 L1352.9,769.7 L1355.3,770.7 L1357.8,771.6 L1360.3,772.6 L1362.8,773.5 L1365.2,774.5 L1367.7,775.4 L1370.2,776.3 L1372.6,777.1 L1375.0,778.0 L1377.4,778.8 L1379.8,779.7 L1382.2,780.5 L1384.6,781.3 L1387.0,782.1 L1389.5,782.9 L1391.9,783.7 L1394.3,784.5 L1396.7,785.2 L1399.2,786.0 L1401.6,786.8 L1404.0,787.6 L1406.4,788.3 L1408.9,789.1 L1411.3,789.9 L1413.7,790.7 L1416.2,791.4 L1418.6,792.2 L1421.0,793.0 L1421.0,794.0 L1285.0,835.0 L1200.0,860.0 L1100.0,885.0 L1015.0,909.0 L1015.0,909.0 L1012.5,908.1 L1010.1,907.2 L1007.6,906.3 L1005.2,905.4 L1002.7,904.5 L1000.2,903.5 L997.8,902.6 L995.3,901.7 L992.9,900.8 L990.4,899.9 L987.9,899.0 L985.5,898.1 L983.0,897.3 L980.5,896.4 L978.1,895.6 L975.6,894.8 L973.2,894.0 L970.8,893.3 L968.4,892.6 L966.0,891.9 L963.6,891.2 L961.3,890.6 L958.9,889.9 L956.5,889.3 L954.1,888.6 L951.7,888.0 L949.3,887.4 L946.8,886.7 L944.3,886.0 L941.7,885.4 L939.1,884.7 L936.4,884.0 L934.2,883.4 L931.9,882.8 L929.6,882.3 L927.3,881.7 L924.9,881.1 L922.5,880.5 L920.1,879.9 L917.7,879.3 L915.2,878.7 L912.7,878.1 L910.2,877.5 L907.7,876.9 L905.2,876.3 L902.7,875.7 L900.2,875.1 L897.6,874.5 L895.1,873.8 L892.6,873.2 L890.0,872.6 L887.5,871.9 L885.0,871.3 L882.5,870.6 L880.1,870.0 L877.6,869.3 L875.1,868.6 L872.7,867.9 L870.2,867.2 L867.8,866.5 L865.3,865.8 L862.9,865.1 L860.4,864.4 L858.0,863.6 L855.5,862.9 L853.1,862.2 L850.6,861.4 L848.2,860.7 L845.7,859.9 L843.3,859.2 L840.8,858.4 L838.4,857.7 L835.9,856.9 L833.5,856.2 L831.0,855.4 L828.6,854.7 L826.1,853.9 L823.7,853.2 L821.2,852.4 L818.8,851.7 L816.4,851.0 L813.9,850.2 L811.5,849.5 L809.0,848.8 L806.6,848.0 L804.1,847.3 L801.7,846.6 L799.2,845.8 L796.8,845.1 L794.3,844.4 L791.9,843.7 L789.4,842.9 L787.0,842.2 L784.5,841.5 L782.1,840.7 L779.6,840.0 L777.2,839.2 L774.7,838.5 L772.3,837.8 L769.8,837.0 L767.4,836.3 L764.9,835.5 L762.5,834.8 L760.0,834.0 L757.6,833.3 L755.2,832.5 L752.8,831.8 L750.3,831.0 L747.9,830.3 L745.5,829.5 L743.0,828.8 L740.6,828.0 L738.1,827.2 L735.7,826.5 L733.2,825.7 L730.8,824.9 L728.4,824.2 L725.9,823.4 L723.5,822.6 L721.1,821.9 L718.7,821.1 L716.3,820.3 L713.9,819.6 L711.5,818.8 L709.2,818.0 L706.9,817.3 L704.6,816.5 L702.3,815.8 L700.0,815.0 L697.4,814.1 L694.7,813.2 L692.0,812.2 L689.2,811.2 L686.3,810.1 L683.5,809.0 L680.6,808.0 L677.8,806.9 L675.0,805.8 L672.2,804.8 L669.6,803.8 L667.0,802.8 L664.6,801.9 L662.2,801.1 L660.1,800.3 L658.1,799.6 L656.4,799.1 L654.8,798.6 L653.5,798.2 L652.4,798.0 L649.6,798.0 Z" fill="#cbcbcb"/>
<g clip-path="url(#c6)" opacity="1.0"><rect x="600" y="600" width="700" height="300" fill="url(#pstripe)"/></g>
<path d="M688.2,810.0 L688.4,807.5 L688.4,804.9 L688.5,802.3 L688.5,799.7 L688.6,797.2 L688.9,794.7 L689.3,792.3 L690.0,790.0 L691.0,787.6 L692.2,785.4 L693.5,783.2 L695.0,781.1 L696.7,779.0 L698.5,776.8 L700.5,774.6 L701.9,773.0 L703.5,771.4 L705.1,769.7 L706.8,768.1 L708.5,766.4 L710.4,764.7 L712.3,763.0 L714.2,761.3 L716.2,759.6 L718.3,758.0 L720.4,756.3 L722.6,754.8 L724.8,753.2 L727.0,751.7 L729.0,750.4 L731.0,749.2 L733.1,747.9 L735.3,746.7 L737.5,745.5 L739.7,744.3 L742.0,743.1 L744.3,742.0 L746.6,740.9 L749.0,739.7 L751.4,738.6 L753.8,737.6 L756.2,736.5 L758.7,735.5 L761.1,734.4 L763.6,733.4 L766.1,732.4 L768.5,731.5 L771.0,730.5 L773.3,729.6 L775.5,728.8 L777.8,728.0 L780.1,727.3 L782.4,726.6 L784.7,725.8 L787.1,725.1 L789.4,724.5 L791.8,723.8 L794.1,723.2 L796.5,722.5 L798.9,721.9 L801.3,721.2 L803.8,720.6 L806.2,719.9 L808.7,719.3 L811.2,718.6 L813.7,717.9 L816.2,717.2 L818.8,716.5 L821.4,715.8 L824.0,715.0 L826.3,714.3 L828.5,713.7 L830.9,713.0 L833.2,712.3 L835.6,711.6 L838.0,710.9 L840.5,710.2 L842.9,709.5 L845.4,708.8 L847.9,708.1 L850.4,707.4 L853.0,706.6 L855.5,705.9 L858.0,705.2 L860.6,704.4 L863.1,703.7 L865.7,702.9 L868.2,702.2 L870.8,701.4 L873.3,700.7 L875.8,699.9 L878.4,699.1 L880.9,698.4 L883.3,697.6 L885.8,696.8 L888.2,696.0 L890.7,695.2 L893.0,694.4 L895.4,693.6 L897.7,692.8 L900.0,692.0 L902.5,691.1 L904.9,690.1 L907.4,689.2 L909.8,688.2 L912.2,687.1 L914.6,686.1 L916.9,685.0 L919.3,683.9 L921.6,682.9 L923.9,681.8 L926.2,680.7 L928.5,679.6 L930.8,678.5 L933.0,677.5 L935.3,676.4 L937.6,675.4 L939.8,674.4 L942.1,673.5 L944.4,672.6 L946.6,671.7 L948.9,670.8 L951.1,670.1 L953.4,669.3 L955.7,668.6 L958.0,668.0 L960.6,667.4 L963.3,666.8 L966.0,666.3 L968.7,665.9 L971.5,665.5 L974.2,665.2 L977.0,664.9 L979.7,664.6 L982.4,664.4 L985.1,664.2 L987.8,664.0 L990.5,663.9 L993.1,663.7 L995.7,663.5 L998.2,663.3 L1000.7,663.1 L1003.2,662.9 L1005.5,662.6 L1007.8,662.3 L1010.0,662.0 L1013.0,661.5 L1015.7,660.9 L1018.2,660.3 L1020.6,659.6 L1022.9,659.0 L1025.3,658.4 L1027.8,657.8 L1030.5,657.1 L1033.5,656.6 L1036.8,656.0 L1038.6,655.7 L1040.5,655.4 L1042.5,655.1 L1044.6,654.8 L1046.8,654.5 L1049.1,654.1 L1051.5,653.8 L1053.9,653.4 L1056.4,653.1 L1059.0,652.7 L1061.6,652.4 L1064.2,652.0 L1067.0,651.6 L1069.7,651.3 L1072.5,651.0 L1075.3,650.6 L1078.1,650.3 L1080.9,650.0 L1083.8,649.7 L1086.6,649.4 L1089.5,649.1 L1092.3,648.8 L1095.1,648.6 L1097.9,648.4 L1100.7,648.1 L1103.5,648.0 L1106.2,647.8 L1108.8,647.7 L1111.5,647.6 L1114.0,647.5 L1116.5,647.5 L1119.0,647.5 L1121.3,647.5 L1123.6,647.6 L1125.9,647.7 L1128.0,647.8 L1130.0,648.0 L1133.0,648.4 L1135.9,648.8 L1138.6,649.4 L1141.3,650.0 L1143.8,650.7 L1146.3,651.5 L1148.7,652.3 L1151.1,653.1 L1153.5,654.0 L1155.8,654.9 L1158.1,655.8 L1160.4,656.7 L1162.8,657.6 L1165.1,658.4 L1167.5,659.2 L1170.0,660.0 L1193.5,670.6 L1196.0,671.5 L1198.5,672.4 L1201.1,673.4 L1203.7,674.3 L1206.3,675.2 L1208.8,676.2 L1211.3,677.1 L1213.8,678.0 L1216.1,678.8 L1218.4,679.6 L1220.5,680.4 L1223.5,681.5 L1226.1,682.4 L1228.7,683.3 L1231.4,684.3 L1234.6,685.5 L1236.5,686.2 L1238.6,686.9 L1240.8,687.7 L1243.1,688.5 L1245.5,689.4 L1248.0,690.3 L1250.6,691.2 L1253.2,692.2 L1255.8,693.1 L1258.4,694.1 L1261.1,695.0 L1263.7,696.0 L1266.2,697.0 L1268.7,697.9 L1271.1,698.9 L1273.4,699.8 L1276.1,700.9 L1278.8,702.0 L1281.5,703.1 L1284.2,704.3 L1286.8,705.4 L1289.4,706.6 L1292.0,707.7 L1294.4,708.8 L1296.7,709.9 L1298.9,710.9 L1301.0,711.9 L1302.8,712.9 L1305.7,714.4 L1308.2,715.8 L1310.4,717.2 L1312.2,718.8 L1313.8,720.9 L1315.0,723.3 L1315.8,725.8 L1316.4,728.8 L1316.6,732.0 L1316.4,735.2 L1315.8,738.4 L1314.9,741.6 L1313.4,744.6 L1311.7,746.8 L1309.6,748.9 L1307.4,750.9 L1305.2,752.9 L1305.2,752.9 L1307.6,753.7 L1310.0,754.5 L1312.4,755.2 L1314.8,756.0 L1317.2,756.8 L1319.6,757.6 L1322.0,758.4 L1324.6,759.2 L1327.2,760.1 L1330.0,761.1 L1332.1,761.8 L1334.2,762.6 L1336.4,763.4 L1338.6,764.3 L1340.9,765.1 L1343.2,766.0 L1345.6,766.9 L1348.0,767.8 L1350.4,768.8 L1352.9,769.7 L1355.3,770.7 L1357.8,771.6 L1360.3,772.6 L1362.8,773.5 L1365.2,774.5 L1367.7,775.4 L1370.2,776.3 L1372.6,777.1 L1375.0,778.0 L1377.4,778.8 L1379.8,779.7 L1382.2,780.5 L1384.6,781.3 L1387.0,782.1 L1389.5,782.9 L1391.9,783.7 L1394.3,784.5 L1396.7,785.2 L1399.2,786.0 L1401.6,786.8 L1404.0,787.6 L1406.4,788.3 L1408.9,789.1 L1411.3,789.9 L1413.7,790.7 L1416.2,791.4 L1418.6,792.2 L1421.0,793.0 L1421.0,794.0 L1285.0,835.0 L1200.0,860.0 L1100.0,885.0 L1015.0,909.0 L1015.0,909.0 L1012.5,908.1 L1010.1,907.2 L1007.6,906.3 L1005.2,905.4 L1002.7,904.5 L1000.2,903.5 L997.8,902.6 L995.3,901.7 L992.9,900.8 L990.4,899.9 L987.9,899.0 L985.5,898.1 L983.0,897.3 L980.5,896.4 L978.1,895.6 L975.6,894.8 L973.2,894.0 L970.8,893.3 L968.4,892.6 L966.0,891.9 L963.6,891.2 L961.3,890.6 L958.9,889.9 L956.5,889.3 L954.1,888.6 L951.7,888.0 L949.3,887.4 L946.8,886.7 L944.3,886.0 L941.7,885.4 L939.1,884.7 L936.4,884.0 L934.2,883.4 L931.9,882.8 L929.6,882.3 L927.3,881.7 L924.9,881.1 L922.5,880.5 L920.1,879.9 L917.7,879.3 L915.2,878.7 L912.7,878.1 L910.2,877.5 L907.7,876.9 L905.2,876.3 L902.7,875.7 L900.2,875.1 L897.6,874.5 L895.1,873.8 L892.6,873.2 L890.0,872.6 L887.5,871.9 L885.0,871.3 L882.5,870.6 L880.1,870.0 L877.6,869.3 L875.1,868.6 L872.7,867.9 L870.2,867.2 L867.8,866.5 L865.3,865.8 L862.9,865.1 L860.4,864.4 L858.0,863.6 L855.5,862.9 L853.1,862.2 L850.6,861.4 L848.2,860.7 L845.7,859.9 L843.3,859.2 L840.8,858.4 L838.4,857.7 L835.9,856.9 L833.5,856.2 L831.0,855.4 L828.6,854.7 L826.1,853.9 L823.7,853.2 L821.2,852.4 L818.8,851.7 L816.4,851.0 L813.9,850.2 L811.5,849.5 L809.0,848.8 L806.6,848.0 L804.1,847.3 L801.7,846.6 L799.2,845.8 L796.8,845.1 L794.3,844.4 L791.9,843.7 L789.4,842.9 L787.0,842.2 L784.5,841.5 L782.1,840.7 L779.6,840.0 L777.2,839.2 L774.7,838.5 L772.3,837.8 L769.8,837.0 L767.4,836.3 L764.9,835.5 L762.5,834.8 L760.0,834.0 L757.6,833.3 L755.1,832.5 L752.5,831.7 L749.9,830.9 L747.3,830.1 L744.6,829.3 L741.9,828.5 L739.2,827.6 L736.5,826.8 L733.8,826.0 L731.1,825.1 L728.4,824.3 L725.8,823.5 L723.2,822.7 L720.7,821.9 L718.2,821.1 L715.8,820.3 L713.4,819.6 L711.2,818.8 L709.0,818.1 L707.0,817.4 L705.0,816.8 L703.2,816.2 L701.5,815.6 L700.0,815.0 L697.0,813.9 L694.6,812.8 L692.5,811.9 L690.4,811.0 L688.2,810.0 Z" fill="#c8c8c8"/>
<path d="M731.4,822.0 L734.0,822.4 L736.6,822.9 L739.2,823.4 L742.0,823.8 L745.0,824.0 L747.2,824.0 L749.6,824.0 L752.1,823.9 L754.7,823.8 L757.4,823.6 L760.1,823.4 L762.9,823.1 L765.7,822.9 L768.4,822.6 L771.1,822.3 L773.7,822.0 L776.4,821.7 L779.0,821.4 L781.5,821.1 L784.1,820.8 L786.6,820.5 L789.2,820.1 L791.8,819.7 L794.5,819.2 L797.2,818.7 L800.0,818.0 L802.3,817.4 L804.6,816.7 L806.9,816.0 L809.3,815.2 L811.7,814.4 L814.1,813.5 L816.5,812.6 L819.0,811.7 L821.5,810.8 L824.1,809.8 L826.6,808.9 L829.2,807.9 L831.9,807.0 L834.6,806.1 L837.3,805.2 L840.0,804.4 L842.2,803.8 L844.5,803.1 L846.9,802.5 L849.2,801.9 L851.7,801.2 L854.1,800.6 L856.6,800.0 L859.1,799.4 L861.6,798.8 L864.2,798.2 L866.8,797.6 L869.3,797.0 L871.9,796.4 L874.4,795.8 L877.0,795.2 L879.5,794.6 L882.1,794.0 L884.6,793.5 L887.0,792.9 L889.5,792.3 L891.9,791.7 L894.2,791.1 L896.5,790.6 L898.8,790.0 L901.4,789.3 L904.0,788.6 L906.6,787.9 L909.1,787.2 L911.6,786.5 L914.1,785.9 L916.6,785.2 L919.0,784.5 L921.4,783.8 L923.8,783.1 L926.1,782.5 L928.5,781.9 L930.8,781.2 L933.1,780.6 L935.4,780.1 L937.7,779.5 L940.0,779.0 L942.7,778.4 L945.4,778.0 L948.0,777.6 L950.6,777.2 L953.1,776.9 L955.7,776.6 L958.2,776.2 L960.8,775.8 L963.3,775.3 L966.0,774.8 L968.6,774.1 L971.4,773.3 L973.5,772.6 L975.7,771.7 L977.9,770.8 L980.2,769.8 L982.4,768.7 L984.7,767.6 L987.0,766.4 L989.3,765.2 L991.7,763.9 L994.0,762.6 L996.4,761.4 L998.7,760.1 L1001.1,758.9 L1003.4,757.7 L1005.8,756.6 L1008.1,755.5 L1010.4,754.4 L1012.7,753.5 L1015.0,752.6 L1017.2,751.9 L1019.8,751.2 L1022.3,750.5 L1024.9,750.0 L1027.4,749.5 L1029.9,749.1 L1032.4,748.7 L1034.9,748.4 L1037.4,748.1 L1039.9,747.8 L1042.4,747.5 L1044.8,747.2 L1047.3,746.9 L1049.8,746.5 L1052.2,746.1 L1054.7,745.6 L1057.3,745.0 L1059.9,744.5 L1062.4,743.8 L1065.0,743.2 L1067.5,742.6 L1070.0,741.9 L1072.6,741.2 L1075.1,740.5 L1077.6,739.9 L1080.2,739.2 L1082.7,738.5 L1085.3,737.9 L1087.9,737.2 L1090.5,736.6 L1092.9,736.0 L1095.3,735.5 L1097.8,734.9 L1100.2,734.3 L1102.7,733.7 L1105.2,733.1 L1107.7,732.6 L1110.2,732.0 L1112.7,731.4 L1115.1,730.9 L1117.6,730.4 L1120.1,729.8 L1122.6,729.4 L1125.1,728.9 L1127.5,728.4 L1130.0,728.0 L1132.6,727.6 L1135.2,727.2 L1137.8,726.9 L1140.4,726.6 L1143.1,726.3 L1145.8,726.1 L1148.4,725.8 L1151.0,725.6 L1153.6,725.3 L1156.2,725.1 L1158.6,724.8 L1161.0,724.5 L1163.3,724.2 L1165.5,723.9 L1167.6,723.5 L1170.5,723.0 L1173.3,722.5 L1176.0,722.0 L1178.5,721.4 L1180.8,720.8 L1183.1,719.9 L1185.3,718.8 L1187.6,717.3 L1189.9,715.6 L1192.0,713.7 L1193.9,711.6 L1195.6,709.3 L1197.0,707.0 L1198.1,704.8 L1199.0,702.4 L1199.7,699.8 L1200.2,697.2 L1200.6,694.6 L1200.7,691.9 L1200.6,689.4 L1200.2,686.9 L1199.4,684.3 L1198.3,681.8 L1197.1,679.3 L1195.8,676.8 L1194.6,674.3 L1193.5,671.8 L1220.5,680.4 L1223.2,681.4 L1225.8,682.3 L1228.5,683.3 L1231.3,684.3 L1234.6,685.5 L1236.5,686.2 L1238.6,686.9 L1240.8,687.7 L1243.1,688.5 L1245.5,689.4 L1248.0,690.3 L1250.6,691.2 L1253.2,692.2 L1255.8,693.1 L1258.4,694.1 L1261.1,695.0 L1263.7,696.0 L1266.2,697.0 L1268.7,697.9 L1271.1,698.9 L1273.4,699.8 L1276.1,700.9 L1278.8,702.0 L1281.5,703.1 L1284.2,704.3 L1286.8,705.4 L1289.4,706.6 L1292.0,707.7 L1294.4,708.8 L1296.7,709.9 L1298.9,710.9 L1301.0,711.9 L1302.8,712.9 L1305.7,714.4 L1308.2,715.8 L1310.4,717.2 L1312.2,718.8 L1313.8,720.9 L1315.0,723.3 L1315.8,725.8 L1316.4,728.8 L1316.6,732.0 L1316.4,735.2 L1315.8,738.4 L1314.9,741.6 L1313.4,744.6 L1311.7,746.8 L1309.6,748.9 L1307.4,750.9 L1305.2,752.9 L1305.2,752.9 L1307.6,753.7 L1310.0,754.5 L1312.4,755.2 L1314.8,756.0 L1317.2,756.8 L1319.6,757.6 L1322.0,758.4 L1324.6,759.2 L1327.2,760.1 L1330.0,761.1 L1332.1,761.8 L1334.2,762.6 L1336.4,763.4 L1338.6,764.3 L1340.9,765.1 L1343.2,766.0 L1345.6,766.9 L1348.0,767.8 L1350.4,768.8 L1352.9,769.7 L1355.3,770.7 L1357.8,771.6 L1360.3,772.6 L1362.8,773.5 L1365.2,774.5 L1367.7,775.4 L1370.2,776.3 L1372.6,777.1 L1375.0,778.0 L1377.4,778.8 L1379.8,779.7 L1382.2,780.5 L1384.6,781.3 L1387.0,782.1 L1389.5,782.9 L1391.9,783.7 L1394.3,784.5 L1396.7,785.2 L1399.2,786.0 L1401.6,786.8 L1404.0,787.6 L1406.4,788.3 L1408.9,789.1 L1411.3,789.9 L1413.7,790.7 L1416.2,791.4 L1418.6,792.2 L1421.0,793.0 L1421.0,794.0 L1285.0,835.0 L1200.0,860.0 L1100.0,885.0 L1015.0,909.0 L1015.0,909.0 L1012.5,908.1 L1010.1,907.2 L1007.6,906.3 L1005.2,905.4 L1002.7,904.5 L1000.2,903.5 L997.8,902.6 L995.3,901.7 L992.9,900.8 L990.4,899.9 L987.9,899.0 L985.5,898.1 L983.0,897.3 L980.5,896.4 L978.1,895.6 L975.6,894.8 L973.2,894.0 L970.8,893.3 L968.4,892.6 L966.0,891.9 L963.6,891.2 L961.3,890.6 L958.9,889.9 L956.5,889.3 L954.1,888.6 L951.7,888.0 L949.3,887.4 L946.8,886.7 L944.3,886.0 L941.7,885.4 L939.1,884.7 L936.4,884.0 L934.2,883.4 L931.9,882.8 L929.6,882.3 L927.3,881.7 L924.9,881.1 L922.5,880.5 L920.1,879.9 L917.7,879.3 L915.2,878.7 L912.7,878.1 L910.2,877.5 L907.7,876.9 L905.2,876.3 L902.7,875.7 L900.2,875.1 L897.6,874.5 L895.1,873.8 L892.6,873.2 L890.0,872.6 L887.5,871.9 L885.0,871.3 L882.5,870.6 L880.1,870.0 L877.6,869.3 L875.1,868.6 L872.7,867.9 L870.2,867.2 L867.8,866.5 L865.3,865.8 L862.9,865.1 L860.4,864.4 L858.0,863.6 L855.5,862.9 L853.1,862.2 L850.6,861.4 L848.2,860.7 L845.7,859.9 L843.3,859.2 L840.8,858.4 L838.4,857.7 L835.9,856.9 L833.5,856.2 L831.0,855.4 L828.6,854.7 L826.1,853.9 L823.7,853.2 L821.2,852.4 L818.8,851.7 L816.3,851.0 L813.8,850.2 L811.3,849.5 L808.7,848.7 L806.2,848.0 L803.6,847.3 L801.0,846.5 L798.4,845.8 L795.8,845.0 L793.2,844.3 L790.6,843.5 L788.0,842.8 L785.5,842.1 L783.0,841.3 L780.5,840.6 L778.0,839.8 L775.6,839.1 L773.2,838.4 L770.8,837.6 L768.5,836.9 L766.3,836.2 L764.1,835.4 L762.0,834.7 L760.0,834.0 L757.2,833.0 L754.6,832.0 L752.1,831.0 L749.7,830.0 L747.3,829.0 L745.0,828.0 L742.8,827.0 L740.5,826.0 L738.3,825.0 L736.0,824.0 L733.7,823.0 L731.4,822.0 Z" fill="#c4c4c4"/>
<g clip-path="url(#c7)" opacity="1.0"><rect x="700" y="650" width="650" height="250" fill="url(#pstripe2)"/></g>
<path d="M731.4,822.0 L731.5,819.2 L731.5,816.3 L731.5,813.5 L731.5,810.6 L731.8,807.8 L732.3,805.0 L733.0,802.4 L733.8,799.8 L734.7,797.2 L735.8,794.6 L737.0,792.1 L738.4,789.7 L740.0,787.4 L741.5,785.5 L743.3,783.7 L745.2,781.9 L747.2,780.3 L749.3,778.6 L751.5,777.0 L753.7,775.5 L755.8,774.0 L757.9,772.5 L760.1,771.0 L762.3,769.5 L764.5,768.2 L766.8,766.8 L769.0,765.5 L771.3,764.2 L773.5,763.0 L775.8,761.8 L778.3,760.5 L780.9,759.2 L783.4,758.0 L786.0,756.8 L788.6,755.6 L791.1,754.5 L793.7,753.4 L796.2,752.4 L798.7,751.4 L801.2,750.4 L803.7,749.5 L806.2,748.5 L808.9,747.6 L811.6,746.5 L813.8,745.6 L816.1,744.7 L818.5,743.7 L821.0,742.7 L823.5,741.7 L826.0,740.6 L828.4,739.6 L830.8,738.7 L833.1,737.7 L835.3,736.9 L837.3,736.1 L840.0,735.1 L842.3,734.2 L844.5,733.4 L847.0,732.6 L850.0,731.6 L851.7,731.0 L853.6,730.4 L855.6,729.8 L857.7,729.1 L860.0,728.4 L862.3,727.7 L864.7,727.0 L867.2,726.2 L869.8,725.4 L872.4,724.7 L875.1,723.8 L877.8,723.0 L880.5,722.2 L883.3,721.4 L886.1,720.5 L888.9,719.7 L891.7,718.9 L894.5,718.0 L897.3,717.2 L900.0,716.4 L902.2,715.7 L904.5,715.1 L906.8,714.4 L909.1,713.7 L911.4,713.0 L913.8,712.3 L916.2,711.6 L918.5,710.9 L921.0,710.2 L923.4,709.5 L925.8,708.8 L928.3,708.1 L930.7,707.4 L933.2,706.6 L935.7,705.9 L938.2,705.2 L940.7,704.5 L943.2,703.7 L945.7,703.0 L948.1,702.3 L950.6,701.6 L953.1,700.8 L955.6,700.1 L958.1,699.4 L960.6,698.7 L963.1,697.9 L965.5,697.2 L968.0,696.5 L970.4,695.8 L971.4,773.3 L968.8,773.8 L966.2,774.2 L963.6,774.6 L961.1,775.1 L958.5,775.5 L955.9,775.9 L953.4,776.4 L950.8,776.8 L948.1,777.3 L945.5,777.8 L942.8,778.4 L940.0,779.0 L937.7,779.5 L935.4,780.1 L933.1,780.6 L930.8,781.2 L928.5,781.9 L926.1,782.5 L923.8,783.1 L921.4,783.8 L919.0,784.5 L916.6,785.2 L914.1,785.9 L911.6,786.5 L909.1,787.2 L906.6,787.9 L904.0,788.6 L901.4,789.3 L898.8,790.0 L896.5,790.6 L894.2,791.1 L891.9,791.7 L889.5,792.3 L887.0,792.9 L884.6,793.5 L882.1,794.0 L879.5,794.6 L877.0,795.2 L874.4,795.8 L871.9,796.4 L869.3,797.0 L866.8,797.6 L864.2,798.2 L861.6,798.8 L859.1,799.4 L856.6,800.0 L854.1,800.6 L851.7,801.2 L849.2,801.9 L846.9,802.5 L844.5,803.1 L842.2,803.8 L840.0,804.4 L837.3,805.2 L834.6,806.1 L831.9,807.0 L829.2,807.9 L826.6,808.9 L824.1,809.8 L821.5,810.8 L819.0,811.7 L816.5,812.6 L814.1,813.5 L811.7,814.4 L809.3,815.2 L806.9,816.0 L804.6,816.7 L802.3,817.4 L800.0,818.0 L797.2,818.7 L794.5,819.2 L791.8,819.7 L789.2,820.1 L786.6,820.5 L784.1,820.8 L781.5,821.1 L779.0,821.4 L776.4,821.7 L773.7,822.0 L771.1,822.3 L768.4,822.6 L765.7,822.9 L762.9,823.1 L760.1,823.4 L757.4,823.6 L754.7,823.8 L752.1,823.9 L749.6,824.0 L747.2,824.0 L745.0,824.0 L742.0,823.8 L739.2,823.4 L736.6,822.9 L734.0,822.4 L731.4,822.0 Z" fill="#cbc9c7"/>
<g clip-path="url(#c8)"><rect x="700" y="640" width="520" height="200" filter="url(#ffoam)"/></g>
<path d="M1010.0,690.1 L1012.5,688.9 L1015.0,687.8 L1017.5,686.6 L1019.9,685.5 L1022.5,684.3 L1025.1,683.2 L1027.9,682.1 L1030.1,681.3 L1032.4,680.5 L1034.8,679.7 L1037.2,678.9 L1039.7,678.2 L1042.2,677.4 L1044.7,676.7 L1047.2,676.0 L1049.7,675.3 L1052.2,674.6 L1054.7,674.0 L1057.4,673.3 L1060.1,672.7 L1062.7,672.1 L1065.4,671.5 L1068.1,671.0 L1070.8,670.4 L1073.5,669.9 L1076.2,669.5 L1078.9,669.0 L1081.6,668.6 L1084.3,668.2 L1087.0,667.9 L1089.7,667.6 L1092.4,667.3 L1095.2,667.1 L1097.9,666.9 L1100.6,666.6 L1103.2,666.4 L1105.8,666.2 L1108.4,666.0 L1111.2,665.7 L1113.9,665.5 L1116.5,665.2 L1119.1,665.0 L1121.7,664.7 L1124.4,664.5 L1127.1,664.3 L1130.0,664.2 L1132.3,664.1 L1134.7,664.0 L1137.1,663.8 L1139.6,663.7 L1142.1,663.6 L1144.6,663.5 L1147.2,663.5 L1149.7,663.5 L1152.3,663.5 L1154.9,663.6 L1157.4,663.8 L1160.0,664.0 L1162.6,664.3 L1165.4,664.6 L1168.2,664.9 L1171.1,665.2 L1174.0,665.6 L1176.9,666.0 L1179.8,666.5 L1182.6,667.1 L1185.2,667.8 L1187.6,668.6 L1189.8,669.5 L1191.8,670.6 L1193.5,671.8 L1195.4,673.8 L1197.0,676.1 L1198.2,678.6 L1199.1,681.3 L1199.8,684.0 L1200.3,686.8 L1200.6,689.4 L1200.7,691.9 L1200.6,694.6 L1200.2,697.2 L1199.7,699.8 L1199.0,702.4 L1198.1,704.8 L1197.0,707.0 L1195.6,709.3 L1193.9,711.6 L1192.0,713.7 L1189.9,715.6 L1187.6,717.3 L1185.3,718.8 L1183.1,719.9 L1180.8,720.8 L1178.5,721.4 L1176.0,722.0 L1173.3,722.5 L1170.5,723.0 L1167.6,723.5 L1165.5,723.9 L1163.3,724.2 L1161.0,724.5 L1158.6,724.8 L1156.2,725.1 L1153.6,725.3 L1151.0,725.6 L1148.4,725.8 L1145.8,726.1 L1143.1,726.3 L1140.4,726.6 L1137.8,726.9 L1135.2,727.2 L1132.6,727.6 L1130.0,728.0 L1127.5,728.4 L1125.1,728.9 L1122.6,729.4 L1120.1,729.8 L1117.6,730.4 L1115.1,730.9 L1112.7,731.4 L1110.2,732.0 L1107.7,732.6 L1105.2,733.1 L1102.7,733.7 L1100.2,734.3 L1097.8,734.9 L1095.3,735.5 L1092.9,736.0 L1090.5,736.6 L1087.9,737.2 L1085.3,737.9 L1082.7,738.5 L1080.2,739.2 L1077.6,739.9 L1075.1,740.5 L1072.6,741.2 L1070.0,741.9 L1067.5,742.6 L1065.0,743.2 L1062.4,743.8 L1059.9,744.5 L1057.3,745.0 L1054.7,745.6 L1052.2,746.1 L1049.5,746.6 L1046.8,747.1 L1044.0,747.6 L1041.2,748.1 L1038.4,748.6 L1035.6,749.0 L1032.8,749.5 L1030.1,749.9 L1027.6,750.3 L1025.1,750.7 L1022.8,751.0 L1020.7,751.3 L1018.9,751.6 L1017.2,751.9 L1013.2,752.5 L1010.0,753.0 Z" fill="#cbc9c7"/>
<g clip-path="url(#c9)"><rect x="700" y="640" width="520" height="200" filter="url(#ffoam)"/></g>
<path d="M899.6,667.6 L972,693.8 L970,697 L899.6,670.6 Z" fill="#d39556" opacity="0.9"/>
<path d="M972.1,694.7 L1016.9,707.3 L1016.9,784.3 L972.1,772.5 Z" fill="url(#strg)"/>
<g clip-path="url(#c10)"><g transform="rotate(12 995 740)"><rect x="940" y="670" width="110" height="140" filter="url(#fgrain)"/></g></g>
<path d="M971.4,695.8 L971.4,773.3 L966,774.5 L966,697.5 Z" fill="#ffffff" opacity="0.18"/>
<path d="M783.0,843.0 L785.5,842.4 L788.0,841.8 L790.6,841.2 L793.1,840.6 L795.7,839.9 L798.3,839.3 L800.9,838.7 L803.4,838.0 L806.0,837.4 L808.6,836.8 L811.2,836.2 L813.8,835.5 L816.3,834.9 L818.8,834.3 L821.3,833.7 L823.8,833.1 L826.3,832.5 L828.7,831.9 L831.0,831.4 L833.3,830.8 L835.6,830.3 L837.8,829.7 L840.0,829.2 L842.8,828.5 L845.5,827.9 L848.2,827.3 L850.7,826.7 L853.2,826.1 L855.7,825.6 L858.1,825.0 L860.6,824.4 L863.0,823.9 L865.4,823.3 L867.8,822.7 L870.2,822.1 L872.7,821.4 L875.2,820.7 L877.7,820.0 L880.2,819.2 L882.7,818.5 L885.2,817.7 L887.7,816.9 L890.2,816.1 L892.7,815.4 L895.2,814.6 L897.7,813.8 L900.2,813.0 L902.8,812.3 L905.3,811.6 L907.7,810.9 L910.2,810.3 L912.7,809.6 L915.1,809.0 L917.6,808.4 L920.1,807.8 L922.6,807.1 L925.1,806.5 L927.6,805.9 L930.1,805.4 L932.6,804.8 L935.1,804.2 L937.5,803.6 L940.0,803.1 L942.5,802.6 L945.1,802.0 L947.6,801.6 L950.1,801.1 L952.7,800.6 L955.2,800.2 L957.7,799.7 L960.2,799.3 L962.7,798.8 L965.2,798.3 L967.7,797.8 L970.2,797.2 L972.7,796.6 L975.2,795.9 L977.7,795.3 L980.2,794.5 L982.7,793.8 L985.2,793.0 L987.7,792.2 L990.2,791.4 L992.7,790.6 L995.2,789.8 L997.7,789.0 L1000.2,788.2 L1002.8,787.5 L1005.3,786.8 L1007.7,786.2 L1010.1,785.6 L1012.5,785.0 L1014.8,784.5 L1017.2,784.0 L1019.6,783.5 L1022.0,782.9 L1024.4,782.4 L1026.9,781.9 L1029.4,781.4 L1031.9,780.8 L1034.5,780.2 L1037.2,779.6 L1040.0,778.9 L1042.2,778.4 L1044.5,777.8 L1046.8,777.2 L1049.1,776.6 L1051.5,776.0 L1054.0,775.4 L1056.5,774.7 L1059.0,774.1 L1061.6,773.4 L1064.1,772.7 L1066.7,772.0 L1069.3,771.4 L1072.0,770.7 L1074.6,770.0 L1077.2,769.3 L1079.8,768.5 L1082.4,767.8 L1085.0,767.1 L1087.6,766.4 L1090.1,765.7 L1092.7,765.0 L1095.1,764.4 L1097.6,763.7 L1100.0,763.0 L1102.6,762.3 L1105.2,761.5 L1107.8,760.8 L1110.4,760.0 L1113.0,759.3 L1115.6,758.5 L1118.2,757.7 L1120.8,757.0 L1123.3,756.2 L1125.8,755.5 L1128.4,754.7 L1130.9,754.0 L1133.3,753.2 L1135.8,752.5 L1138.2,751.7 L1140.6,751.0 L1143.0,750.3 L1145.4,749.6 L1147.7,748.9 L1150.0,748.2 L1152.7,747.4 L1155.4,746.6 L1158.0,745.8 L1160.5,745.0 L1163.1,744.2 L1165.6,743.4 L1168.1,742.7 L1170.5,741.9 L1173.0,741.2 L1175.4,740.4 L1177.9,739.7 L1180.3,739.0 L1182.8,738.3 L1185.3,737.6 L1187.8,737.0 L1190.4,736.3 L1193.0,735.7 L1195.7,735.2 L1198.3,734.6 L1201.0,734.1 L1203.6,733.5 L1206.2,733.0 L1208.7,732.4 L1211.1,731.8 L1213.4,731.3 L1215.6,730.7 L1217.6,730.1 L1219.4,729.4 L1222.6,728.1 L1225.4,726.8 L1227.8,725.3 L1230.0,723.5 L1231.7,721.7 L1233.3,719.7 L1234.7,717.5 L1236.0,715.3 L1237.0,712.9 L1237.9,710.2 L1238.7,707.4 L1239.2,704.5 L1239.4,701.6 L1239.3,698.8 L1238.8,696.3 L1237.9,694.0 L1236.8,691.7 L1235.6,689.3 L1234.6,687.0 L1273.4,699.8 L1275.9,700.9 L1278.5,702.0 L1281.1,703.2 L1283.8,704.3 L1286.5,705.5 L1289.2,706.6 L1291.7,707.7 L1294.2,708.8 L1296.6,709.9 L1298.9,710.9 L1300.9,711.9 L1302.8,712.9 L1305.7,714.4 L1308.2,715.8 L1310.4,717.2 L1312.2,718.8 L1313.8,720.9 L1315.0,723.3 L1315.8,725.8 L1316.4,728.8 L1316.6,732.0 L1316.4,735.2 L1315.8,738.4 L1314.9,741.6 L1313.4,744.6 L1311.7,746.8 L1309.6,748.9 L1307.4,750.9 L1305.2,752.9 L1305.2,752.9 L1307.6,753.7 L1310.0,754.5 L1312.4,755.2 L1314.8,756.0 L1317.2,756.8 L1319.6,757.6 L1322.0,758.4 L1324.6,759.2 L1327.2,760.1 L1330.0,761.1 L1332.1,761.8 L1334.2,762.6 L1336.4,763.4 L1338.6,764.3 L1340.9,765.1 L1343.2,766.0 L1345.6,766.9 L1348.0,767.8 L1350.4,768.8 L1352.9,769.7 L1355.3,770.7 L1357.8,771.6 L1360.3,772.6 L1362.8,773.5 L1365.2,774.5 L1367.7,775.4 L1370.2,776.3 L1372.6,777.1 L1375.0,778.0 L1377.4,778.8 L1379.8,779.7 L1382.2,780.5 L1384.6,781.3 L1387.0,782.1 L1389.5,782.9 L1391.9,783.7 L1394.3,784.5 L1396.7,785.2 L1399.2,786.0 L1401.6,786.8 L1404.0,787.6 L1406.4,788.3 L1408.9,789.1 L1411.3,789.9 L1413.7,790.7 L1416.2,791.4 L1418.6,792.2 L1421.0,793.0 L1421.0,794.0 L1285.0,835.0 L1200.0,860.0 L1100.0,885.0 L1015.0,909.0 L1015.0,909.0 L1012.5,908.1 L1010.1,907.2 L1007.6,906.3 L1005.2,905.4 L1002.7,904.5 L1000.2,903.5 L997.8,902.6 L995.3,901.7 L992.9,900.8 L990.4,899.9 L987.9,899.0 L985.5,898.1 L983.0,897.3 L980.5,896.4 L978.1,895.6 L975.6,894.8 L973.2,894.0 L970.8,893.3 L968.4,892.6 L966.0,891.9 L963.6,891.2 L961.3,890.6 L958.9,889.9 L956.5,889.3 L954.1,888.6 L951.7,888.0 L949.3,887.4 L946.8,886.7 L944.3,886.0 L941.7,885.4 L939.1,884.7 L936.4,884.0 L934.2,883.4 L931.9,882.8 L929.6,882.3 L927.3,881.7 L924.9,881.1 L922.5,880.5 L920.1,879.9 L917.7,879.3 L915.2,878.7 L912.7,878.1 L910.2,877.5 L907.7,876.9 L905.2,876.3 L902.7,875.7 L900.2,875.1 L897.6,874.5 L895.1,873.8 L892.6,873.2 L890.0,872.6 L887.5,871.9 L885.0,871.3 L882.5,870.6 L880.1,870.0 L877.6,869.3 L875.1,868.6 L872.6,867.9 L870.1,867.2 L867.6,866.4 L865.1,865.7 L862.5,864.9 L860.0,864.2 L857.4,863.4 L854.9,862.6 L852.4,861.8 L849.8,861.0 L847.3,860.2 L844.8,859.4 L842.3,858.7 L839.8,857.9 L837.3,857.1 L834.9,856.4 L832.5,855.7 L830.1,854.9 L827.8,854.3 L825.5,853.6 L823.2,852.9 L821.0,852.3 L818.8,851.7 L816.0,850.9 L813.2,850.2 L810.6,849.6 L808.0,848.9 L805.4,848.3 L802.9,847.7 L800.4,847.1 L797.9,846.5 L795.4,845.9 L793.0,845.4 L790.5,844.8 L788.0,844.2 L785.5,843.6 L783.0,843.0 Z" fill="#c6a48c"/>
<g clip-path="url(#c11)" opacity="0.8"><g transform="rotate(-14 1000 780)"><rect x="500" y="500" width="900" height="600" filter="url(#fwood)"/></g></g>
<path d="M834.5,857.6 L836.9,855.8 L840.0,854.0 L841.5,853.4 L843.2,852.8 L845.2,852.2 L847.4,851.5 L849.8,850.9 L852.4,850.2 L855.1,849.5 L857.8,848.9 L860.7,848.2 L863.5,847.5 L866.3,846.9 L869.1,846.2 L871.8,845.5 L874.4,844.9 L876.9,844.2 L879.2,843.6 L882.0,842.8 L884.7,842.0 L887.3,841.2 L889.8,840.4 L892.3,839.6 L894.8,838.8 L897.4,838.0 L899.9,837.2 L902.6,836.5 L905.3,835.7 L907.6,835.1 L910.0,834.4 L912.4,833.8 L914.9,833.2 L917.4,832.6 L919.9,832.0 L922.4,831.3 L924.9,830.7 L927.5,830.1 L930.0,829.5 L932.5,828.9 L935.0,828.3 L937.5,827.8 L940.0,827.2 L942.5,826.6 L945.1,826.1 L947.6,825.5 L950.1,825.0 L952.6,824.5 L955.2,823.9 L957.7,823.4 L960.2,822.9 L962.7,822.3 L965.2,821.8 L967.7,821.3 L970.2,820.7 L972.7,820.1 L975.2,819.5 L977.7,818.9 L980.2,818.3 L982.7,817.6 L985.2,817.0 L987.7,816.3 L990.2,815.7 L992.7,815.0 L995.2,814.3 L997.7,813.7 L1000.2,813.0 L1002.8,812.3 L1005.3,811.6 L1007.7,810.9 L1010.1,810.3 L1012.5,809.6 L1014.9,809.0 L1017.2,808.3 L1019.6,807.6 L1022.0,806.9 L1024.4,806.3 L1026.9,805.6 L1029.4,804.8 L1031.9,804.1 L1034.5,803.4 L1037.2,802.6 L1040.0,801.8 L1042.2,801.2 L1044.4,800.5 L1046.8,799.9 L1049.1,799.2 L1051.5,798.5 L1054.0,797.8 L1056.5,797.1 L1059.0,796.3 L1061.5,795.6 L1064.1,794.8 L1066.7,794.1 L1069.3,793.3 L1071.9,792.6 L1074.6,791.8 L1077.2,791.1 L1079.8,790.3 L1082.4,789.5 L1085.0,788.8 L1087.6,788.1 L1090.1,787.3 L1092.6,786.6 L1095.1,785.9 L1097.6,785.2 L1100.0,784.5 L1102.6,783.8 L1105.2,783.0 L1107.7,782.3 L1110.2,781.6 L1112.7,780.9 L1115.2,780.2 L1117.7,779.5 L1120.1,778.8 L1122.6,778.1 L1125.0,777.5 L1127.5,776.8 L1129.9,776.1 L1132.4,775.4 L1134.8,774.7 L1137.3,774.0 L1139.8,773.3 L1142.3,772.6 L1144.9,771.9 L1147.4,771.2 L1150.0,770.5 L1152.4,769.8 L1154.8,769.2 L1157.2,768.5 L1159.6,767.8 L1162.1,767.1 L1164.6,766.3 L1167.1,765.6 L1169.6,764.9 L1172.1,764.2 L1174.7,763.4 L1177.2,762.7 L1179.7,762.0 L1182.3,761.3 L1184.8,760.5 L1187.3,759.8 L1189.8,759.1 L1192.2,758.4 L1194.7,757.8 L1197.1,757.1 L1199.5,756.4 L1201.9,755.8 L1204.2,755.2 L1206.5,754.6 L1208.8,754.0 L1211.6,753.3 L1214.4,752.7 L1217.3,752.0 L1220.1,751.4 L1222.9,750.8 L1225.7,750.3 L1228.4,749.7 L1231.1,749.2 L1233.8,748.6 L1236.4,748.1 L1238.9,747.6 L1241.3,747.0 L1243.7,746.4 L1245.9,745.8 L1248.0,745.2 L1250.0,744.6 L1253.1,743.5 L1255.9,742.5 L1258.5,741.5 L1260.8,740.4 L1263.1,739.1 L1265.2,737.6 L1267.1,735.9 L1269.0,734.1 L1270.6,732.1 L1272.2,730.1 L1273.5,727.9 L1274.6,725.8 L1275.6,723.3 L1276.3,720.7 L1276.8,718.1 L1277.0,715.5 L1277.0,712.9 L1276.5,709.9 L1275.6,707.0 L1274.4,704.0 L1273.4,701.1 L1302.8,712.9 L1305.3,714.3 L1307.8,715.7 L1310.2,717.1 L1312.2,718.8 L1313.8,720.9 L1315.0,723.3 L1315.8,725.8 L1316.4,728.8 L1316.6,732.0 L1316.4,735.2 L1315.8,738.4 L1314.9,741.6 L1313.4,744.6 L1311.7,746.8 L1309.6,748.9 L1307.4,750.9 L1305.2,752.9 L1305.2,752.9 L1307.6,753.7 L1310.0,754.5 L1312.4,755.2 L1314.8,756.0 L1317.2,756.8 L1319.6,757.6 L1322.0,758.4 L1324.6,759.2 L1327.2,760.1 L1330.0,761.1 L1332.1,761.8 L1334.2,762.6 L1336.4,763.4 L1338.6,764.3 L1340.9,765.1 L1343.2,766.0 L1345.6,766.9 L1348.0,767.8 L1350.4,768.8 L1352.9,769.7 L1355.3,770.7 L1357.8,771.6 L1360.3,772.6 L1362.8,773.5 L1365.2,774.5 L1367.7,775.4 L1370.2,776.3 L1372.6,777.1 L1375.0,778.0 L1377.4,778.8 L1379.8,779.7 L1382.2,780.5 L1384.6,781.3 L1387.0,782.1 L1389.5,782.9 L1391.9,783.7 L1394.3,784.5 L1396.7,785.2 L1399.2,786.0 L1401.6,786.8 L1404.0,787.6 L1406.4,788.3 L1408.9,789.1 L1411.3,789.9 L1413.7,790.7 L1416.2,791.4 L1418.6,792.2 L1421.0,793.0 L1421.0,794.0 L1285.0,835.0 L1200.0,860.0 L1100.0,885.0 L1015.0,909.0 L1015.0,909.0 L1012.5,908.1 L1010.1,907.2 L1007.6,906.3 L1005.2,905.4 L1002.7,904.5 L1000.2,903.5 L997.8,902.6 L995.3,901.7 L992.9,900.8 L990.4,899.9 L987.9,899.0 L985.5,898.1 L983.0,897.3 L980.5,896.4 L978.1,895.6 L975.6,894.8 L973.2,894.0 L970.8,893.3 L968.4,892.6 L966.0,891.9 L963.6,891.2 L961.3,890.6 L958.9,889.9 L956.5,889.3 L954.1,888.6 L951.7,888.0 L949.3,887.4 L946.8,886.7 L944.3,886.0 L941.7,885.4 L939.1,884.7 L936.4,884.0 L934.2,883.4 L931.9,882.8 L929.6,882.2 L927.2,881.6 L924.8,881.0 L922.3,880.4 L919.9,879.8 L917.3,879.2 L914.8,878.6 L912.3,877.9 L909.7,877.3 L907.2,876.7 L904.6,876.1 L902.1,875.4 L899.5,874.8 L897.0,874.2 L894.4,873.6 L891.9,872.9 L889.5,872.3 L887.0,871.7 L884.6,871.1 L882.2,870.5 L879.9,869.9 L877.6,869.3 L874.9,868.6 L872.2,867.9 L869.6,867.2 L867.0,866.5 L864.4,865.8 L861.9,865.1 L859.4,864.4 L856.9,863.7 L854.4,863.1 L851.9,862.4 L849.4,861.7 L847.0,861.0 L844.5,860.3 L842.0,859.7 L839.5,859.0 L837.0,858.3 L834.5,857.6 Z" fill="#c8c8c8"/>
<g clip-path="url(#c12)" opacity="1.0"><rect x="800" y="650" width="650" height="280" fill="url(#pcheck)"/></g>
<path d="M922.7,881.0 L1100.0,833.0 L1225.0,801.0 L1335.0,770.0 L1378.0,780.0 L1421.0,793.0 L1421.0,794.0 L1285.0,835.0 L1200.0,860.0 L1100.0,885.0 L1015.0,909.0 L1015.0,909.0 L1012.5,908.1 L1010.1,907.2 L1007.6,906.3 L1005.2,905.4 L1002.7,904.5 L1000.2,903.5 L997.8,902.6 L995.3,901.7 L992.9,900.8 L990.4,899.9 L987.9,899.0 L985.5,898.1 L983.0,897.3 L980.5,896.4 L978.1,895.6 L975.6,894.8 L973.1,894.0 L970.6,893.2 L968.0,892.5 L965.4,891.7 L962.7,891.0 L960.0,890.2 L957.4,889.5 L954.8,888.8 L952.2,888.1 L949.7,887.4 L947.2,886.7 L944.8,886.1 L942.5,885.5 L940.3,885.0 L938.3,884.5 L936.4,884.0 L933.2,883.2 L930.4,882.6 L927.8,882.1 L925.3,881.6 L922.7,881.0 Z" fill="url(#epg)"/>
<path d="M975.6,894.8 L1100.0,857.0 L1285.0,807.0 L1372.5,782.5 L1421.0,793.0 L1421.0,794.0 L1285.0,835.0 L1200.0,860.0 L1100.0,885.0 L1015.0,909.0 L1015.0,909.0 L975.6,894.8 Z" fill="url(#pug)"/>
<path d="M499,712 L535,723 L535,732 L499,721 Z" fill="#e3d9d3" opacity="0.75" filter="url(#blur2)"/>
<path d="M536,724 L573,734 L573,745 L536,737 Z" fill="#fffaf6" opacity="0.95" filter="url(#blur2)"/>
<g clip-path="url(#c13)"><path d="M572,736 L610,748 L650,762 L700,781 L760,801 L762,840 L570,780 Z" fill="#ffffff" opacity="0.28" filter="url(#blur4)"/></g>
<path d="M141.6,361.6 L143.8,362.9 L146.1,364.1 L148.4,365.4 L150.6,366.7 L152.9,368.0 L155.2,369.3 L157.4,370.6 L159.7,371.9 L162.0,373.2 L164.2,374.5 L166.5,375.8 L168.8,377.1 L171.0,378.4 L173.3,379.7 L175.6,381.0 L177.8,382.2 L180.1,383.5 L182.3,384.8 L184.6,386.0 L186.8,387.3 L189.0,388.5 L191.2,389.7 L193.4,391.0 L195.6,392.1 L197.8,393.3 L200.0,394.5 L202.3,395.7 L204.7,397.0 L207.0,398.2 L209.3,399.4 L211.6,400.6 L213.9,401.8 L216.1,403.0 L218.4,404.1 L220.7,405.3 L222.9,406.4 L225.2,407.6 L227.4,408.7 L229.7,409.8 L231.9,410.9 L234.2,412.1 L236.4,413.2 L238.7,414.3 L240.9,415.4 L243.2,416.5 L245.4,417.6 L247.7,418.7 L250.0,419.8 L252.3,420.9 L254.5,422.0 L256.8,423.1 L259.1,424.1 L261.3,425.2 L263.6,426.3 L265.9,427.3 L268.1,428.4 L270.4,429.4 L272.7,430.5 L275.0,431.5 L277.2,432.6 L279.5,433.6 L281.8,434.6 L284.1,435.7 L286.3,436.7 L288.6,437.7 L290.9,438.7 L293.2,439.8 L295.4,440.8 L297.7,441.8 L300.0,442.8 L302.3,443.8 L304.6,444.8 L306.9,445.8 L309.1,446.8 L311.3,447.8 L313.5,448.7 L315.6,449.6 L317.8,450.6 L320.0,451.5 L322.2,452.4 L324.4,453.4 L326.7,454.3 L329.0,455.3 L331.3,456.3 L333.7,457.3 L336.2,458.4 L338.8,459.4 L341.4,460.5 L344.2,461.7 L347.0,462.9 L350.0,464.1 L351.7,464.8 L353.5,465.6 L355.3,466.3 L357.2,467.1 L359.1,467.9 L361.1,468.7 L363.1,469.5 L365.1,470.3 L367.2,471.2 L369.3,472.0 L371.4,472.9 L373.6,473.8 L375.8,474.7 L378.0,475.6 L380.2,476.6 L382.5,477.5 L384.8,478.4 L387.2,479.4 L389.5,480.4 L391.9,481.3 L394.3,482.3 L396.7,483.3 L399.2,484.3 L401.6,485.3 L404.1,486.3 L406.6,487.3 L409.1,488.3 L411.6,489.4 L414.2,490.4 L416.7,491.4 L419.3,492.4 L421.8,493.5 L424.4,494.5 L426.9,495.5 L429.5,496.6 L432.1,497.6 L434.7,498.7 L437.2,499.7 L439.8,500.7 L442.4,501.8 L444.9,502.8 L447.5,503.8 L450.1,504.9 L452.6,505.9 L455.1,506.9 L457.7,507.9 L460.2,508.9 L462.7,509.9 L465.2,510.9 L467.7,511.9 L470.1,512.9 L472.6,513.8 L475.0,514.8 L477.4,515.7 L479.8,516.7 L482.1,517.6 L484.5,518.5 L486.8,519.4 L489.0,520.3 L491.3,521.2 L493.5,522.1 L495.7,522.9 L497.9,523.8 L500.0,524.6 L502.6,525.6 L505.2,526.6 L507.8,527.6 L510.4,528.6 L513.0,529.6 L515.6,530.6 L518.2,531.6 L520.8,532.5 L523.3,533.5 L525.9,534.5 L528.5,535.4 L531.0,536.4 L533.5,537.3 L536.1,538.3 L538.6,539.2 L541.1,540.1 L543.6,541.1 L546.0,542.0 L548.5,542.9 L550.9,543.8 L553.4,544.7 L555.8,545.6 L558.2,546.5 L560.6,547.3 L562.9,548.2 L565.3,549.1 L567.6,549.9 L569.9,550.8 L572.2,551.6 L574.5,552.4 L576.8,553.3 L579.0,554.1 L581.2,554.9 L583.4,555.7 L585.6,556.5 L587.7,557.3 L589.8,558.1 L591.9,558.9 L594.0,559.6 L596.0,560.4 L598.0,561.2 L600.0,561.9 L602.7,562.9 L605.4,563.9 L607.9,564.9 L610.4,565.8 L612.8,566.7 L615.1,567.6 L617.4,568.5 L619.6,569.4 L621.8,570.2 L624.0,571.1 L626.2,571.9 L628.4,572.7 L630.6,573.6 L632.8,574.4 L635.1,575.3 L637.4,576.2 L639.8,577.1 L642.2,578.0 L644.7,578.9 L647.3,579.9 L650.0,580.9 L652.0,581.6 L654.1,582.4 L656.1,583.2 L658.3,583.9 L660.4,584.7 L662.6,585.5 L664.8,586.3 L667.0,587.1 L669.3,588.0 L671.5,588.8 L673.8,589.6 L676.2,590.5 L678.5,591.3 L680.9,592.2 L683.2,593.0 L685.6,593.9 L688.0,594.8 L690.5,595.6 L692.9,596.5 L695.3,597.4 L697.8,598.3 L700.2,599.2 L702.7,600.0 L705.2,600.9 L707.6,601.8 L710.1,602.7 L712.6,603.6 L715.0,604.5 L717.5,605.4 L720.0,606.3 L722.4,607.1 L724.9,608.0 L727.3,608.9 L729.7,609.8 L732.2,610.7 L734.6,611.5 L737.0,612.4 L739.3,613.2 L741.7,614.1 " fill="none" stroke="#77726e" stroke-width="1.8"/>
<g class="hl"><line x1="820.6" y1="188.3" x2="820.6" y2="610.5"/><line x1="856" y1="242.5" x2="856" y2="620.5"/><line x1="887.3" y1="310.1" x2="887.3" y2="632.5"/><line x1="919.6" y1="357" x2="919.6" y2="649.1"/><line x1="950.7" y1="431.5" x2="950.7" y2="665.6"/><line x1="1073" y1="519" x2="1073" y2="694.2"/><line x1="337" y1="548.3" x2="337" y2="804"/><line x1="843" y1="816.5" x2="843" y2="1255.2"/><line x1="879.4" y1="830.7" x2="879.4" y2="1179.5"/><line x1="912.4" y1="846.8" x2="912.4" y2="1140.6"/><line x1="945" y1="863.9" x2="945" y2="1076"/><line x1="983.9" y1="878.6" x2="983.9" y2="1006.5"/><line x1="1013" y1="893.3" x2="1013" y2="950"/><polyline points="1218,506.5 1218,728 1008,728" fill="none"/></g>
<g class="ld"><line x1="820.6" y1="188.3" x2="820.6" y2="610.5"/><line x1="856" y1="242.5" x2="856" y2="620.5"/><line x1="887.3" y1="310.1" x2="887.3" y2="632.5"/><line x1="919.6" y1="357" x2="919.6" y2="649.1"/><line x1="950.7" y1="431.5" x2="950.7" y2="665.6"/><line x1="1073" y1="519" x2="1073" y2="694.2"/><line x1="337" y1="548.3" x2="337" y2="804"/><line x1="843" y1="816.5" x2="843" y2="1255.2"/><line x1="879.4" y1="830.7" x2="879.4" y2="1179.5"/><line x1="912.4" y1="846.8" x2="912.4" y2="1140.6"/><line x1="945" y1="863.9" x2="945" y2="1076"/><line x1="983.9" y1="878.6" x2="983.9" y2="1006.5"/><line x1="1013" y1="893.3" x2="1013" y2="950"/><polyline points="1218,506.5 1218,728 1008,728" fill="none"/></g>
<g class="dt"><circle cx="820.6" cy="610.5" r="4.6"/><circle cx="856" cy="620.5" r="4.6"/><circle cx="887.3" cy="632.5" r="4.6"/><circle cx="919.6" cy="649.1" r="4.6"/><circle cx="950.7" cy="665.6" r="4.6"/><circle cx="1073" cy="694.2" r="4.6"/><circle cx="337" cy="548.3" r="4.6"/><circle cx="843" cy="816.5" r="4.6"/><circle cx="879.4" cy="830.7" r="4.6"/><circle cx="912.4" cy="846.8" r="4.6"/><circle cx="945" cy="863.9" r="4.6"/><circle cx="983.9" cy="878.6" r="4.6"/><circle cx="1013" cy="893.3" r="4.6"/><circle cx="1008" cy="728" r="4.6"/></g>
<text class="m" x="826.7" y="202.0" letter-spacing="-1.78">PU HOT COAT</text><path d="M829.5,206.8 V215.9 H838.0" fill="none" stroke="#6b6b6b" stroke-width="1.2"/><rect x="838.1" y="212.7" width="5.6" height="5.6" fill="none" stroke="#6b6b6b" stroke-width="1.3"/><text class="s" x="847.0" y="220.0" letter-spacing="-1.09">BETTER FINISH</text><text class="m" x="862.6" y="256.9" letter-spacing="-1.77">EPOXY HOT COAT</text><path d="M865.4,261.7 V270.8 H873.9" fill="none" stroke="#6b6b6b" stroke-width="1.2"/><rect x="874.0" y="267.6" width="5.6" height="5.6" fill="none" stroke="#6b6b6b" stroke-width="1.3"/><text class="s" x="882.9" y="274.9" letter-spacing="-0.70">LIGHT</text><path d="M865.4,279.6 V288.7 H873.9" fill="none" stroke="#6b6b6b" stroke-width="1.2"/><rect x="874.0" y="285.5" width="5.6" height="5.6" fill="none" stroke="#6b6b6b" stroke-width="1.3"/><text class="s" x="883.4" y="292.8" letter-spacing="-0.70">STRONG</text><text class="m" x="893.9" y="325.3" letter-spacing="-1.60">FIBERGLASS 6 OZ</text><text class="m" x="930.4" y="370.2" letter-spacing="-0.81">WOOD SANDWICH</text><path d="M931.8,375.0 V384.1 H940.3" fill="none" stroke="#6b6b6b" stroke-width="1.2"/><rect x="940.4" y="380.9" width="5.6" height="5.6" fill="none" stroke="#6b6b6b" stroke-width="1.3"/><text class="s" x="949.8" y="388.2" letter-spacing="-0.79">SHOCK ABSORBING</text><path d="M931.8,392.9 V402.0 H940.3" fill="none" stroke="#6b6b6b" stroke-width="1.2"/><rect x="940.4" y="398.8" width="5.6" height="5.6" fill="none" stroke="#6b6b6b" stroke-width="1.3"/><text class="s" x="949.2" y="406.1" letter-spacing="-1.04">DURABLE</text><text class="m" x="957.6" y="447.0" letter-spacing="-1.66">FIBERGLASS 6 OZ</text><text class="m" x="1079.8" y="533.9" letter-spacing="-1.63">EPS BLANK</text><path d="M1082.6,538.7 V547.8 H1091.1" fill="none" stroke="#6b6b6b" stroke-width="1.2"/><rect x="1091.2" y="544.6" width="5.6" height="5.6" fill="none" stroke="#6b6b6b" stroke-width="1.3"/><text class="s" x="1100.7" y="551.9" letter-spacing="-0.45">30 KG/M³</text><text class="m" x="1229.8" y="519.8" letter-spacing="-1.68">WOOD STRINGER 5MM</text><path d="M1231.2,524.6 V533.7 H1239.7" fill="none" stroke="#6b6b6b" stroke-width="1.2"/><rect x="1239.8" y="530.5" width="5.6" height="5.6" fill="none" stroke="#6b6b6b" stroke-width="1.3"/><text class="s" x="1249.2" y="537.8" letter-spacing="-1.12">STRONG</text><path d="M1231.2,542.5 V551.6 H1239.7" fill="none" stroke="#6b6b6b" stroke-width="1.2"/><rect x="1239.8" y="548.4" width="5.6" height="5.6" fill="none" stroke="#6b6b6b" stroke-width="1.3"/><text class="s" x="1248.7" y="555.7" letter-spacing="-0.85">DYNAMIC</text><text class="m" x="344.0" y="805.0" letter-spacing="-1.70">PRO FINISH</text><path d="M346.8,809.8 V818.9 H355.3" fill="none" stroke="#6b6b6b" stroke-width="1.2"/><rect x="355.4" y="815.7" width="5.6" height="5.6" fill="none" stroke="#6b6b6b" stroke-width="1.3"/><text class="s" x="364.2" y="823.0" letter-spacing="-0.88">HAND FINISHING</text><path d="M346.8,827.7 V836.8 H355.3" fill="none" stroke="#6b6b6b" stroke-width="1.2"/><rect x="355.4" y="833.6" width="5.6" height="5.6" fill="none" stroke="#6b6b6b" stroke-width="1.3"/><text class="s" x="364.2" y="840.9" letter-spacing="-0.70">MAT</text><path d="M346.8,845.6 V854.7 H355.3" fill="none" stroke="#6b6b6b" stroke-width="1.2"/><rect x="355.4" y="851.5" width="5.6" height="5.6" fill="none" stroke="#6b6b6b" stroke-width="1.3"/><text class="s" x="364.2" y="858.8" letter-spacing="-0.70">FAST</text><text class="m" x="1021.6" y="950.0" letter-spacing="-1.85">PU HOT COAT</text><path d="M1024.4,954.8 V963.9 H1032.9" fill="none" stroke="#6b6b6b" stroke-width="1.2"/><rect x="1033.0" y="960.7" width="5.6" height="5.6" fill="none" stroke="#6b6b6b" stroke-width="1.3"/><text class="s" x="1041.9" y="968.0" letter-spacing="-1.03">BETTER FINISH</text><text class="m" x="991.0" y="1005.9" letter-spacing="-1.77">EPOXY HOT COAT</text><path d="M993.8,1010.7 V1019.8 H1002.3" fill="none" stroke="#6b6b6b" stroke-width="1.2"/><rect x="1002.4" y="1016.6" width="5.6" height="5.6" fill="none" stroke="#6b6b6b" stroke-width="1.3"/><text class="s" x="1011.2" y="1023.9" letter-spacing="-0.70">LIGHT</text><path d="M993.8,1028.6 V1037.7 H1002.3" fill="none" stroke="#6b6b6b" stroke-width="1.2"/><rect x="1002.4" y="1034.5" width="5.6" height="5.6" fill="none" stroke="#6b6b6b" stroke-width="1.3"/><text class="s" x="1011.8" y="1041.8" letter-spacing="-0.70">STRONG</text><text class="m" x="953.3" y="1076.4" letter-spacing="-1.72">TAIL REINFORCEMENT</text><path d="M954.9,1081.2 V1090.3 H963.4" fill="none" stroke="#6b6b6b" stroke-width="1.2"/><rect x="963.5" y="1087.1" width="5.6" height="5.6" fill="none" stroke="#6b6b6b" stroke-width="1.3"/><text class="s" x="972.4" y="1094.4" letter-spacing="-0.96">FIBERGLASS 4 OZ</text><text class="m" x="918.6" y="1140.6" letter-spacing="-1.57">FIBERGLASS 6 OZ</text><text class="m" x="890.3" y="1180.0" letter-spacing="-0.80">WOOD SANDWICH</text><path d="M891.7,1184.8 V1193.9 H900.2" fill="none" stroke="#6b6b6b" stroke-width="1.2"/><rect x="900.3" y="1190.7" width="5.6" height="5.6" fill="none" stroke="#6b6b6b" stroke-width="1.3"/><text class="s" x="909.7" y="1198.0" letter-spacing="-0.77">SHOCK ABSORBING</text><path d="M891.7,1202.7 V1211.8 H900.2" fill="none" stroke="#6b6b6b" stroke-width="1.2"/><rect x="900.3" y="1208.6" width="5.6" height="5.6" fill="none" stroke="#6b6b6b" stroke-width="1.3"/><text class="s" x="909.1" y="1215.9" letter-spacing="-0.70">DURABLE</text><text class="m" x="849.8" y="1255.2" letter-spacing="-1.64">FIBERGLASS 4 OZ</text>
</svg>
</body></html>
